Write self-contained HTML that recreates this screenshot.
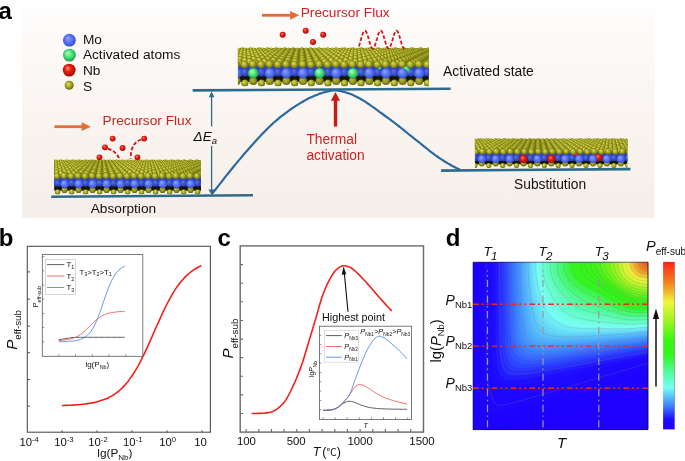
<!DOCTYPE html>
<html><head><meta charset="utf-8"><title>Figure</title>
<style>html,body{margin:0;padding:0;background:#fff;overflow:hidden}svg{display:block;font-family:"Liberation Sans", sans-serif}</style>
</head><body>
<svg width="685" height="461" viewBox="0 0 685 461">
<defs>
<radialGradient id="gy" cx="0.5" cy="0.5" r="0.62" fx="0.36" fy="0.32"><stop offset="0" stop-color="#dcdc66"/><stop offset="0.4" stop-color="#b4b528"/><stop offset="1" stop-color="#505108"/></radialGradient>
<radialGradient id="gyd" cx="0.5" cy="0.5" r="0.62" fx="0.36" fy="0.32"><stop offset="0" stop-color="#b9ba40"/><stop offset="0.5" stop-color="#95961c"/><stop offset="1" stop-color="#4a4b08"/></radialGradient>
<radialGradient id="gb" cx="0.5" cy="0.5" r="0.62" fx="0.36" fy="0.32"><stop offset="0" stop-color="#93a6ff"/><stop offset="0.5" stop-color="#5572f6"/><stop offset="1" stop-color="#2a3cb4"/></radialGradient>
<radialGradient id="gbd" cx="0.5" cy="0.5" r="0.62" fx="0.36" fy="0.32"><stop offset="0" stop-color="#5c74e6"/><stop offset="0.5" stop-color="#3a52cf"/><stop offset="1" stop-color="#1c2a8c"/></radialGradient>
<radialGradient id="gg" cx="0.5" cy="0.5" r="0.62" fx="0.36" fy="0.32"><stop offset="0" stop-color="#b4ffc0"/><stop offset="0.45" stop-color="#4ae67a"/><stop offset="1" stop-color="#14873a"/></radialGradient>
<radialGradient id="gr" cx="0.5" cy="0.5" r="0.62" fx="0.36" fy="0.32"><stop offset="0" stop-color="#ff8a70"/><stop offset="0.4" stop-color="#ee1c14"/><stop offset="1" stop-color="#8e0500"/></radialGradient>
<linearGradient id="bgA" x1="0" y1="0" x2="0" y2="1"><stop offset="0" stop-color="#ffffff"/><stop offset="0.1" stop-color="#fdfbfa"/><stop offset="0.5" stop-color="#faf5f1"/><stop offset="1" stop-color="#f6eee8"/></linearGradient>
<clipPath id="cs1"><rect x="54.1" y="159.3" width="146.9" height="35.3"/></clipPath>
<clipPath id="cs2"><rect x="237.9" y="47.3" width="190.99999999999997" height="39.2"/></clipPath>
<clipPath id="cs3"><rect x="474.9" y="138.2" width="152.60000000000002" height="29.9"/></clipPath>
<linearGradient id="cb" x1="0" y1="0" x2="0" y2="1"><stop offset="0.000" stop-color="rgb(255,35,20)"/><stop offset="0.125" stop-color="rgb(240,130,35)"/><stop offset="0.240" stop-color="rgb(240,245,60)"/><stop offset="0.360" stop-color="rgb(150,245,30)"/><stop offset="0.470" stop-color="rgb(55,245,20)"/><stop offset="0.550" stop-color="rgb(50,245,30)"/><stop offset="0.650" stop-color="rgb(80,250,150)"/><stop offset="0.750" stop-color="rgb(120,255,245)"/><stop offset="0.860" stop-color="rgb(60,130,255)"/><stop offset="0.940" stop-color="rgb(30,10,255)"/><stop offset="1.000" stop-color="rgb(30,0,255)"/></linearGradient>
</defs>
<rect x="22" y="0" width="632.5" height="218.2" fill="url(#bgA)"/>
<line x1="192.7" y1="90.4" x2="450.6" y2="88.8" stroke="#2d6b8c" stroke-width="2.6"/>
<line x1="51.2" y1="196.8" x2="253" y2="195.2" stroke="#2d6b8c" stroke-width="2.6"/>
<line x1="441.1" y1="170.6" x2="630.5" y2="169.1" stroke="#2d6b8c" stroke-width="2.6"/>
<path d="M211.9 194.2L213.9 191.6L215.9 189.0L217.9 186.4L219.9 183.9L221.9 181.3L223.9 178.8L225.9 176.2L227.9 173.7L229.9 171.2L231.9 168.7L233.9 166.3L235.9 163.9L237.9 161.4L239.9 159.1L241.9 156.7L243.9 154.3L245.9 152.0L247.9 149.7L249.9 147.5L251.9 145.2L253.9 143.0L255.9 140.8L257.9 138.6L259.9 136.5L261.9 134.3L263.9 132.2L265.9 130.2L267.9 128.2L269.9 126.3L271.9 124.4L273.9 122.5L275.9 120.8L277.9 119.1L279.9 117.4L281.9 115.8L283.9 114.3L285.9 112.8L287.9 111.3L289.9 109.9L291.9 108.5L293.9 107.2L295.9 105.9L297.9 104.6L299.9 103.4L301.9 102.2L303.9 101.0L305.9 99.9L307.9 98.8L309.9 97.8L311.9 96.9L313.9 96.0L315.9 95.2L317.9 94.4L319.9 93.6L321.9 93.0L323.9 92.4L325.9 91.8L327.9 91.4L329.9 91.0L331.9 90.7L333.9 90.5L335.9 90.5L337.9 90.7L339.9 91.0L341.9 91.4L343.9 91.9L345.9 92.5L347.9 93.1L349.9 93.8L351.9 94.6L353.9 95.5L355.9 96.4L357.9 97.4L359.9 98.5L361.9 99.7L363.9 100.9L365.9 102.2L367.9 103.5L369.9 104.9L371.9 106.3L373.9 107.7L375.9 109.2L377.9 110.6L379.9 112.1L381.9 113.5L383.9 115.0L385.9 116.5L387.9 117.9L389.9 119.4L391.9 120.9L393.9 122.4L395.9 123.9L397.9 125.5L399.9 127.0L401.9 128.6L403.9 130.2L405.9 131.9L407.9 133.5L409.9 135.1L411.9 136.7L413.9 138.3L415.9 139.8L417.9 141.4L419.9 143.0L421.9 144.7L423.9 146.3L425.9 147.9L427.9 149.5L429.9 151.1L431.9 152.6L433.9 154.1L435.9 155.6L437.9 157.0L439.9 158.4L441.9 159.7L443.9 161.0L445.9 162.2L447.9 163.4L449.9 164.5L451.9 165.7L453.9 166.7L455.9 167.8L457.9 168.7L459.8 169.6" fill="none" stroke="#2f6a9f" stroke-width="2.2" stroke-linejoin="round"/>
<path d="M211.6 93V126.5M211.6 146V193" stroke="#2d6b8c" stroke-width="1.3" fill="none"/>
<path d="M211.6 91.6l-2.8 5.6h5.6zM211.6 195l-3.1 -5.4h6.2z" fill="#2d6b8c"/>
<text x="193.6" y="140.8" font-size="13.6" fill="#111" font-style="italic">ΔE<tspan font-size="9.5" dy="2.8">a</tspan></text>
<path d="M335.5 126.5V100" stroke="#c81b12" stroke-width="3.4"/>
<path d="M335.5 92l-4.6 8.8h9.2z" fill="#c81b12"/>
<text x="306.4" y="144" font-size="13.8" fill="#cc2222">Thermal</text>
<text x="306.4" y="159.9" font-size="13.8" fill="#cc2222">activation</text>
<path d="M262 15.3H291.3" stroke="#e16e34" stroke-width="2.8"/>
<path d="M299.3 15.3l-9.2 -4.4v8.8z" fill="#e16e34"/>
<path d="M54.4 126.7H82.9" stroke="#e16e34" stroke-width="2.8"/>
<path d="M90.9 126.7l-9.2 -4.4v8.8z" fill="#e16e34"/>
<text x="300.7" y="16.7" font-size="13.7" fill="#cc2222">Precursor Flux</text>
<text x="102.5" y="125.4" font-size="13.7" fill="#cc2222">Precursor Flux</text>
<text x="443" y="76" font-size="13.85" fill="#111">Activated state</text>
<text x="90.7" y="213.4" font-size="13.7" fill="#111">Absorption</text>
<text x="514" y="189.0" font-size="13.8" fill="#111">Substitution</text>
<circle cx="69.4" cy="40.2" r="6.4" fill="url(#gb)"/>
<text x="82.9" y="43.6" font-size="13.7" fill="#111">Mo</text>
<circle cx="69.4" cy="55.1" r="6.4" fill="url(#gg)"/>
<text x="82.9" y="59.4" font-size="13.7" fill="#111">Activated atoms</text>
<circle cx="69.2" cy="70.1" r="6.4" fill="url(#gr)"/>
<text x="82.9" y="75.1" font-size="13.7" fill="#111">Nb</text>
<circle cx="69.2" cy="85.3" r="4.5" fill="url(#gy)"/>
<text x="82.9" y="90.5" font-size="13.7" fill="#111">S</text>
<g clip-path="url(#cs1)">
<rect x="54.1" y="184.0" width="146.9" height="6.7" fill="#14160a"/>
<circle cx="50.6" cy="189.9" r="3.1" fill="url(#gyd)"/>
<circle cx="64.6" cy="189.9" r="3.1" fill="url(#gyd)"/>
<circle cx="78.6" cy="189.9" r="3.1" fill="url(#gyd)"/>
<circle cx="92.6" cy="189.9" r="3.1" fill="url(#gyd)"/>
<circle cx="106.6" cy="189.9" r="3.1" fill="url(#gyd)"/>
<circle cx="120.6" cy="189.9" r="3.1" fill="url(#gyd)"/>
<circle cx="134.6" cy="189.9" r="3.1" fill="url(#gyd)"/>
<circle cx="148.6" cy="189.9" r="3.1" fill="url(#gyd)"/>
<circle cx="162.6" cy="189.9" r="3.1" fill="url(#gyd)"/>
<circle cx="176.6" cy="189.9" r="3.1" fill="url(#gyd)"/>
<circle cx="190.6" cy="189.9" r="3.1" fill="url(#gyd)"/>
<circle cx="204.6" cy="189.9" r="3.1" fill="url(#gyd)"/>
<circle cx="218.6" cy="189.9" r="3.1" fill="url(#gyd)"/>
<circle cx="232.6" cy="189.9" r="3.1" fill="url(#gyd)"/>
<circle cx="57.6" cy="191.9" r="2.7" fill="url(#gy)"/>
<circle cx="71.6" cy="191.9" r="2.7" fill="url(#gy)"/>
<circle cx="85.6" cy="191.9" r="2.7" fill="url(#gy)"/>
<circle cx="99.6" cy="191.9" r="2.7" fill="url(#gy)"/>
<circle cx="113.6" cy="191.9" r="2.7" fill="url(#gy)"/>
<circle cx="127.6" cy="191.9" r="2.7" fill="url(#gy)"/>
<circle cx="141.6" cy="191.9" r="2.7" fill="url(#gy)"/>
<circle cx="155.6" cy="191.9" r="2.7" fill="url(#gy)"/>
<circle cx="169.6" cy="191.9" r="2.7" fill="url(#gy)"/>
<circle cx="183.6" cy="191.9" r="2.7" fill="url(#gy)"/>
<circle cx="197.6" cy="191.9" r="2.7" fill="url(#gy)"/>
<circle cx="211.6" cy="191.9" r="2.7" fill="url(#gy)"/>
<circle cx="225.6" cy="191.9" r="2.7" fill="url(#gy)"/>
<circle cx="239.6" cy="191.9" r="2.7" fill="url(#gy)"/>
<rect x="54.1" y="176.1" width="146.9" height="10.1" fill="#2f46c4"/>
<circle cx="57.6" cy="183.1" r="3.5" fill="url(#gbd)"/>
<circle cx="71.6" cy="183.1" r="3.5" fill="url(#gbd)"/>
<circle cx="85.6" cy="183.1" r="3.5" fill="url(#gbd)"/>
<circle cx="99.6" cy="183.1" r="3.5" fill="url(#gbd)"/>
<circle cx="113.6" cy="183.1" r="3.5" fill="url(#gbd)"/>
<circle cx="127.6" cy="183.1" r="3.5" fill="url(#gbd)"/>
<circle cx="141.6" cy="183.1" r="3.5" fill="url(#gbd)"/>
<circle cx="155.6" cy="183.1" r="3.5" fill="url(#gbd)"/>
<circle cx="169.6" cy="183.1" r="3.5" fill="url(#gbd)"/>
<circle cx="183.6" cy="183.1" r="3.5" fill="url(#gbd)"/>
<circle cx="197.6" cy="183.1" r="3.5" fill="url(#gbd)"/>
<circle cx="211.6" cy="183.1" r="3.5" fill="url(#gbd)"/>
<circle cx="225.6" cy="183.1" r="3.5" fill="url(#gbd)"/>
<circle cx="239.6" cy="183.1" r="3.5" fill="url(#gbd)"/>
<circle cx="50.6" cy="184.0" r="4.4" fill="url(#gb)"/>
<circle cx="64.6" cy="184.0" r="4.4" fill="url(#gb)"/>
<circle cx="78.6" cy="184.0" r="4.4" fill="url(#gb)"/>
<circle cx="92.6" cy="184.0" r="4.4" fill="url(#gb)"/>
<circle cx="106.6" cy="184.0" r="4.4" fill="url(#gb)"/>
<circle cx="120.6" cy="184.0" r="4.4" fill="url(#gb)"/>
<circle cx="134.6" cy="184.0" r="4.4" fill="url(#gb)"/>
<circle cx="148.6" cy="184.0" r="4.4" fill="url(#gb)"/>
<circle cx="162.6" cy="184.0" r="4.4" fill="url(#gb)"/>
<circle cx="176.6" cy="184.0" r="4.4" fill="url(#gb)"/>
<circle cx="190.6" cy="184.0" r="4.4" fill="url(#gb)"/>
<circle cx="204.6" cy="184.0" r="4.4" fill="url(#gb)"/>
<circle cx="218.6" cy="184.0" r="4.4" fill="url(#gb)"/>
<circle cx="232.6" cy="184.0" r="4.4" fill="url(#gb)"/>
<rect x="54.1" y="160.3" width="146.9" height="16.8" fill="#86871a"/>
<circle cx="47.8" cy="160.8" r="1.5" fill="url(#gy)"/>
<circle cx="54.0" cy="160.8" r="1.5" fill="url(#gy)"/>
<circle cx="60.2" cy="160.8" r="1.5" fill="url(#gy)"/>
<circle cx="66.4" cy="160.8" r="1.5" fill="url(#gy)"/>
<circle cx="72.7" cy="160.8" r="1.5" fill="url(#gy)"/>
<circle cx="78.9" cy="160.8" r="1.5" fill="url(#gy)"/>
<circle cx="85.1" cy="160.8" r="1.5" fill="url(#gy)"/>
<circle cx="91.3" cy="160.8" r="1.5" fill="url(#gy)"/>
<circle cx="97.6" cy="160.8" r="1.5" fill="url(#gy)"/>
<circle cx="103.8" cy="160.8" r="1.5" fill="url(#gy)"/>
<circle cx="110.0" cy="160.8" r="1.5" fill="url(#gy)"/>
<circle cx="116.2" cy="160.8" r="1.5" fill="url(#gy)"/>
<circle cx="122.4" cy="160.8" r="1.5" fill="url(#gy)"/>
<circle cx="128.7" cy="160.8" r="1.5" fill="url(#gy)"/>
<circle cx="134.9" cy="160.8" r="1.5" fill="url(#gy)"/>
<circle cx="141.1" cy="160.8" r="1.5" fill="url(#gy)"/>
<circle cx="147.3" cy="160.8" r="1.5" fill="url(#gy)"/>
<circle cx="153.6" cy="160.8" r="1.5" fill="url(#gy)"/>
<circle cx="159.8" cy="160.8" r="1.5" fill="url(#gy)"/>
<circle cx="166.0" cy="160.8" r="1.5" fill="url(#gy)"/>
<circle cx="172.2" cy="160.8" r="1.5" fill="url(#gy)"/>
<circle cx="178.4" cy="160.8" r="1.5" fill="url(#gy)"/>
<circle cx="184.7" cy="160.8" r="1.5" fill="url(#gy)"/>
<circle cx="190.9" cy="160.8" r="1.5" fill="url(#gy)"/>
<circle cx="197.1" cy="160.8" r="1.5" fill="url(#gy)"/>
<circle cx="203.3" cy="160.8" r="1.5" fill="url(#gy)"/>
<circle cx="209.6" cy="160.8" r="1.5" fill="url(#gy)"/>
<circle cx="43.4" cy="161.0" r="1.5" fill="url(#gy)"/>
<circle cx="49.7" cy="161.0" r="1.5" fill="url(#gy)"/>
<circle cx="56.1" cy="161.0" r="1.5" fill="url(#gy)"/>
<circle cx="62.5" cy="161.0" r="1.5" fill="url(#gy)"/>
<circle cx="68.8" cy="161.0" r="1.5" fill="url(#gy)"/>
<circle cx="75.2" cy="161.0" r="1.5" fill="url(#gy)"/>
<circle cx="81.5" cy="161.0" r="1.5" fill="url(#gy)"/>
<circle cx="87.9" cy="161.0" r="1.5" fill="url(#gy)"/>
<circle cx="94.3" cy="161.0" r="1.5" fill="url(#gy)"/>
<circle cx="100.6" cy="161.0" r="1.5" fill="url(#gy)"/>
<circle cx="107.0" cy="161.0" r="1.5" fill="url(#gy)"/>
<circle cx="113.4" cy="161.0" r="1.5" fill="url(#gy)"/>
<circle cx="119.7" cy="161.0" r="1.5" fill="url(#gy)"/>
<circle cx="126.1" cy="161.0" r="1.5" fill="url(#gy)"/>
<circle cx="132.5" cy="161.0" r="1.5" fill="url(#gy)"/>
<circle cx="138.8" cy="161.0" r="1.5" fill="url(#gy)"/>
<circle cx="145.2" cy="161.0" r="1.5" fill="url(#gy)"/>
<circle cx="151.5" cy="161.0" r="1.5" fill="url(#gy)"/>
<circle cx="157.9" cy="161.0" r="1.5" fill="url(#gy)"/>
<circle cx="164.3" cy="161.0" r="1.5" fill="url(#gy)"/>
<circle cx="170.6" cy="161.0" r="1.5" fill="url(#gy)"/>
<circle cx="177.0" cy="161.0" r="1.5" fill="url(#gy)"/>
<circle cx="183.4" cy="161.0" r="1.5" fill="url(#gy)"/>
<circle cx="189.7" cy="161.0" r="1.5" fill="url(#gy)"/>
<circle cx="196.1" cy="161.0" r="1.5" fill="url(#gy)"/>
<circle cx="202.5" cy="161.0" r="1.5" fill="url(#gy)"/>
<circle cx="208.8" cy="161.0" r="1.5" fill="url(#gy)"/>
<circle cx="45.3" cy="161.3" r="1.5" fill="url(#gy)"/>
<circle cx="51.8" cy="161.3" r="1.5" fill="url(#gy)"/>
<circle cx="58.3" cy="161.3" r="1.5" fill="url(#gy)"/>
<circle cx="64.8" cy="161.3" r="1.5" fill="url(#gy)"/>
<circle cx="71.3" cy="161.3" r="1.5" fill="url(#gy)"/>
<circle cx="77.8" cy="161.3" r="1.5" fill="url(#gy)"/>
<circle cx="84.3" cy="161.3" r="1.5" fill="url(#gy)"/>
<circle cx="90.8" cy="161.3" r="1.5" fill="url(#gy)"/>
<circle cx="97.3" cy="161.3" r="1.5" fill="url(#gy)"/>
<circle cx="103.9" cy="161.3" r="1.5" fill="url(#gy)"/>
<circle cx="110.4" cy="161.3" r="1.5" fill="url(#gy)"/>
<circle cx="116.9" cy="161.3" r="1.5" fill="url(#gy)"/>
<circle cx="123.4" cy="161.3" r="1.5" fill="url(#gy)"/>
<circle cx="129.9" cy="161.3" r="1.5" fill="url(#gy)"/>
<circle cx="136.4" cy="161.3" r="1.5" fill="url(#gy)"/>
<circle cx="142.9" cy="161.3" r="1.5" fill="url(#gy)"/>
<circle cx="149.4" cy="161.3" r="1.5" fill="url(#gy)"/>
<circle cx="156.0" cy="161.3" r="1.5" fill="url(#gy)"/>
<circle cx="162.5" cy="161.3" r="1.5" fill="url(#gy)"/>
<circle cx="169.0" cy="161.3" r="1.5" fill="url(#gy)"/>
<circle cx="175.5" cy="161.3" r="1.5" fill="url(#gy)"/>
<circle cx="182.0" cy="161.3" r="1.5" fill="url(#gy)"/>
<circle cx="188.5" cy="161.3" r="1.5" fill="url(#gy)"/>
<circle cx="195.0" cy="161.3" r="1.5" fill="url(#gy)"/>
<circle cx="201.5" cy="161.3" r="1.5" fill="url(#gy)"/>
<circle cx="208.0" cy="161.3" r="1.5" fill="url(#gy)"/>
<circle cx="47.2" cy="161.6" r="1.6" fill="url(#gy)"/>
<circle cx="53.9" cy="161.6" r="1.6" fill="url(#gy)"/>
<circle cx="60.6" cy="161.6" r="1.6" fill="url(#gy)"/>
<circle cx="67.2" cy="161.6" r="1.6" fill="url(#gy)"/>
<circle cx="73.9" cy="161.6" r="1.6" fill="url(#gy)"/>
<circle cx="80.6" cy="161.6" r="1.6" fill="url(#gy)"/>
<circle cx="87.2" cy="161.6" r="1.6" fill="url(#gy)"/>
<circle cx="93.9" cy="161.6" r="1.6" fill="url(#gy)"/>
<circle cx="100.6" cy="161.6" r="1.6" fill="url(#gy)"/>
<circle cx="107.2" cy="161.6" r="1.6" fill="url(#gy)"/>
<circle cx="113.9" cy="161.6" r="1.6" fill="url(#gy)"/>
<circle cx="120.6" cy="161.6" r="1.6" fill="url(#gy)"/>
<circle cx="127.2" cy="161.6" r="1.6" fill="url(#gy)"/>
<circle cx="133.9" cy="161.6" r="1.6" fill="url(#gy)"/>
<circle cx="140.6" cy="161.6" r="1.6" fill="url(#gy)"/>
<circle cx="147.2" cy="161.6" r="1.6" fill="url(#gy)"/>
<circle cx="153.9" cy="161.6" r="1.6" fill="url(#gy)"/>
<circle cx="160.6" cy="161.6" r="1.6" fill="url(#gy)"/>
<circle cx="167.2" cy="161.6" r="1.6" fill="url(#gy)"/>
<circle cx="173.9" cy="161.6" r="1.6" fill="url(#gy)"/>
<circle cx="180.6" cy="161.6" r="1.6" fill="url(#gy)"/>
<circle cx="187.2" cy="161.6" r="1.6" fill="url(#gy)"/>
<circle cx="193.9" cy="161.6" r="1.6" fill="url(#gy)"/>
<circle cx="200.6" cy="161.6" r="1.6" fill="url(#gy)"/>
<circle cx="207.2" cy="161.6" r="1.6" fill="url(#gy)"/>
<circle cx="213.9" cy="161.6" r="1.6" fill="url(#gy)"/>
<circle cx="42.5" cy="162.0" r="1.6" fill="url(#gy)"/>
<circle cx="49.3" cy="162.0" r="1.6" fill="url(#gy)"/>
<circle cx="56.1" cy="162.0" r="1.6" fill="url(#gy)"/>
<circle cx="63.0" cy="162.0" r="1.6" fill="url(#gy)"/>
<circle cx="69.8" cy="162.0" r="1.6" fill="url(#gy)"/>
<circle cx="76.6" cy="162.0" r="1.6" fill="url(#gy)"/>
<circle cx="83.5" cy="162.0" r="1.6" fill="url(#gy)"/>
<circle cx="90.3" cy="162.0" r="1.6" fill="url(#gy)"/>
<circle cx="97.1" cy="162.0" r="1.6" fill="url(#gy)"/>
<circle cx="104.0" cy="162.0" r="1.6" fill="url(#gy)"/>
<circle cx="110.8" cy="162.0" r="1.6" fill="url(#gy)"/>
<circle cx="117.6" cy="162.0" r="1.6" fill="url(#gy)"/>
<circle cx="124.4" cy="162.0" r="1.6" fill="url(#gy)"/>
<circle cx="131.3" cy="162.0" r="1.6" fill="url(#gy)"/>
<circle cx="138.1" cy="162.0" r="1.6" fill="url(#gy)"/>
<circle cx="144.9" cy="162.0" r="1.6" fill="url(#gy)"/>
<circle cx="151.8" cy="162.0" r="1.6" fill="url(#gy)"/>
<circle cx="158.6" cy="162.0" r="1.6" fill="url(#gy)"/>
<circle cx="165.4" cy="162.0" r="1.6" fill="url(#gy)"/>
<circle cx="172.2" cy="162.0" r="1.6" fill="url(#gy)"/>
<circle cx="179.1" cy="162.0" r="1.6" fill="url(#gy)"/>
<circle cx="185.9" cy="162.0" r="1.6" fill="url(#gy)"/>
<circle cx="192.7" cy="162.0" r="1.6" fill="url(#gy)"/>
<circle cx="199.6" cy="162.0" r="1.6" fill="url(#gy)"/>
<circle cx="206.4" cy="162.0" r="1.6" fill="url(#gy)"/>
<circle cx="213.2" cy="162.0" r="1.6" fill="url(#gy)"/>
<circle cx="44.5" cy="162.3" r="1.6" fill="url(#gy)"/>
<circle cx="51.5" cy="162.3" r="1.6" fill="url(#gy)"/>
<circle cx="58.5" cy="162.3" r="1.6" fill="url(#gy)"/>
<circle cx="65.5" cy="162.3" r="1.6" fill="url(#gy)"/>
<circle cx="72.5" cy="162.3" r="1.6" fill="url(#gy)"/>
<circle cx="79.5" cy="162.3" r="1.6" fill="url(#gy)"/>
<circle cx="86.5" cy="162.3" r="1.6" fill="url(#gy)"/>
<circle cx="93.5" cy="162.3" r="1.6" fill="url(#gy)"/>
<circle cx="100.5" cy="162.3" r="1.6" fill="url(#gy)"/>
<circle cx="107.5" cy="162.3" r="1.6" fill="url(#gy)"/>
<circle cx="114.5" cy="162.3" r="1.6" fill="url(#gy)"/>
<circle cx="121.5" cy="162.3" r="1.6" fill="url(#gy)"/>
<circle cx="128.5" cy="162.3" r="1.6" fill="url(#gy)"/>
<circle cx="135.5" cy="162.3" r="1.6" fill="url(#gy)"/>
<circle cx="142.5" cy="162.3" r="1.6" fill="url(#gy)"/>
<circle cx="149.5" cy="162.3" r="1.6" fill="url(#gy)"/>
<circle cx="156.5" cy="162.3" r="1.6" fill="url(#gy)"/>
<circle cx="163.5" cy="162.3" r="1.6" fill="url(#gy)"/>
<circle cx="170.5" cy="162.3" r="1.6" fill="url(#gy)"/>
<circle cx="177.5" cy="162.3" r="1.6" fill="url(#gy)"/>
<circle cx="184.5" cy="162.3" r="1.6" fill="url(#gy)"/>
<circle cx="191.5" cy="162.3" r="1.6" fill="url(#gy)"/>
<circle cx="198.5" cy="162.3" r="1.6" fill="url(#gy)"/>
<circle cx="205.5" cy="162.3" r="1.6" fill="url(#gy)"/>
<circle cx="212.5" cy="162.3" r="1.6" fill="url(#gy)"/>
<circle cx="46.6" cy="162.7" r="1.7" fill="url(#gy)"/>
<circle cx="53.8" cy="162.7" r="1.7" fill="url(#gy)"/>
<circle cx="61.0" cy="162.7" r="1.7" fill="url(#gy)"/>
<circle cx="68.2" cy="162.7" r="1.7" fill="url(#gy)"/>
<circle cx="75.3" cy="162.7" r="1.7" fill="url(#gy)"/>
<circle cx="82.5" cy="162.7" r="1.7" fill="url(#gy)"/>
<circle cx="89.7" cy="162.7" r="1.7" fill="url(#gy)"/>
<circle cx="96.9" cy="162.7" r="1.7" fill="url(#gy)"/>
<circle cx="104.1" cy="162.7" r="1.7" fill="url(#gy)"/>
<circle cx="111.2" cy="162.7" r="1.7" fill="url(#gy)"/>
<circle cx="118.4" cy="162.7" r="1.7" fill="url(#gy)"/>
<circle cx="125.6" cy="162.7" r="1.7" fill="url(#gy)"/>
<circle cx="132.8" cy="162.7" r="1.7" fill="url(#gy)"/>
<circle cx="139.9" cy="162.7" r="1.7" fill="url(#gy)"/>
<circle cx="147.1" cy="162.7" r="1.7" fill="url(#gy)"/>
<circle cx="154.3" cy="162.7" r="1.7" fill="url(#gy)"/>
<circle cx="161.5" cy="162.7" r="1.7" fill="url(#gy)"/>
<circle cx="168.7" cy="162.7" r="1.7" fill="url(#gy)"/>
<circle cx="175.8" cy="162.7" r="1.7" fill="url(#gy)"/>
<circle cx="183.0" cy="162.7" r="1.7" fill="url(#gy)"/>
<circle cx="190.2" cy="162.7" r="1.7" fill="url(#gy)"/>
<circle cx="197.4" cy="162.7" r="1.7" fill="url(#gy)"/>
<circle cx="204.6" cy="162.7" r="1.7" fill="url(#gy)"/>
<circle cx="211.7" cy="162.7" r="1.7" fill="url(#gy)"/>
<circle cx="41.5" cy="163.0" r="1.7" fill="url(#gy)"/>
<circle cx="48.8" cy="163.0" r="1.7" fill="url(#gy)"/>
<circle cx="56.2" cy="163.0" r="1.7" fill="url(#gy)"/>
<circle cx="63.6" cy="163.0" r="1.7" fill="url(#gy)"/>
<circle cx="70.9" cy="163.0" r="1.7" fill="url(#gy)"/>
<circle cx="78.3" cy="163.0" r="1.7" fill="url(#gy)"/>
<circle cx="85.7" cy="163.0" r="1.7" fill="url(#gy)"/>
<circle cx="93.1" cy="163.0" r="1.7" fill="url(#gy)"/>
<circle cx="100.4" cy="163.0" r="1.7" fill="url(#gy)"/>
<circle cx="107.8" cy="163.0" r="1.7" fill="url(#gy)"/>
<circle cx="115.2" cy="163.0" r="1.7" fill="url(#gy)"/>
<circle cx="122.5" cy="163.0" r="1.7" fill="url(#gy)"/>
<circle cx="129.9" cy="163.0" r="1.7" fill="url(#gy)"/>
<circle cx="137.3" cy="163.0" r="1.7" fill="url(#gy)"/>
<circle cx="144.6" cy="163.0" r="1.7" fill="url(#gy)"/>
<circle cx="152.0" cy="163.0" r="1.7" fill="url(#gy)"/>
<circle cx="159.4" cy="163.0" r="1.7" fill="url(#gy)"/>
<circle cx="166.7" cy="163.0" r="1.7" fill="url(#gy)"/>
<circle cx="174.1" cy="163.0" r="1.7" fill="url(#gy)"/>
<circle cx="181.5" cy="163.0" r="1.7" fill="url(#gy)"/>
<circle cx="188.8" cy="163.0" r="1.7" fill="url(#gy)"/>
<circle cx="196.2" cy="163.0" r="1.7" fill="url(#gy)"/>
<circle cx="203.6" cy="163.0" r="1.7" fill="url(#gy)"/>
<circle cx="210.9" cy="163.0" r="1.7" fill="url(#gy)"/>
<circle cx="43.6" cy="163.4" r="1.8" fill="url(#gy)"/>
<circle cx="51.2" cy="163.4" r="1.8" fill="url(#gy)"/>
<circle cx="58.8" cy="163.4" r="1.8" fill="url(#gy)"/>
<circle cx="66.3" cy="163.4" r="1.8" fill="url(#gy)"/>
<circle cx="73.9" cy="163.4" r="1.8" fill="url(#gy)"/>
<circle cx="81.5" cy="163.4" r="1.8" fill="url(#gy)"/>
<circle cx="89.0" cy="163.4" r="1.8" fill="url(#gy)"/>
<circle cx="96.6" cy="163.4" r="1.8" fill="url(#gy)"/>
<circle cx="104.2" cy="163.4" r="1.8" fill="url(#gy)"/>
<circle cx="111.7" cy="163.4" r="1.8" fill="url(#gy)"/>
<circle cx="119.3" cy="163.4" r="1.8" fill="url(#gy)"/>
<circle cx="126.9" cy="163.4" r="1.8" fill="url(#gy)"/>
<circle cx="134.4" cy="163.4" r="1.8" fill="url(#gy)"/>
<circle cx="142.0" cy="163.4" r="1.8" fill="url(#gy)"/>
<circle cx="149.6" cy="163.4" r="1.8" fill="url(#gy)"/>
<circle cx="157.1" cy="163.4" r="1.8" fill="url(#gy)"/>
<circle cx="164.7" cy="163.4" r="1.8" fill="url(#gy)"/>
<circle cx="172.3" cy="163.4" r="1.8" fill="url(#gy)"/>
<circle cx="179.8" cy="163.4" r="1.8" fill="url(#gy)"/>
<circle cx="187.4" cy="163.4" r="1.8" fill="url(#gy)"/>
<circle cx="195.0" cy="163.4" r="1.8" fill="url(#gy)"/>
<circle cx="202.5" cy="163.4" r="1.8" fill="url(#gy)"/>
<circle cx="210.1" cy="163.4" r="1.8" fill="url(#gy)"/>
<circle cx="45.9" cy="163.8" r="1.8" fill="url(#gy)"/>
<circle cx="53.7" cy="163.8" r="1.8" fill="url(#gy)"/>
<circle cx="61.4" cy="163.8" r="1.8" fill="url(#gy)"/>
<circle cx="69.2" cy="163.8" r="1.8" fill="url(#gy)"/>
<circle cx="77.0" cy="163.8" r="1.8" fill="url(#gy)"/>
<circle cx="84.8" cy="163.8" r="1.8" fill="url(#gy)"/>
<circle cx="92.6" cy="163.8" r="1.8" fill="url(#gy)"/>
<circle cx="100.3" cy="163.8" r="1.8" fill="url(#gy)"/>
<circle cx="108.1" cy="163.8" r="1.8" fill="url(#gy)"/>
<circle cx="115.9" cy="163.8" r="1.8" fill="url(#gy)"/>
<circle cx="123.7" cy="163.8" r="1.8" fill="url(#gy)"/>
<circle cx="131.4" cy="163.8" r="1.8" fill="url(#gy)"/>
<circle cx="139.2" cy="163.8" r="1.8" fill="url(#gy)"/>
<circle cx="147.0" cy="163.8" r="1.8" fill="url(#gy)"/>
<circle cx="154.8" cy="163.8" r="1.8" fill="url(#gy)"/>
<circle cx="162.6" cy="163.8" r="1.8" fill="url(#gy)"/>
<circle cx="170.3" cy="163.8" r="1.8" fill="url(#gy)"/>
<circle cx="178.1" cy="163.8" r="1.8" fill="url(#gy)"/>
<circle cx="185.9" cy="163.8" r="1.8" fill="url(#gy)"/>
<circle cx="193.7" cy="163.8" r="1.8" fill="url(#gy)"/>
<circle cx="201.4" cy="163.8" r="1.8" fill="url(#gy)"/>
<circle cx="209.2" cy="163.8" r="1.8" fill="url(#gy)"/>
<circle cx="40.3" cy="164.3" r="1.9" fill="url(#gy)"/>
<circle cx="48.3" cy="164.3" r="1.9" fill="url(#gy)"/>
<circle cx="56.3" cy="164.3" r="1.9" fill="url(#gy)"/>
<circle cx="64.3" cy="164.3" r="1.9" fill="url(#gy)"/>
<circle cx="72.3" cy="164.3" r="1.9" fill="url(#gy)"/>
<circle cx="80.3" cy="164.3" r="1.9" fill="url(#gy)"/>
<circle cx="88.3" cy="164.3" r="1.9" fill="url(#gy)"/>
<circle cx="96.3" cy="164.3" r="1.9" fill="url(#gy)"/>
<circle cx="104.3" cy="164.3" r="1.9" fill="url(#gy)"/>
<circle cx="112.3" cy="164.3" r="1.9" fill="url(#gy)"/>
<circle cx="120.3" cy="164.3" r="1.9" fill="url(#gy)"/>
<circle cx="128.3" cy="164.3" r="1.9" fill="url(#gy)"/>
<circle cx="136.3" cy="164.3" r="1.9" fill="url(#gy)"/>
<circle cx="144.3" cy="164.3" r="1.9" fill="url(#gy)"/>
<circle cx="152.3" cy="164.3" r="1.9" fill="url(#gy)"/>
<circle cx="160.3" cy="164.3" r="1.9" fill="url(#gy)"/>
<circle cx="168.3" cy="164.3" r="1.9" fill="url(#gy)"/>
<circle cx="176.3" cy="164.3" r="1.9" fill="url(#gy)"/>
<circle cx="184.3" cy="164.3" r="1.9" fill="url(#gy)"/>
<circle cx="192.3" cy="164.3" r="1.9" fill="url(#gy)"/>
<circle cx="200.3" cy="164.3" r="1.9" fill="url(#gy)"/>
<circle cx="208.3" cy="164.3" r="1.9" fill="url(#gy)"/>
<circle cx="216.3" cy="164.3" r="1.9" fill="url(#gy)"/>
<circle cx="42.6" cy="164.7" r="1.9" fill="url(#gy)"/>
<circle cx="50.8" cy="164.7" r="1.9" fill="url(#gy)"/>
<circle cx="59.1" cy="164.7" r="1.9" fill="url(#gy)"/>
<circle cx="67.3" cy="164.7" r="1.9" fill="url(#gy)"/>
<circle cx="75.5" cy="164.7" r="1.9" fill="url(#gy)"/>
<circle cx="83.8" cy="164.7" r="1.9" fill="url(#gy)"/>
<circle cx="92.0" cy="164.7" r="1.9" fill="url(#gy)"/>
<circle cx="100.2" cy="164.7" r="1.9" fill="url(#gy)"/>
<circle cx="108.5" cy="164.7" r="1.9" fill="url(#gy)"/>
<circle cx="116.7" cy="164.7" r="1.9" fill="url(#gy)"/>
<circle cx="124.9" cy="164.7" r="1.9" fill="url(#gy)"/>
<circle cx="133.2" cy="164.7" r="1.9" fill="url(#gy)"/>
<circle cx="141.4" cy="164.7" r="1.9" fill="url(#gy)"/>
<circle cx="149.6" cy="164.7" r="1.9" fill="url(#gy)"/>
<circle cx="157.9" cy="164.7" r="1.9" fill="url(#gy)"/>
<circle cx="166.1" cy="164.7" r="1.9" fill="url(#gy)"/>
<circle cx="174.4" cy="164.7" r="1.9" fill="url(#gy)"/>
<circle cx="182.6" cy="164.7" r="1.9" fill="url(#gy)"/>
<circle cx="190.8" cy="164.7" r="1.9" fill="url(#gy)"/>
<circle cx="199.1" cy="164.7" r="1.9" fill="url(#gy)"/>
<circle cx="207.3" cy="164.7" r="1.9" fill="url(#gy)"/>
<circle cx="215.5" cy="164.7" r="1.9" fill="url(#gy)"/>
<circle cx="45.0" cy="165.2" r="2.0" fill="url(#gy)"/>
<circle cx="53.5" cy="165.2" r="2.0" fill="url(#gy)"/>
<circle cx="62.0" cy="165.2" r="2.0" fill="url(#gy)"/>
<circle cx="70.5" cy="165.2" r="2.0" fill="url(#gy)"/>
<circle cx="79.0" cy="165.2" r="2.0" fill="url(#gy)"/>
<circle cx="87.5" cy="165.2" r="2.0" fill="url(#gy)"/>
<circle cx="95.9" cy="165.2" r="2.0" fill="url(#gy)"/>
<circle cx="104.4" cy="165.2" r="2.0" fill="url(#gy)"/>
<circle cx="112.9" cy="165.2" r="2.0" fill="url(#gy)"/>
<circle cx="121.4" cy="165.2" r="2.0" fill="url(#gy)"/>
<circle cx="129.9" cy="165.2" r="2.0" fill="url(#gy)"/>
<circle cx="138.4" cy="165.2" r="2.0" fill="url(#gy)"/>
<circle cx="146.8" cy="165.2" r="2.0" fill="url(#gy)"/>
<circle cx="155.3" cy="165.2" r="2.0" fill="url(#gy)"/>
<circle cx="163.8" cy="165.2" r="2.0" fill="url(#gy)"/>
<circle cx="172.3" cy="165.2" r="2.0" fill="url(#gy)"/>
<circle cx="180.8" cy="165.2" r="2.0" fill="url(#gy)"/>
<circle cx="189.3" cy="165.2" r="2.0" fill="url(#gy)"/>
<circle cx="197.8" cy="165.2" r="2.0" fill="url(#gy)"/>
<circle cx="206.2" cy="165.2" r="2.0" fill="url(#gy)"/>
<circle cx="214.7" cy="165.2" r="2.0" fill="url(#gy)"/>
<circle cx="38.9" cy="165.8" r="2.1" fill="url(#gy)"/>
<circle cx="47.6" cy="165.8" r="2.1" fill="url(#gy)"/>
<circle cx="56.4" cy="165.8" r="2.1" fill="url(#gy)"/>
<circle cx="65.1" cy="165.8" r="2.1" fill="url(#gy)"/>
<circle cx="73.9" cy="165.8" r="2.1" fill="url(#gy)"/>
<circle cx="82.6" cy="165.8" r="2.1" fill="url(#gy)"/>
<circle cx="91.4" cy="165.8" r="2.1" fill="url(#gy)"/>
<circle cx="100.1" cy="165.8" r="2.1" fill="url(#gy)"/>
<circle cx="108.9" cy="165.8" r="2.1" fill="url(#gy)"/>
<circle cx="117.6" cy="165.8" r="2.1" fill="url(#gy)"/>
<circle cx="126.4" cy="165.8" r="2.1" fill="url(#gy)"/>
<circle cx="135.1" cy="165.8" r="2.1" fill="url(#gy)"/>
<circle cx="143.9" cy="165.8" r="2.1" fill="url(#gy)"/>
<circle cx="152.6" cy="165.8" r="2.1" fill="url(#gy)"/>
<circle cx="161.4" cy="165.8" r="2.1" fill="url(#gy)"/>
<circle cx="170.1" cy="165.8" r="2.1" fill="url(#gy)"/>
<circle cx="178.9" cy="165.8" r="2.1" fill="url(#gy)"/>
<circle cx="187.6" cy="165.8" r="2.1" fill="url(#gy)"/>
<circle cx="196.4" cy="165.8" r="2.1" fill="url(#gy)"/>
<circle cx="205.1" cy="165.8" r="2.1" fill="url(#gy)"/>
<circle cx="213.9" cy="165.8" r="2.1" fill="url(#gy)"/>
<circle cx="41.4" cy="166.3" r="2.1" fill="url(#gy)"/>
<circle cx="50.4" cy="166.3" r="2.1" fill="url(#gy)"/>
<circle cx="59.4" cy="166.3" r="2.1" fill="url(#gy)"/>
<circle cx="68.5" cy="166.3" r="2.1" fill="url(#gy)"/>
<circle cx="77.5" cy="166.3" r="2.1" fill="url(#gy)"/>
<circle cx="86.5" cy="166.3" r="2.1" fill="url(#gy)"/>
<circle cx="95.5" cy="166.3" r="2.1" fill="url(#gy)"/>
<circle cx="104.6" cy="166.3" r="2.1" fill="url(#gy)"/>
<circle cx="113.6" cy="166.3" r="2.1" fill="url(#gy)"/>
<circle cx="122.6" cy="166.3" r="2.1" fill="url(#gy)"/>
<circle cx="131.7" cy="166.3" r="2.1" fill="url(#gy)"/>
<circle cx="140.7" cy="166.3" r="2.1" fill="url(#gy)"/>
<circle cx="149.7" cy="166.3" r="2.1" fill="url(#gy)"/>
<circle cx="158.8" cy="166.3" r="2.1" fill="url(#gy)"/>
<circle cx="167.8" cy="166.3" r="2.1" fill="url(#gy)"/>
<circle cx="176.8" cy="166.3" r="2.1" fill="url(#gy)"/>
<circle cx="185.9" cy="166.3" r="2.1" fill="url(#gy)"/>
<circle cx="194.9" cy="166.3" r="2.1" fill="url(#gy)"/>
<circle cx="203.9" cy="166.3" r="2.1" fill="url(#gy)"/>
<circle cx="213.0" cy="166.3" r="2.1" fill="url(#gy)"/>
<circle cx="44.0" cy="166.9" r="2.2" fill="url(#gy)"/>
<circle cx="53.3" cy="166.9" r="2.2" fill="url(#gy)"/>
<circle cx="62.7" cy="166.9" r="2.2" fill="url(#gy)"/>
<circle cx="72.0" cy="166.9" r="2.2" fill="url(#gy)"/>
<circle cx="81.3" cy="166.9" r="2.2" fill="url(#gy)"/>
<circle cx="90.7" cy="166.9" r="2.2" fill="url(#gy)"/>
<circle cx="100.0" cy="166.9" r="2.2" fill="url(#gy)"/>
<circle cx="109.3" cy="166.9" r="2.2" fill="url(#gy)"/>
<circle cx="118.7" cy="166.9" r="2.2" fill="url(#gy)"/>
<circle cx="128.0" cy="166.9" r="2.2" fill="url(#gy)"/>
<circle cx="137.3" cy="166.9" r="2.2" fill="url(#gy)"/>
<circle cx="146.7" cy="166.9" r="2.2" fill="url(#gy)"/>
<circle cx="156.0" cy="166.9" r="2.2" fill="url(#gy)"/>
<circle cx="165.3" cy="166.9" r="2.2" fill="url(#gy)"/>
<circle cx="174.7" cy="166.9" r="2.2" fill="url(#gy)"/>
<circle cx="184.0" cy="166.9" r="2.2" fill="url(#gy)"/>
<circle cx="193.3" cy="166.9" r="2.2" fill="url(#gy)"/>
<circle cx="202.7" cy="166.9" r="2.2" fill="url(#gy)"/>
<circle cx="212.0" cy="166.9" r="2.2" fill="url(#gy)"/>
<circle cx="37.2" cy="167.5" r="2.3" fill="url(#gy)"/>
<circle cx="46.8" cy="167.5" r="2.3" fill="url(#gy)"/>
<circle cx="56.5" cy="167.5" r="2.3" fill="url(#gy)"/>
<circle cx="66.1" cy="167.5" r="2.3" fill="url(#gy)"/>
<circle cx="75.8" cy="167.5" r="2.3" fill="url(#gy)"/>
<circle cx="85.4" cy="167.5" r="2.3" fill="url(#gy)"/>
<circle cx="95.1" cy="167.5" r="2.3" fill="url(#gy)"/>
<circle cx="104.8" cy="167.5" r="2.3" fill="url(#gy)"/>
<circle cx="114.4" cy="167.5" r="2.3" fill="url(#gy)"/>
<circle cx="124.1" cy="167.5" r="2.3" fill="url(#gy)"/>
<circle cx="133.7" cy="167.5" r="2.3" fill="url(#gy)"/>
<circle cx="143.4" cy="167.5" r="2.3" fill="url(#gy)"/>
<circle cx="153.0" cy="167.5" r="2.3" fill="url(#gy)"/>
<circle cx="162.7" cy="167.5" r="2.3" fill="url(#gy)"/>
<circle cx="172.3" cy="167.5" r="2.3" fill="url(#gy)"/>
<circle cx="182.0" cy="167.5" r="2.3" fill="url(#gy)"/>
<circle cx="191.7" cy="167.5" r="2.3" fill="url(#gy)"/>
<circle cx="201.3" cy="167.5" r="2.3" fill="url(#gy)"/>
<circle cx="211.0" cy="167.5" r="2.3" fill="url(#gy)"/>
<circle cx="39.9" cy="168.2" r="2.4" fill="url(#gy)"/>
<circle cx="49.9" cy="168.2" r="2.4" fill="url(#gy)"/>
<circle cx="59.9" cy="168.2" r="2.4" fill="url(#gy)"/>
<circle cx="69.9" cy="168.2" r="2.4" fill="url(#gy)"/>
<circle cx="79.9" cy="168.2" r="2.4" fill="url(#gy)"/>
<circle cx="89.9" cy="168.2" r="2.4" fill="url(#gy)"/>
<circle cx="99.9" cy="168.2" r="2.4" fill="url(#gy)"/>
<circle cx="109.9" cy="168.2" r="2.4" fill="url(#gy)"/>
<circle cx="119.9" cy="168.2" r="2.4" fill="url(#gy)"/>
<circle cx="129.9" cy="168.2" r="2.4" fill="url(#gy)"/>
<circle cx="139.9" cy="168.2" r="2.4" fill="url(#gy)"/>
<circle cx="149.9" cy="168.2" r="2.4" fill="url(#gy)"/>
<circle cx="159.9" cy="168.2" r="2.4" fill="url(#gy)"/>
<circle cx="169.9" cy="168.2" r="2.4" fill="url(#gy)"/>
<circle cx="179.9" cy="168.2" r="2.4" fill="url(#gy)"/>
<circle cx="189.9" cy="168.2" r="2.4" fill="url(#gy)"/>
<circle cx="199.9" cy="168.2" r="2.4" fill="url(#gy)"/>
<circle cx="209.9" cy="168.2" r="2.4" fill="url(#gy)"/>
<circle cx="219.9" cy="168.2" r="2.4" fill="url(#gy)"/>
<circle cx="42.7" cy="168.9" r="2.4" fill="url(#gy)"/>
<circle cx="53.1" cy="168.9" r="2.4" fill="url(#gy)"/>
<circle cx="63.5" cy="168.9" r="2.4" fill="url(#gy)"/>
<circle cx="73.9" cy="168.9" r="2.4" fill="url(#gy)"/>
<circle cx="84.2" cy="168.9" r="2.4" fill="url(#gy)"/>
<circle cx="94.6" cy="168.9" r="2.4" fill="url(#gy)"/>
<circle cx="105.0" cy="168.9" r="2.4" fill="url(#gy)"/>
<circle cx="115.3" cy="168.9" r="2.4" fill="url(#gy)"/>
<circle cx="125.7" cy="168.9" r="2.4" fill="url(#gy)"/>
<circle cx="136.1" cy="168.9" r="2.4" fill="url(#gy)"/>
<circle cx="146.4" cy="168.9" r="2.4" fill="url(#gy)"/>
<circle cx="156.8" cy="168.9" r="2.4" fill="url(#gy)"/>
<circle cx="167.2" cy="168.9" r="2.4" fill="url(#gy)"/>
<circle cx="177.6" cy="168.9" r="2.4" fill="url(#gy)"/>
<circle cx="187.9" cy="168.9" r="2.4" fill="url(#gy)"/>
<circle cx="198.3" cy="168.9" r="2.4" fill="url(#gy)"/>
<circle cx="208.7" cy="168.9" r="2.4" fill="url(#gy)"/>
<circle cx="219.0" cy="168.9" r="2.4" fill="url(#gy)"/>
<circle cx="35.1" cy="169.7" r="2.5" fill="url(#gy)"/>
<circle cx="45.8" cy="169.7" r="2.5" fill="url(#gy)"/>
<circle cx="56.6" cy="169.7" r="2.5" fill="url(#gy)"/>
<circle cx="67.4" cy="169.7" r="2.5" fill="url(#gy)"/>
<circle cx="78.2" cy="169.7" r="2.5" fill="url(#gy)"/>
<circle cx="88.9" cy="169.7" r="2.5" fill="url(#gy)"/>
<circle cx="99.7" cy="169.7" r="2.5" fill="url(#gy)"/>
<circle cx="110.5" cy="169.7" r="2.5" fill="url(#gy)"/>
<circle cx="121.2" cy="169.7" r="2.5" fill="url(#gy)"/>
<circle cx="132.0" cy="169.7" r="2.5" fill="url(#gy)"/>
<circle cx="142.8" cy="169.7" r="2.5" fill="url(#gy)"/>
<circle cx="153.5" cy="169.7" r="2.5" fill="url(#gy)"/>
<circle cx="164.3" cy="169.7" r="2.5" fill="url(#gy)"/>
<circle cx="175.1" cy="169.7" r="2.5" fill="url(#gy)"/>
<circle cx="185.8" cy="169.7" r="2.5" fill="url(#gy)"/>
<circle cx="196.6" cy="169.7" r="2.5" fill="url(#gy)"/>
<circle cx="207.4" cy="169.7" r="2.5" fill="url(#gy)"/>
<circle cx="218.2" cy="169.7" r="2.5" fill="url(#gy)"/>
<circle cx="38.0" cy="170.6" r="2.6" fill="url(#gy)"/>
<circle cx="49.2" cy="170.6" r="2.6" fill="url(#gy)"/>
<circle cx="60.4" cy="170.6" r="2.6" fill="url(#gy)"/>
<circle cx="71.6" cy="170.6" r="2.6" fill="url(#gy)"/>
<circle cx="82.8" cy="170.6" r="2.6" fill="url(#gy)"/>
<circle cx="94.0" cy="170.6" r="2.6" fill="url(#gy)"/>
<circle cx="105.2" cy="170.6" r="2.6" fill="url(#gy)"/>
<circle cx="116.4" cy="170.6" r="2.6" fill="url(#gy)"/>
<circle cx="127.6" cy="170.6" r="2.6" fill="url(#gy)"/>
<circle cx="138.8" cy="170.6" r="2.6" fill="url(#gy)"/>
<circle cx="150.0" cy="170.6" r="2.6" fill="url(#gy)"/>
<circle cx="161.2" cy="170.6" r="2.6" fill="url(#gy)"/>
<circle cx="172.4" cy="170.6" r="2.6" fill="url(#gy)"/>
<circle cx="183.6" cy="170.6" r="2.6" fill="url(#gy)"/>
<circle cx="194.8" cy="170.6" r="2.6" fill="url(#gy)"/>
<circle cx="206.0" cy="170.6" r="2.6" fill="url(#gy)"/>
<circle cx="217.2" cy="170.6" r="2.6" fill="url(#gy)"/>
<circle cx="41.2" cy="171.5" r="2.8" fill="url(#gy)"/>
<circle cx="52.8" cy="171.5" r="2.8" fill="url(#gy)"/>
<circle cx="64.5" cy="171.5" r="2.8" fill="url(#gy)"/>
<circle cx="76.2" cy="171.5" r="2.8" fill="url(#gy)"/>
<circle cx="87.8" cy="171.5" r="2.8" fill="url(#gy)"/>
<circle cx="99.5" cy="171.5" r="2.8" fill="url(#gy)"/>
<circle cx="111.2" cy="171.5" r="2.8" fill="url(#gy)"/>
<circle cx="122.8" cy="171.5" r="2.8" fill="url(#gy)"/>
<circle cx="134.5" cy="171.5" r="2.8" fill="url(#gy)"/>
<circle cx="146.2" cy="171.5" r="2.8" fill="url(#gy)"/>
<circle cx="157.8" cy="171.5" r="2.8" fill="url(#gy)"/>
<circle cx="169.5" cy="171.5" r="2.8" fill="url(#gy)"/>
<circle cx="181.2" cy="171.5" r="2.8" fill="url(#gy)"/>
<circle cx="192.8" cy="171.5" r="2.8" fill="url(#gy)"/>
<circle cx="204.5" cy="171.5" r="2.8" fill="url(#gy)"/>
<circle cx="216.2" cy="171.5" r="2.8" fill="url(#gy)"/>
<circle cx="32.4" cy="172.5" r="2.9" fill="url(#gy)"/>
<circle cx="44.6" cy="172.5" r="2.9" fill="url(#gy)"/>
<circle cx="56.8" cy="172.5" r="2.9" fill="url(#gy)"/>
<circle cx="69.0" cy="172.5" r="2.9" fill="url(#gy)"/>
<circle cx="81.1" cy="172.5" r="2.9" fill="url(#gy)"/>
<circle cx="93.3" cy="172.5" r="2.9" fill="url(#gy)"/>
<circle cx="105.5" cy="172.5" r="2.9" fill="url(#gy)"/>
<circle cx="117.7" cy="172.5" r="2.9" fill="url(#gy)"/>
<circle cx="129.8" cy="172.5" r="2.9" fill="url(#gy)"/>
<circle cx="142.0" cy="172.5" r="2.9" fill="url(#gy)"/>
<circle cx="154.2" cy="172.5" r="2.9" fill="url(#gy)"/>
<circle cx="166.3" cy="172.5" r="2.9" fill="url(#gy)"/>
<circle cx="178.5" cy="172.5" r="2.9" fill="url(#gy)"/>
<circle cx="190.7" cy="172.5" r="2.9" fill="url(#gy)"/>
<circle cx="202.9" cy="172.5" r="2.9" fill="url(#gy)"/>
<circle cx="215.0" cy="172.5" r="2.9" fill="url(#gy)"/>
<circle cx="35.6" cy="173.6" r="3.0" fill="url(#gy)"/>
<circle cx="48.4" cy="173.6" r="3.0" fill="url(#gy)"/>
<circle cx="61.1" cy="173.6" r="3.0" fill="url(#gy)"/>
<circle cx="73.8" cy="173.6" r="3.0" fill="url(#gy)"/>
<circle cx="86.5" cy="173.6" r="3.0" fill="url(#gy)"/>
<circle cx="99.3" cy="173.6" r="3.0" fill="url(#gy)"/>
<circle cx="112.0" cy="173.6" r="3.0" fill="url(#gy)"/>
<circle cx="124.7" cy="173.6" r="3.0" fill="url(#gy)"/>
<circle cx="137.5" cy="173.6" r="3.0" fill="url(#gy)"/>
<circle cx="150.2" cy="173.6" r="3.0" fill="url(#gy)"/>
<circle cx="162.9" cy="173.6" r="3.0" fill="url(#gy)"/>
<circle cx="175.6" cy="173.6" r="3.0" fill="url(#gy)"/>
<circle cx="188.4" cy="173.6" r="3.0" fill="url(#gy)"/>
<circle cx="201.1" cy="173.6" r="3.0" fill="url(#gy)"/>
<circle cx="213.8" cy="173.6" r="3.0" fill="url(#gy)"/>
<circle cx="39.1" cy="174.8" r="3.1" fill="url(#gy)"/>
<circle cx="52.5" cy="174.8" r="3.1" fill="url(#gy)"/>
<circle cx="65.8" cy="174.8" r="3.1" fill="url(#gy)"/>
<circle cx="79.1" cy="174.8" r="3.1" fill="url(#gy)"/>
<circle cx="92.5" cy="174.8" r="3.1" fill="url(#gy)"/>
<circle cx="105.8" cy="174.8" r="3.1" fill="url(#gy)"/>
<circle cx="119.1" cy="174.8" r="3.1" fill="url(#gy)"/>
<circle cx="132.5" cy="174.8" r="3.1" fill="url(#gy)"/>
<circle cx="145.8" cy="174.8" r="3.1" fill="url(#gy)"/>
<circle cx="159.1" cy="174.8" r="3.1" fill="url(#gy)"/>
<circle cx="172.5" cy="174.8" r="3.1" fill="url(#gy)"/>
<circle cx="185.8" cy="174.8" r="3.1" fill="url(#gy)"/>
<circle cx="199.1" cy="174.8" r="3.1" fill="url(#gy)"/>
<circle cx="212.5" cy="174.8" r="3.1" fill="url(#gy)"/>
<circle cx="225.8" cy="174.8" r="3.1" fill="url(#gy)"/>
<circle cx="29.0" cy="176.1" r="3.3" fill="url(#gy)"/>
<circle cx="43.0" cy="176.1" r="3.3" fill="url(#gy)"/>
<circle cx="57.0" cy="176.1" r="3.3" fill="url(#gy)"/>
<circle cx="71.0" cy="176.1" r="3.3" fill="url(#gy)"/>
<circle cx="85.0" cy="176.1" r="3.3" fill="url(#gy)"/>
<circle cx="99.0" cy="176.1" r="3.3" fill="url(#gy)"/>
<circle cx="113.0" cy="176.1" r="3.3" fill="url(#gy)"/>
<circle cx="127.0" cy="176.1" r="3.3" fill="url(#gy)"/>
<circle cx="141.0" cy="176.1" r="3.3" fill="url(#gy)"/>
<circle cx="155.0" cy="176.1" r="3.3" fill="url(#gy)"/>
<circle cx="169.0" cy="176.1" r="3.3" fill="url(#gy)"/>
<circle cx="183.0" cy="176.1" r="3.3" fill="url(#gy)"/>
<circle cx="197.0" cy="176.1" r="3.3" fill="url(#gy)"/>
<circle cx="211.0" cy="176.1" r="3.3" fill="url(#gy)"/>
<circle cx="225.0" cy="176.1" r="3.3" fill="url(#gy)"/>
<circle cx="36.0" cy="175.8" r="3.3" fill="url(#gy)"/>
<circle cx="50.0" cy="175.8" r="3.3" fill="url(#gy)"/>
<circle cx="64.0" cy="175.8" r="3.3" fill="url(#gy)"/>
<circle cx="78.0" cy="175.8" r="3.3" fill="url(#gy)"/>
<circle cx="92.0" cy="175.8" r="3.3" fill="url(#gy)"/>
<circle cx="106.0" cy="175.8" r="3.3" fill="url(#gy)"/>
<circle cx="120.0" cy="175.8" r="3.3" fill="url(#gy)"/>
<circle cx="134.0" cy="175.8" r="3.3" fill="url(#gy)"/>
<circle cx="148.0" cy="175.8" r="3.3" fill="url(#gy)"/>
<circle cx="162.0" cy="175.8" r="3.3" fill="url(#gy)"/>
<circle cx="176.0" cy="175.8" r="3.3" fill="url(#gy)"/>
<circle cx="190.0" cy="175.8" r="3.3" fill="url(#gy)"/>
<circle cx="204.0" cy="175.8" r="3.3" fill="url(#gy)"/>
<circle cx="218.0" cy="175.8" r="3.3" fill="url(#gy)"/>
</g>
<g clip-path="url(#cs2)">
<rect x="237.9" y="73.2" width="190.99999999999997" height="8.6" fill="#14160a"/>
<circle cx="236.6" cy="81.0" r="4.1" fill="url(#gyd)"/>
<circle cx="253.2" cy="81.0" r="4.1" fill="url(#gyd)"/>
<circle cx="269.8" cy="81.0" r="4.1" fill="url(#gyd)"/>
<circle cx="286.4" cy="81.0" r="4.1" fill="url(#gyd)"/>
<circle cx="303.0" cy="81.0" r="4.1" fill="url(#gyd)"/>
<circle cx="319.6" cy="81.0" r="4.1" fill="url(#gyd)"/>
<circle cx="336.2" cy="81.0" r="4.1" fill="url(#gyd)"/>
<circle cx="352.8" cy="81.0" r="4.1" fill="url(#gyd)"/>
<circle cx="369.4" cy="81.0" r="4.1" fill="url(#gyd)"/>
<circle cx="386.0" cy="81.0" r="4.1" fill="url(#gyd)"/>
<circle cx="402.6" cy="81.0" r="4.1" fill="url(#gyd)"/>
<circle cx="419.2" cy="81.0" r="4.1" fill="url(#gyd)"/>
<circle cx="435.8" cy="81.0" r="4.1" fill="url(#gyd)"/>
<circle cx="452.4" cy="81.0" r="4.1" fill="url(#gyd)"/>
<circle cx="469.0" cy="81.0" r="4.1" fill="url(#gyd)"/>
<circle cx="244.9" cy="83.0" r="3.6" fill="url(#gy)"/>
<circle cx="261.5" cy="83.0" r="3.6" fill="url(#gy)"/>
<circle cx="278.1" cy="83.0" r="3.6" fill="url(#gy)"/>
<circle cx="294.7" cy="83.0" r="3.6" fill="url(#gy)"/>
<circle cx="311.3" cy="83.0" r="3.6" fill="url(#gy)"/>
<circle cx="327.9" cy="83.0" r="3.6" fill="url(#gy)"/>
<circle cx="344.5" cy="83.0" r="3.6" fill="url(#gy)"/>
<circle cx="361.1" cy="83.0" r="3.6" fill="url(#gy)"/>
<circle cx="377.7" cy="83.0" r="3.6" fill="url(#gy)"/>
<circle cx="394.3" cy="83.0" r="3.6" fill="url(#gy)"/>
<circle cx="410.9" cy="83.0" r="3.6" fill="url(#gy)"/>
<circle cx="427.5" cy="83.0" r="3.6" fill="url(#gy)"/>
<circle cx="444.1" cy="83.0" r="3.6" fill="url(#gy)"/>
<circle cx="460.7" cy="83.0" r="3.6" fill="url(#gy)"/>
<circle cx="477.3" cy="83.0" r="3.6" fill="url(#gy)"/>
<rect x="237.9" y="64.5" width="190.99999999999997" height="11.4" fill="#2f46c4"/>
<circle cx="244.9" cy="72.3" r="4.2" fill="url(#gbd)"/>
<circle cx="261.5" cy="72.3" r="4.2" fill="url(#gbd)"/>
<circle cx="278.1" cy="72.3" r="4.2" fill="url(#gbd)"/>
<circle cx="294.7" cy="72.3" r="4.2" fill="url(#gbd)"/>
<circle cx="311.3" cy="72.3" r="4.2" fill="url(#gbd)"/>
<circle cx="327.9" cy="72.3" r="4.2" fill="url(#gbd)"/>
<circle cx="344.5" cy="72.3" r="4.2" fill="url(#gbd)"/>
<circle cx="361.1" cy="72.3" r="4.2" fill="url(#gbd)"/>
<circle cx="377.7" cy="72.3" r="4.2" fill="url(#gbd)"/>
<circle cx="394.3" cy="72.3" r="4.2" fill="url(#gbd)"/>
<circle cx="410.9" cy="72.3" r="4.2" fill="url(#gbd)"/>
<circle cx="427.5" cy="72.3" r="4.2" fill="url(#gbd)"/>
<circle cx="444.1" cy="72.3" r="4.2" fill="url(#gbd)"/>
<circle cx="460.7" cy="72.3" r="4.2" fill="url(#gbd)"/>
<circle cx="477.3" cy="72.3" r="4.2" fill="url(#gbd)"/>
<circle cx="379.6" cy="67.9" r="1.8" fill="url(#gg)"/>
<circle cx="405.8" cy="70.0" r="4.2" fill="url(#gg)"/>
<circle cx="236.6" cy="73.2" r="5.3" fill="url(#gb)"/>
<circle cx="253.2" cy="73.2" r="5.3" fill="url(#gg)"/>
<circle cx="269.8" cy="73.2" r="5.3" fill="url(#gb)"/>
<circle cx="286.4" cy="73.2" r="5.3" fill="url(#gb)"/>
<circle cx="303.0" cy="73.2" r="5.3" fill="url(#gb)"/>
<circle cx="319.6" cy="73.2" r="5.3" fill="url(#gg)"/>
<circle cx="336.2" cy="73.2" r="5.3" fill="url(#gb)"/>
<circle cx="352.8" cy="73.2" r="5.3" fill="url(#gg)"/>
<circle cx="369.4" cy="73.2" r="5.3" fill="url(#gb)"/>
<circle cx="386.0" cy="73.2" r="5.3" fill="url(#gb)"/>
<circle cx="402.6" cy="73.2" r="5.3" fill="url(#gb)"/>
<circle cx="419.2" cy="73.2" r="5.3" fill="url(#gb)"/>
<circle cx="435.8" cy="73.2" r="5.3" fill="url(#gb)"/>
<circle cx="452.4" cy="73.2" r="5.3" fill="url(#gb)"/>
<circle cx="469.0" cy="73.2" r="5.3" fill="url(#gb)"/>
<rect x="237.9" y="48.3" width="190.99999999999997" height="17.3" fill="#86871a"/>
<circle cx="225.2" cy="49.0" r="1.9" fill="url(#gy)"/>
<circle cx="233.7" cy="49.0" r="1.9" fill="url(#gy)"/>
<circle cx="242.2" cy="49.0" r="1.9" fill="url(#gy)"/>
<circle cx="250.7" cy="49.0" r="1.9" fill="url(#gy)"/>
<circle cx="259.3" cy="49.0" r="1.9" fill="url(#gy)"/>
<circle cx="267.8" cy="49.0" r="1.9" fill="url(#gy)"/>
<circle cx="276.3" cy="49.0" r="1.9" fill="url(#gy)"/>
<circle cx="284.8" cy="49.0" r="1.9" fill="url(#gy)"/>
<circle cx="293.3" cy="49.0" r="1.9" fill="url(#gy)"/>
<circle cx="301.8" cy="49.0" r="1.9" fill="url(#gy)"/>
<circle cx="310.3" cy="49.0" r="1.9" fill="url(#gy)"/>
<circle cx="318.8" cy="49.0" r="1.9" fill="url(#gy)"/>
<circle cx="327.4" cy="49.0" r="1.9" fill="url(#gy)"/>
<circle cx="335.9" cy="49.0" r="1.9" fill="url(#gy)"/>
<circle cx="344.4" cy="49.0" r="1.9" fill="url(#gy)"/>
<circle cx="352.9" cy="49.0" r="1.9" fill="url(#gy)"/>
<circle cx="361.4" cy="49.0" r="1.9" fill="url(#gy)"/>
<circle cx="369.9" cy="49.0" r="1.9" fill="url(#gy)"/>
<circle cx="378.4" cy="49.0" r="1.9" fill="url(#gy)"/>
<circle cx="386.9" cy="49.0" r="1.9" fill="url(#gy)"/>
<circle cx="395.5" cy="49.0" r="1.9" fill="url(#gy)"/>
<circle cx="404.0" cy="49.0" r="1.9" fill="url(#gy)"/>
<circle cx="412.5" cy="49.0" r="1.9" fill="url(#gy)"/>
<circle cx="421.0" cy="49.0" r="1.9" fill="url(#gy)"/>
<circle cx="429.5" cy="49.0" r="1.9" fill="url(#gy)"/>
<circle cx="438.0" cy="49.0" r="1.9" fill="url(#gy)"/>
<circle cx="227.6" cy="49.4" r="2.0" fill="url(#gy)"/>
<circle cx="236.3" cy="49.4" r="2.0" fill="url(#gy)"/>
<circle cx="245.1" cy="49.4" r="2.0" fill="url(#gy)"/>
<circle cx="253.8" cy="49.4" r="2.0" fill="url(#gy)"/>
<circle cx="262.5" cy="49.4" r="2.0" fill="url(#gy)"/>
<circle cx="271.3" cy="49.4" r="2.0" fill="url(#gy)"/>
<circle cx="280.0" cy="49.4" r="2.0" fill="url(#gy)"/>
<circle cx="288.7" cy="49.4" r="2.0" fill="url(#gy)"/>
<circle cx="297.5" cy="49.4" r="2.0" fill="url(#gy)"/>
<circle cx="306.2" cy="49.4" r="2.0" fill="url(#gy)"/>
<circle cx="314.9" cy="49.4" r="2.0" fill="url(#gy)"/>
<circle cx="323.7" cy="49.4" r="2.0" fill="url(#gy)"/>
<circle cx="332.4" cy="49.4" r="2.0" fill="url(#gy)"/>
<circle cx="341.2" cy="49.4" r="2.0" fill="url(#gy)"/>
<circle cx="349.9" cy="49.4" r="2.0" fill="url(#gy)"/>
<circle cx="358.6" cy="49.4" r="2.0" fill="url(#gy)"/>
<circle cx="367.4" cy="49.4" r="2.0" fill="url(#gy)"/>
<circle cx="376.1" cy="49.4" r="2.0" fill="url(#gy)"/>
<circle cx="384.8" cy="49.4" r="2.0" fill="url(#gy)"/>
<circle cx="393.6" cy="49.4" r="2.0" fill="url(#gy)"/>
<circle cx="402.3" cy="49.4" r="2.0" fill="url(#gy)"/>
<circle cx="411.1" cy="49.4" r="2.0" fill="url(#gy)"/>
<circle cx="419.8" cy="49.4" r="2.0" fill="url(#gy)"/>
<circle cx="428.5" cy="49.4" r="2.0" fill="url(#gy)"/>
<circle cx="437.3" cy="49.4" r="2.0" fill="url(#gy)"/>
<circle cx="446.0" cy="49.4" r="2.0" fill="url(#gy)"/>
<circle cx="221.1" cy="49.8" r="2.1" fill="url(#gy)"/>
<circle cx="230.1" cy="49.8" r="2.1" fill="url(#gy)"/>
<circle cx="239.1" cy="49.8" r="2.1" fill="url(#gy)"/>
<circle cx="248.0" cy="49.8" r="2.1" fill="url(#gy)"/>
<circle cx="257.0" cy="49.8" r="2.1" fill="url(#gy)"/>
<circle cx="266.0" cy="49.8" r="2.1" fill="url(#gy)"/>
<circle cx="274.9" cy="49.8" r="2.1" fill="url(#gy)"/>
<circle cx="283.9" cy="49.8" r="2.1" fill="url(#gy)"/>
<circle cx="292.9" cy="49.8" r="2.1" fill="url(#gy)"/>
<circle cx="301.9" cy="49.8" r="2.1" fill="url(#gy)"/>
<circle cx="310.8" cy="49.8" r="2.1" fill="url(#gy)"/>
<circle cx="319.8" cy="49.8" r="2.1" fill="url(#gy)"/>
<circle cx="328.8" cy="49.8" r="2.1" fill="url(#gy)"/>
<circle cx="337.8" cy="49.8" r="2.1" fill="url(#gy)"/>
<circle cx="346.7" cy="49.8" r="2.1" fill="url(#gy)"/>
<circle cx="355.7" cy="49.8" r="2.1" fill="url(#gy)"/>
<circle cx="364.7" cy="49.8" r="2.1" fill="url(#gy)"/>
<circle cx="373.6" cy="49.8" r="2.1" fill="url(#gy)"/>
<circle cx="382.6" cy="49.8" r="2.1" fill="url(#gy)"/>
<circle cx="391.6" cy="49.8" r="2.1" fill="url(#gy)"/>
<circle cx="400.6" cy="49.8" r="2.1" fill="url(#gy)"/>
<circle cx="409.5" cy="49.8" r="2.1" fill="url(#gy)"/>
<circle cx="418.5" cy="49.8" r="2.1" fill="url(#gy)"/>
<circle cx="427.5" cy="49.8" r="2.1" fill="url(#gy)"/>
<circle cx="436.5" cy="49.8" r="2.1" fill="url(#gy)"/>
<circle cx="445.4" cy="49.8" r="2.1" fill="url(#gy)"/>
<circle cx="223.5" cy="50.3" r="2.1" fill="url(#gy)"/>
<circle cx="232.7" cy="50.3" r="2.1" fill="url(#gy)"/>
<circle cx="241.9" cy="50.3" r="2.1" fill="url(#gy)"/>
<circle cx="251.2" cy="50.3" r="2.1" fill="url(#gy)"/>
<circle cx="260.4" cy="50.3" r="2.1" fill="url(#gy)"/>
<circle cx="269.6" cy="50.3" r="2.1" fill="url(#gy)"/>
<circle cx="278.8" cy="50.3" r="2.1" fill="url(#gy)"/>
<circle cx="288.1" cy="50.3" r="2.1" fill="url(#gy)"/>
<circle cx="297.3" cy="50.3" r="2.1" fill="url(#gy)"/>
<circle cx="306.5" cy="50.3" r="2.1" fill="url(#gy)"/>
<circle cx="315.7" cy="50.3" r="2.1" fill="url(#gy)"/>
<circle cx="324.9" cy="50.3" r="2.1" fill="url(#gy)"/>
<circle cx="334.2" cy="50.3" r="2.1" fill="url(#gy)"/>
<circle cx="343.4" cy="50.3" r="2.1" fill="url(#gy)"/>
<circle cx="352.6" cy="50.3" r="2.1" fill="url(#gy)"/>
<circle cx="361.8" cy="50.3" r="2.1" fill="url(#gy)"/>
<circle cx="371.1" cy="50.3" r="2.1" fill="url(#gy)"/>
<circle cx="380.3" cy="50.3" r="2.1" fill="url(#gy)"/>
<circle cx="389.5" cy="50.3" r="2.1" fill="url(#gy)"/>
<circle cx="398.7" cy="50.3" r="2.1" fill="url(#gy)"/>
<circle cx="407.9" cy="50.3" r="2.1" fill="url(#gy)"/>
<circle cx="417.2" cy="50.3" r="2.1" fill="url(#gy)"/>
<circle cx="426.4" cy="50.3" r="2.1" fill="url(#gy)"/>
<circle cx="435.6" cy="50.3" r="2.1" fill="url(#gy)"/>
<circle cx="444.8" cy="50.3" r="2.1" fill="url(#gy)"/>
<circle cx="226.0" cy="50.8" r="2.2" fill="url(#gy)"/>
<circle cx="235.5" cy="50.8" r="2.2" fill="url(#gy)"/>
<circle cx="245.0" cy="50.8" r="2.2" fill="url(#gy)"/>
<circle cx="254.5" cy="50.8" r="2.2" fill="url(#gy)"/>
<circle cx="264.0" cy="50.8" r="2.2" fill="url(#gy)"/>
<circle cx="273.5" cy="50.8" r="2.2" fill="url(#gy)"/>
<circle cx="282.9" cy="50.8" r="2.2" fill="url(#gy)"/>
<circle cx="292.4" cy="50.8" r="2.2" fill="url(#gy)"/>
<circle cx="301.9" cy="50.8" r="2.2" fill="url(#gy)"/>
<circle cx="311.4" cy="50.8" r="2.2" fill="url(#gy)"/>
<circle cx="320.9" cy="50.8" r="2.2" fill="url(#gy)"/>
<circle cx="330.4" cy="50.8" r="2.2" fill="url(#gy)"/>
<circle cx="339.9" cy="50.8" r="2.2" fill="url(#gy)"/>
<circle cx="349.3" cy="50.8" r="2.2" fill="url(#gy)"/>
<circle cx="358.8" cy="50.8" r="2.2" fill="url(#gy)"/>
<circle cx="368.3" cy="50.8" r="2.2" fill="url(#gy)"/>
<circle cx="377.8" cy="50.8" r="2.2" fill="url(#gy)"/>
<circle cx="387.3" cy="50.8" r="2.2" fill="url(#gy)"/>
<circle cx="396.8" cy="50.8" r="2.2" fill="url(#gy)"/>
<circle cx="406.3" cy="50.8" r="2.2" fill="url(#gy)"/>
<circle cx="415.7" cy="50.8" r="2.2" fill="url(#gy)"/>
<circle cx="425.2" cy="50.8" r="2.2" fill="url(#gy)"/>
<circle cx="434.7" cy="50.8" r="2.2" fill="url(#gy)"/>
<circle cx="444.2" cy="50.8" r="2.2" fill="url(#gy)"/>
<circle cx="218.9" cy="51.4" r="2.2" fill="url(#gy)"/>
<circle cx="228.7" cy="51.4" r="2.2" fill="url(#gy)"/>
<circle cx="238.5" cy="51.4" r="2.2" fill="url(#gy)"/>
<circle cx="248.2" cy="51.4" r="2.2" fill="url(#gy)"/>
<circle cx="258.0" cy="51.4" r="2.2" fill="url(#gy)"/>
<circle cx="267.8" cy="51.4" r="2.2" fill="url(#gy)"/>
<circle cx="277.5" cy="51.4" r="2.2" fill="url(#gy)"/>
<circle cx="287.3" cy="51.4" r="2.2" fill="url(#gy)"/>
<circle cx="297.1" cy="51.4" r="2.2" fill="url(#gy)"/>
<circle cx="306.8" cy="51.4" r="2.2" fill="url(#gy)"/>
<circle cx="316.6" cy="51.4" r="2.2" fill="url(#gy)"/>
<circle cx="326.4" cy="51.4" r="2.2" fill="url(#gy)"/>
<circle cx="336.1" cy="51.4" r="2.2" fill="url(#gy)"/>
<circle cx="345.9" cy="51.4" r="2.2" fill="url(#gy)"/>
<circle cx="355.6" cy="51.4" r="2.2" fill="url(#gy)"/>
<circle cx="365.4" cy="51.4" r="2.2" fill="url(#gy)"/>
<circle cx="375.2" cy="51.4" r="2.2" fill="url(#gy)"/>
<circle cx="384.9" cy="51.4" r="2.2" fill="url(#gy)"/>
<circle cx="394.7" cy="51.4" r="2.2" fill="url(#gy)"/>
<circle cx="404.5" cy="51.4" r="2.2" fill="url(#gy)"/>
<circle cx="414.2" cy="51.4" r="2.2" fill="url(#gy)"/>
<circle cx="424.0" cy="51.4" r="2.2" fill="url(#gy)"/>
<circle cx="433.8" cy="51.4" r="2.2" fill="url(#gy)"/>
<circle cx="443.5" cy="51.4" r="2.2" fill="url(#gy)"/>
<circle cx="221.5" cy="51.9" r="2.3" fill="url(#gy)"/>
<circle cx="231.5" cy="51.9" r="2.3" fill="url(#gy)"/>
<circle cx="241.6" cy="51.9" r="2.3" fill="url(#gy)"/>
<circle cx="251.7" cy="51.9" r="2.3" fill="url(#gy)"/>
<circle cx="261.7" cy="51.9" r="2.3" fill="url(#gy)"/>
<circle cx="271.8" cy="51.9" r="2.3" fill="url(#gy)"/>
<circle cx="281.8" cy="51.9" r="2.3" fill="url(#gy)"/>
<circle cx="291.9" cy="51.9" r="2.3" fill="url(#gy)"/>
<circle cx="302.0" cy="51.9" r="2.3" fill="url(#gy)"/>
<circle cx="312.0" cy="51.9" r="2.3" fill="url(#gy)"/>
<circle cx="322.1" cy="51.9" r="2.3" fill="url(#gy)"/>
<circle cx="332.2" cy="51.9" r="2.3" fill="url(#gy)"/>
<circle cx="342.2" cy="51.9" r="2.3" fill="url(#gy)"/>
<circle cx="352.3" cy="51.9" r="2.3" fill="url(#gy)"/>
<circle cx="362.3" cy="51.9" r="2.3" fill="url(#gy)"/>
<circle cx="372.4" cy="51.9" r="2.3" fill="url(#gy)"/>
<circle cx="382.5" cy="51.9" r="2.3" fill="url(#gy)"/>
<circle cx="392.5" cy="51.9" r="2.3" fill="url(#gy)"/>
<circle cx="402.6" cy="51.9" r="2.3" fill="url(#gy)"/>
<circle cx="412.6" cy="51.9" r="2.3" fill="url(#gy)"/>
<circle cx="422.7" cy="51.9" r="2.3" fill="url(#gy)"/>
<circle cx="432.8" cy="51.9" r="2.3" fill="url(#gy)"/>
<circle cx="442.8" cy="51.9" r="2.3" fill="url(#gy)"/>
<circle cx="224.2" cy="52.5" r="2.4" fill="url(#gy)"/>
<circle cx="234.6" cy="52.5" r="2.4" fill="url(#gy)"/>
<circle cx="244.9" cy="52.5" r="2.4" fill="url(#gy)"/>
<circle cx="255.3" cy="52.5" r="2.4" fill="url(#gy)"/>
<circle cx="265.7" cy="52.5" r="2.4" fill="url(#gy)"/>
<circle cx="276.1" cy="52.5" r="2.4" fill="url(#gy)"/>
<circle cx="286.4" cy="52.5" r="2.4" fill="url(#gy)"/>
<circle cx="296.8" cy="52.5" r="2.4" fill="url(#gy)"/>
<circle cx="307.2" cy="52.5" r="2.4" fill="url(#gy)"/>
<circle cx="317.6" cy="52.5" r="2.4" fill="url(#gy)"/>
<circle cx="327.9" cy="52.5" r="2.4" fill="url(#gy)"/>
<circle cx="338.3" cy="52.5" r="2.4" fill="url(#gy)"/>
<circle cx="348.7" cy="52.5" r="2.4" fill="url(#gy)"/>
<circle cx="359.1" cy="52.5" r="2.4" fill="url(#gy)"/>
<circle cx="369.4" cy="52.5" r="2.4" fill="url(#gy)"/>
<circle cx="379.8" cy="52.5" r="2.4" fill="url(#gy)"/>
<circle cx="390.2" cy="52.5" r="2.4" fill="url(#gy)"/>
<circle cx="400.6" cy="52.5" r="2.4" fill="url(#gy)"/>
<circle cx="410.9" cy="52.5" r="2.4" fill="url(#gy)"/>
<circle cx="421.3" cy="52.5" r="2.4" fill="url(#gy)"/>
<circle cx="431.7" cy="52.5" r="2.4" fill="url(#gy)"/>
<circle cx="442.1" cy="52.5" r="2.4" fill="url(#gy)"/>
<circle cx="227.1" cy="53.2" r="2.5" fill="url(#gy)"/>
<circle cx="237.8" cy="53.2" r="2.5" fill="url(#gy)"/>
<circle cx="248.5" cy="53.2" r="2.5" fill="url(#gy)"/>
<circle cx="259.2" cy="53.2" r="2.5" fill="url(#gy)"/>
<circle cx="269.9" cy="53.2" r="2.5" fill="url(#gy)"/>
<circle cx="280.6" cy="53.2" r="2.5" fill="url(#gy)"/>
<circle cx="291.3" cy="53.2" r="2.5" fill="url(#gy)"/>
<circle cx="302.0" cy="53.2" r="2.5" fill="url(#gy)"/>
<circle cx="312.7" cy="53.2" r="2.5" fill="url(#gy)"/>
<circle cx="323.5" cy="53.2" r="2.5" fill="url(#gy)"/>
<circle cx="334.2" cy="53.2" r="2.5" fill="url(#gy)"/>
<circle cx="344.9" cy="53.2" r="2.5" fill="url(#gy)"/>
<circle cx="355.6" cy="53.2" r="2.5" fill="url(#gy)"/>
<circle cx="366.3" cy="53.2" r="2.5" fill="url(#gy)"/>
<circle cx="377.0" cy="53.2" r="2.5" fill="url(#gy)"/>
<circle cx="387.7" cy="53.2" r="2.5" fill="url(#gy)"/>
<circle cx="398.4" cy="53.2" r="2.5" fill="url(#gy)"/>
<circle cx="409.1" cy="53.2" r="2.5" fill="url(#gy)"/>
<circle cx="419.8" cy="53.2" r="2.5" fill="url(#gy)"/>
<circle cx="430.5" cy="53.2" r="2.5" fill="url(#gy)"/>
<circle cx="441.3" cy="53.2" r="2.5" fill="url(#gy)"/>
<circle cx="219.1" cy="53.9" r="2.5" fill="url(#gy)"/>
<circle cx="230.1" cy="53.9" r="2.5" fill="url(#gy)"/>
<circle cx="241.2" cy="53.9" r="2.5" fill="url(#gy)"/>
<circle cx="252.3" cy="53.9" r="2.5" fill="url(#gy)"/>
<circle cx="263.3" cy="53.9" r="2.5" fill="url(#gy)"/>
<circle cx="274.4" cy="53.9" r="2.5" fill="url(#gy)"/>
<circle cx="285.5" cy="53.9" r="2.5" fill="url(#gy)"/>
<circle cx="296.5" cy="53.9" r="2.5" fill="url(#gy)"/>
<circle cx="307.6" cy="53.9" r="2.5" fill="url(#gy)"/>
<circle cx="318.7" cy="53.9" r="2.5" fill="url(#gy)"/>
<circle cx="329.7" cy="53.9" r="2.5" fill="url(#gy)"/>
<circle cx="340.8" cy="53.9" r="2.5" fill="url(#gy)"/>
<circle cx="351.9" cy="53.9" r="2.5" fill="url(#gy)"/>
<circle cx="362.9" cy="53.9" r="2.5" fill="url(#gy)"/>
<circle cx="374.0" cy="53.9" r="2.5" fill="url(#gy)"/>
<circle cx="385.1" cy="53.9" r="2.5" fill="url(#gy)"/>
<circle cx="396.1" cy="53.9" r="2.5" fill="url(#gy)"/>
<circle cx="407.2" cy="53.9" r="2.5" fill="url(#gy)"/>
<circle cx="418.3" cy="53.9" r="2.5" fill="url(#gy)"/>
<circle cx="429.3" cy="53.9" r="2.5" fill="url(#gy)"/>
<circle cx="440.4" cy="53.9" r="2.5" fill="url(#gy)"/>
<circle cx="222.0" cy="54.6" r="2.6" fill="url(#gy)"/>
<circle cx="233.4" cy="54.6" r="2.6" fill="url(#gy)"/>
<circle cx="244.9" cy="54.6" r="2.6" fill="url(#gy)"/>
<circle cx="256.3" cy="54.6" r="2.6" fill="url(#gy)"/>
<circle cx="267.8" cy="54.6" r="2.6" fill="url(#gy)"/>
<circle cx="279.2" cy="54.6" r="2.6" fill="url(#gy)"/>
<circle cx="290.7" cy="54.6" r="2.6" fill="url(#gy)"/>
<circle cx="302.1" cy="54.6" r="2.6" fill="url(#gy)"/>
<circle cx="313.6" cy="54.6" r="2.6" fill="url(#gy)"/>
<circle cx="325.0" cy="54.6" r="2.6" fill="url(#gy)"/>
<circle cx="336.4" cy="54.6" r="2.6" fill="url(#gy)"/>
<circle cx="347.9" cy="54.6" r="2.6" fill="url(#gy)"/>
<circle cx="359.3" cy="54.6" r="2.6" fill="url(#gy)"/>
<circle cx="370.8" cy="54.6" r="2.6" fill="url(#gy)"/>
<circle cx="382.2" cy="54.6" r="2.6" fill="url(#gy)"/>
<circle cx="393.7" cy="54.6" r="2.6" fill="url(#gy)"/>
<circle cx="405.1" cy="54.6" r="2.6" fill="url(#gy)"/>
<circle cx="416.6" cy="54.6" r="2.6" fill="url(#gy)"/>
<circle cx="428.0" cy="54.6" r="2.6" fill="url(#gy)"/>
<circle cx="439.5" cy="54.6" r="2.6" fill="url(#gy)"/>
<circle cx="450.9" cy="54.6" r="2.6" fill="url(#gy)"/>
<circle cx="225.1" cy="55.4" r="2.7" fill="url(#gy)"/>
<circle cx="236.9" cy="55.4" r="2.7" fill="url(#gy)"/>
<circle cx="248.8" cy="55.4" r="2.7" fill="url(#gy)"/>
<circle cx="260.6" cy="55.4" r="2.7" fill="url(#gy)"/>
<circle cx="272.5" cy="55.4" r="2.7" fill="url(#gy)"/>
<circle cx="284.4" cy="55.4" r="2.7" fill="url(#gy)"/>
<circle cx="296.2" cy="55.4" r="2.7" fill="url(#gy)"/>
<circle cx="308.1" cy="55.4" r="2.7" fill="url(#gy)"/>
<circle cx="319.9" cy="55.4" r="2.7" fill="url(#gy)"/>
<circle cx="331.8" cy="55.4" r="2.7" fill="url(#gy)"/>
<circle cx="343.6" cy="55.4" r="2.7" fill="url(#gy)"/>
<circle cx="355.5" cy="55.4" r="2.7" fill="url(#gy)"/>
<circle cx="367.4" cy="55.4" r="2.7" fill="url(#gy)"/>
<circle cx="379.2" cy="55.4" r="2.7" fill="url(#gy)"/>
<circle cx="391.1" cy="55.4" r="2.7" fill="url(#gy)"/>
<circle cx="402.9" cy="55.4" r="2.7" fill="url(#gy)"/>
<circle cx="414.8" cy="55.4" r="2.7" fill="url(#gy)"/>
<circle cx="426.6" cy="55.4" r="2.7" fill="url(#gy)"/>
<circle cx="438.5" cy="55.4" r="2.7" fill="url(#gy)"/>
<circle cx="450.4" cy="55.4" r="2.7" fill="url(#gy)"/>
<circle cx="216.1" cy="56.2" r="2.8" fill="url(#gy)"/>
<circle cx="228.4" cy="56.2" r="2.8" fill="url(#gy)"/>
<circle cx="240.7" cy="56.2" r="2.8" fill="url(#gy)"/>
<circle cx="253.0" cy="56.2" r="2.8" fill="url(#gy)"/>
<circle cx="265.3" cy="56.2" r="2.8" fill="url(#gy)"/>
<circle cx="277.6" cy="56.2" r="2.8" fill="url(#gy)"/>
<circle cx="289.9" cy="56.2" r="2.8" fill="url(#gy)"/>
<circle cx="302.2" cy="56.2" r="2.8" fill="url(#gy)"/>
<circle cx="314.5" cy="56.2" r="2.8" fill="url(#gy)"/>
<circle cx="326.8" cy="56.2" r="2.8" fill="url(#gy)"/>
<circle cx="339.1" cy="56.2" r="2.8" fill="url(#gy)"/>
<circle cx="351.4" cy="56.2" r="2.8" fill="url(#gy)"/>
<circle cx="363.7" cy="56.2" r="2.8" fill="url(#gy)"/>
<circle cx="376.0" cy="56.2" r="2.8" fill="url(#gy)"/>
<circle cx="388.3" cy="56.2" r="2.8" fill="url(#gy)"/>
<circle cx="400.6" cy="56.2" r="2.8" fill="url(#gy)"/>
<circle cx="412.9" cy="56.2" r="2.8" fill="url(#gy)"/>
<circle cx="425.1" cy="56.2" r="2.8" fill="url(#gy)"/>
<circle cx="437.4" cy="56.2" r="2.8" fill="url(#gy)"/>
<circle cx="449.7" cy="56.2" r="2.8" fill="url(#gy)"/>
<circle cx="219.2" cy="57.1" r="2.9" fill="url(#gy)"/>
<circle cx="232.0" cy="57.1" r="2.9" fill="url(#gy)"/>
<circle cx="244.8" cy="57.1" r="2.9" fill="url(#gy)"/>
<circle cx="257.5" cy="57.1" r="2.9" fill="url(#gy)"/>
<circle cx="270.3" cy="57.1" r="2.9" fill="url(#gy)"/>
<circle cx="283.1" cy="57.1" r="2.9" fill="url(#gy)"/>
<circle cx="295.8" cy="57.1" r="2.9" fill="url(#gy)"/>
<circle cx="308.6" cy="57.1" r="2.9" fill="url(#gy)"/>
<circle cx="321.4" cy="57.1" r="2.9" fill="url(#gy)"/>
<circle cx="334.2" cy="57.1" r="2.9" fill="url(#gy)"/>
<circle cx="346.9" cy="57.1" r="2.9" fill="url(#gy)"/>
<circle cx="359.7" cy="57.1" r="2.9" fill="url(#gy)"/>
<circle cx="372.5" cy="57.1" r="2.9" fill="url(#gy)"/>
<circle cx="385.2" cy="57.1" r="2.9" fill="url(#gy)"/>
<circle cx="398.0" cy="57.1" r="2.9" fill="url(#gy)"/>
<circle cx="410.8" cy="57.1" r="2.9" fill="url(#gy)"/>
<circle cx="423.5" cy="57.1" r="2.9" fill="url(#gy)"/>
<circle cx="436.3" cy="57.1" r="2.9" fill="url(#gy)"/>
<circle cx="449.1" cy="57.1" r="2.9" fill="url(#gy)"/>
<circle cx="222.6" cy="58.1" r="3.0" fill="url(#gy)"/>
<circle cx="235.9" cy="58.1" r="3.0" fill="url(#gy)"/>
<circle cx="249.2" cy="58.1" r="3.0" fill="url(#gy)"/>
<circle cx="262.4" cy="58.1" r="3.0" fill="url(#gy)"/>
<circle cx="275.7" cy="58.1" r="3.0" fill="url(#gy)"/>
<circle cx="289.0" cy="58.1" r="3.0" fill="url(#gy)"/>
<circle cx="302.3" cy="58.1" r="3.0" fill="url(#gy)"/>
<circle cx="315.6" cy="58.1" r="3.0" fill="url(#gy)"/>
<circle cx="328.8" cy="58.1" r="3.0" fill="url(#gy)"/>
<circle cx="342.1" cy="58.1" r="3.0" fill="url(#gy)"/>
<circle cx="355.4" cy="58.1" r="3.0" fill="url(#gy)"/>
<circle cx="368.7" cy="58.1" r="3.0" fill="url(#gy)"/>
<circle cx="382.0" cy="58.1" r="3.0" fill="url(#gy)"/>
<circle cx="395.2" cy="58.1" r="3.0" fill="url(#gy)"/>
<circle cx="408.5" cy="58.1" r="3.0" fill="url(#gy)"/>
<circle cx="421.8" cy="58.1" r="3.0" fill="url(#gy)"/>
<circle cx="435.1" cy="58.1" r="3.0" fill="url(#gy)"/>
<circle cx="448.4" cy="58.1" r="3.0" fill="url(#gy)"/>
<circle cx="212.4" cy="59.2" r="3.2" fill="url(#gy)"/>
<circle cx="226.2" cy="59.2" r="3.2" fill="url(#gy)"/>
<circle cx="240.1" cy="59.2" r="3.2" fill="url(#gy)"/>
<circle cx="253.9" cy="59.2" r="3.2" fill="url(#gy)"/>
<circle cx="267.8" cy="59.2" r="3.2" fill="url(#gy)"/>
<circle cx="281.6" cy="59.2" r="3.2" fill="url(#gy)"/>
<circle cx="295.4" cy="59.2" r="3.2" fill="url(#gy)"/>
<circle cx="309.2" cy="59.2" r="3.2" fill="url(#gy)"/>
<circle cx="323.1" cy="59.2" r="3.2" fill="url(#gy)"/>
<circle cx="336.9" cy="59.2" r="3.2" fill="url(#gy)"/>
<circle cx="350.8" cy="59.2" r="3.2" fill="url(#gy)"/>
<circle cx="364.6" cy="59.2" r="3.2" fill="url(#gy)"/>
<circle cx="378.4" cy="59.2" r="3.2" fill="url(#gy)"/>
<circle cx="392.2" cy="59.2" r="3.2" fill="url(#gy)"/>
<circle cx="406.1" cy="59.2" r="3.2" fill="url(#gy)"/>
<circle cx="419.9" cy="59.2" r="3.2" fill="url(#gy)"/>
<circle cx="433.8" cy="59.2" r="3.2" fill="url(#gy)"/>
<circle cx="447.6" cy="59.2" r="3.2" fill="url(#gy)"/>
<circle cx="215.8" cy="60.3" r="3.3" fill="url(#gy)"/>
<circle cx="230.2" cy="60.3" r="3.3" fill="url(#gy)"/>
<circle cx="244.7" cy="60.3" r="3.3" fill="url(#gy)"/>
<circle cx="259.1" cy="60.3" r="3.3" fill="url(#gy)"/>
<circle cx="273.5" cy="60.3" r="3.3" fill="url(#gy)"/>
<circle cx="288.0" cy="60.3" r="3.3" fill="url(#gy)"/>
<circle cx="302.4" cy="60.3" r="3.3" fill="url(#gy)"/>
<circle cx="316.8" cy="60.3" r="3.3" fill="url(#gy)"/>
<circle cx="331.3" cy="60.3" r="3.3" fill="url(#gy)"/>
<circle cx="345.7" cy="60.3" r="3.3" fill="url(#gy)"/>
<circle cx="360.1" cy="60.3" r="3.3" fill="url(#gy)"/>
<circle cx="374.6" cy="60.3" r="3.3" fill="url(#gy)"/>
<circle cx="389.0" cy="60.3" r="3.3" fill="url(#gy)"/>
<circle cx="403.4" cy="60.3" r="3.3" fill="url(#gy)"/>
<circle cx="417.9" cy="60.3" r="3.3" fill="url(#gy)"/>
<circle cx="432.3" cy="60.3" r="3.3" fill="url(#gy)"/>
<circle cx="446.7" cy="60.3" r="3.3" fill="url(#gy)"/>
<circle cx="219.5" cy="61.6" r="3.5" fill="url(#gy)"/>
<circle cx="234.5" cy="61.6" r="3.5" fill="url(#gy)"/>
<circle cx="249.6" cy="61.6" r="3.5" fill="url(#gy)"/>
<circle cx="264.7" cy="61.6" r="3.5" fill="url(#gy)"/>
<circle cx="279.8" cy="61.6" r="3.5" fill="url(#gy)"/>
<circle cx="294.9" cy="61.6" r="3.5" fill="url(#gy)"/>
<circle cx="310.0" cy="61.6" r="3.5" fill="url(#gy)"/>
<circle cx="325.1" cy="61.6" r="3.5" fill="url(#gy)"/>
<circle cx="340.2" cy="61.6" r="3.5" fill="url(#gy)"/>
<circle cx="355.3" cy="61.6" r="3.5" fill="url(#gy)"/>
<circle cx="370.4" cy="61.6" r="3.5" fill="url(#gy)"/>
<circle cx="385.5" cy="61.6" r="3.5" fill="url(#gy)"/>
<circle cx="400.5" cy="61.6" r="3.5" fill="url(#gy)"/>
<circle cx="415.6" cy="61.6" r="3.5" fill="url(#gy)"/>
<circle cx="430.7" cy="61.6" r="3.5" fill="url(#gy)"/>
<circle cx="445.8" cy="61.6" r="3.5" fill="url(#gy)"/>
<circle cx="207.7" cy="63.0" r="3.6" fill="url(#gy)"/>
<circle cx="223.5" cy="63.0" r="3.6" fill="url(#gy)"/>
<circle cx="239.3" cy="63.0" r="3.6" fill="url(#gy)"/>
<circle cx="255.1" cy="63.0" r="3.6" fill="url(#gy)"/>
<circle cx="270.9" cy="63.0" r="3.6" fill="url(#gy)"/>
<circle cx="286.7" cy="63.0" r="3.6" fill="url(#gy)"/>
<circle cx="302.5" cy="63.0" r="3.6" fill="url(#gy)"/>
<circle cx="318.3" cy="63.0" r="3.6" fill="url(#gy)"/>
<circle cx="334.1" cy="63.0" r="3.6" fill="url(#gy)"/>
<circle cx="350.0" cy="63.0" r="3.6" fill="url(#gy)"/>
<circle cx="365.8" cy="63.0" r="3.6" fill="url(#gy)"/>
<circle cx="381.6" cy="63.0" r="3.6" fill="url(#gy)"/>
<circle cx="397.4" cy="63.0" r="3.6" fill="url(#gy)"/>
<circle cx="413.2" cy="63.0" r="3.6" fill="url(#gy)"/>
<circle cx="429.0" cy="63.0" r="3.6" fill="url(#gy)"/>
<circle cx="444.8" cy="63.0" r="3.6" fill="url(#gy)"/>
<circle cx="211.3" cy="64.5" r="3.8" fill="url(#gy)"/>
<circle cx="227.9" cy="64.5" r="3.8" fill="url(#gy)"/>
<circle cx="244.5" cy="64.5" r="3.8" fill="url(#gy)"/>
<circle cx="261.1" cy="64.5" r="3.8" fill="url(#gy)"/>
<circle cx="277.7" cy="64.5" r="3.8" fill="url(#gy)"/>
<circle cx="294.3" cy="64.5" r="3.8" fill="url(#gy)"/>
<circle cx="310.9" cy="64.5" r="3.8" fill="url(#gy)"/>
<circle cx="327.5" cy="64.5" r="3.8" fill="url(#gy)"/>
<circle cx="344.1" cy="64.5" r="3.8" fill="url(#gy)"/>
<circle cx="360.7" cy="64.5" r="3.8" fill="url(#gy)"/>
<circle cx="377.3" cy="64.5" r="3.8" fill="url(#gy)"/>
<circle cx="393.9" cy="64.5" r="3.8" fill="url(#gy)"/>
<circle cx="410.5" cy="64.5" r="3.8" fill="url(#gy)"/>
<circle cx="427.1" cy="64.5" r="3.8" fill="url(#gy)"/>
<circle cx="443.7" cy="64.5" r="3.8" fill="url(#gy)"/>
<circle cx="460.3" cy="64.5" r="3.8" fill="url(#gy)"/>
<circle cx="219.6" cy="64.2" r="3.8" fill="url(#gy)"/>
<circle cx="236.2" cy="64.2" r="3.8" fill="url(#gy)"/>
<circle cx="252.8" cy="64.2" r="3.8" fill="url(#gy)"/>
<circle cx="269.4" cy="64.2" r="3.8" fill="url(#gy)"/>
<circle cx="286.0" cy="64.2" r="3.8" fill="url(#gy)"/>
<circle cx="302.6" cy="64.2" r="3.8" fill="url(#gy)"/>
<circle cx="319.2" cy="64.2" r="3.8" fill="url(#gy)"/>
<circle cx="335.8" cy="64.2" r="3.8" fill="url(#gy)"/>
<circle cx="352.4" cy="64.2" r="3.8" fill="url(#gy)"/>
<circle cx="369.0" cy="64.2" r="3.8" fill="url(#gy)"/>
<circle cx="385.6" cy="64.2" r="3.8" fill="url(#gy)"/>
<circle cx="402.2" cy="64.2" r="3.8" fill="url(#gy)"/>
<circle cx="418.8" cy="64.2" r="3.8" fill="url(#gy)"/>
<circle cx="435.4" cy="64.2" r="3.8" fill="url(#gy)"/>
<circle cx="452.0" cy="64.2" r="3.8" fill="url(#gy)"/>
</g>
<g clip-path="url(#cs3)">
<rect x="474.9" y="158.9" width="152.60000000000002" height="5.4" fill="#14160a"/>
<circle cx="467.9" cy="163.5" r="3.0" fill="url(#gyd)"/>
<circle cx="481.8" cy="163.5" r="3.0" fill="url(#gyd)"/>
<circle cx="495.7" cy="163.5" r="3.0" fill="url(#gyd)"/>
<circle cx="509.6" cy="163.5" r="3.0" fill="url(#gyd)"/>
<circle cx="523.5" cy="163.5" r="3.0" fill="url(#gyd)"/>
<circle cx="537.4" cy="163.5" r="3.0" fill="url(#gyd)"/>
<circle cx="551.3" cy="163.5" r="3.0" fill="url(#gyd)"/>
<circle cx="565.2" cy="163.5" r="3.0" fill="url(#gyd)"/>
<circle cx="579.1" cy="163.5" r="3.0" fill="url(#gyd)"/>
<circle cx="593.0" cy="163.5" r="3.0" fill="url(#gyd)"/>
<circle cx="606.9" cy="163.5" r="3.0" fill="url(#gyd)"/>
<circle cx="620.8" cy="163.5" r="3.0" fill="url(#gyd)"/>
<circle cx="634.7" cy="163.5" r="3.0" fill="url(#gyd)"/>
<circle cx="648.6" cy="163.5" r="3.0" fill="url(#gyd)"/>
<circle cx="474.9" cy="165.5" r="2.6" fill="url(#gy)"/>
<circle cx="488.8" cy="165.5" r="2.6" fill="url(#gy)"/>
<circle cx="502.7" cy="165.5" r="2.6" fill="url(#gy)"/>
<circle cx="516.5" cy="165.5" r="2.6" fill="url(#gy)"/>
<circle cx="530.5" cy="165.5" r="2.6" fill="url(#gy)"/>
<circle cx="544.4" cy="165.5" r="2.6" fill="url(#gy)"/>
<circle cx="558.2" cy="165.5" r="2.6" fill="url(#gy)"/>
<circle cx="572.1" cy="165.5" r="2.6" fill="url(#gy)"/>
<circle cx="586.0" cy="165.5" r="2.6" fill="url(#gy)"/>
<circle cx="600.0" cy="165.5" r="2.6" fill="url(#gy)"/>
<circle cx="613.9" cy="165.5" r="2.6" fill="url(#gy)"/>
<circle cx="627.8" cy="165.5" r="2.6" fill="url(#gy)"/>
<circle cx="641.6" cy="165.5" r="2.6" fill="url(#gy)"/>
<circle cx="655.5" cy="165.5" r="2.6" fill="url(#gy)"/>
<rect x="474.9" y="151.7" width="152.60000000000002" height="9.3" fill="#2f46c4"/>
<circle cx="474.9" cy="158.0" r="3.3" fill="url(#gbd)"/>
<circle cx="488.8" cy="158.0" r="3.3" fill="url(#gbd)"/>
<circle cx="502.7" cy="158.0" r="3.3" fill="url(#gbd)"/>
<circle cx="516.5" cy="158.0" r="3.3" fill="url(#gbd)"/>
<circle cx="530.5" cy="158.0" r="3.3" fill="url(#gbd)"/>
<circle cx="544.4" cy="158.0" r="3.3" fill="url(#gbd)"/>
<circle cx="558.2" cy="158.0" r="3.3" fill="url(#gbd)"/>
<circle cx="572.1" cy="158.0" r="3.3" fill="url(#gbd)"/>
<circle cx="586.0" cy="158.0" r="3.3" fill="url(#gbd)"/>
<circle cx="600.0" cy="158.0" r="3.3" fill="url(#gbd)"/>
<circle cx="613.9" cy="158.0" r="3.3" fill="url(#gbd)"/>
<circle cx="627.8" cy="158.0" r="3.3" fill="url(#gbd)"/>
<circle cx="641.6" cy="158.0" r="3.3" fill="url(#gbd)"/>
<circle cx="655.5" cy="158.0" r="3.3" fill="url(#gbd)"/>
<circle cx="576.5" cy="154.6" r="2.2" fill="url(#gr)"/>
<circle cx="598.6" cy="157.4" r="3.9" fill="url(#gr)"/>
<circle cx="467.9" cy="158.9" r="4.1" fill="url(#gb)"/>
<circle cx="481.8" cy="158.9" r="4.1" fill="url(#gb)"/>
<circle cx="495.7" cy="158.9" r="4.1" fill="url(#gb)"/>
<circle cx="509.6" cy="158.9" r="4.1" fill="url(#gb)"/>
<circle cx="523.5" cy="158.9" r="4.1" fill="url(#gr)"/>
<circle cx="537.4" cy="158.9" r="4.1" fill="url(#gb)"/>
<circle cx="551.3" cy="158.9" r="4.1" fill="url(#gr)"/>
<circle cx="565.2" cy="158.9" r="4.1" fill="url(#gb)"/>
<circle cx="579.1" cy="158.9" r="4.1" fill="url(#gb)"/>
<circle cx="593.0" cy="158.9" r="4.1" fill="url(#gb)"/>
<circle cx="606.9" cy="158.9" r="4.1" fill="url(#gb)"/>
<circle cx="620.8" cy="158.9" r="4.1" fill="url(#gb)"/>
<circle cx="634.7" cy="158.9" r="4.1" fill="url(#gb)"/>
<circle cx="648.6" cy="158.9" r="4.1" fill="url(#gb)"/>
<rect x="474.9" y="139.2" width="152.60000000000002" height="13.4" fill="#86871a"/>
<circle cx="462.8" cy="139.8" r="1.9" fill="url(#gy)"/>
<circle cx="471.2" cy="139.8" r="1.9" fill="url(#gy)"/>
<circle cx="479.6" cy="139.8" r="1.9" fill="url(#gy)"/>
<circle cx="487.9" cy="139.8" r="1.9" fill="url(#gy)"/>
<circle cx="496.3" cy="139.8" r="1.9" fill="url(#gy)"/>
<circle cx="504.7" cy="139.8" r="1.9" fill="url(#gy)"/>
<circle cx="513.1" cy="139.8" r="1.9" fill="url(#gy)"/>
<circle cx="521.4" cy="139.8" r="1.9" fill="url(#gy)"/>
<circle cx="529.8" cy="139.8" r="1.9" fill="url(#gy)"/>
<circle cx="538.2" cy="139.8" r="1.9" fill="url(#gy)"/>
<circle cx="546.6" cy="139.8" r="1.9" fill="url(#gy)"/>
<circle cx="554.9" cy="139.8" r="1.9" fill="url(#gy)"/>
<circle cx="563.3" cy="139.8" r="1.9" fill="url(#gy)"/>
<circle cx="571.7" cy="139.8" r="1.9" fill="url(#gy)"/>
<circle cx="580.0" cy="139.8" r="1.9" fill="url(#gy)"/>
<circle cx="588.4" cy="139.8" r="1.9" fill="url(#gy)"/>
<circle cx="596.8" cy="139.8" r="1.9" fill="url(#gy)"/>
<circle cx="605.2" cy="139.8" r="1.9" fill="url(#gy)"/>
<circle cx="613.5" cy="139.8" r="1.9" fill="url(#gy)"/>
<circle cx="621.9" cy="139.8" r="1.9" fill="url(#gy)"/>
<circle cx="630.3" cy="139.8" r="1.9" fill="url(#gy)"/>
<circle cx="638.7" cy="139.8" r="1.9" fill="url(#gy)"/>
<circle cx="465.6" cy="140.1" r="1.9" fill="url(#gy)"/>
<circle cx="474.2" cy="140.1" r="1.9" fill="url(#gy)"/>
<circle cx="482.7" cy="140.1" r="1.9" fill="url(#gy)"/>
<circle cx="491.2" cy="140.1" r="1.9" fill="url(#gy)"/>
<circle cx="499.8" cy="140.1" r="1.9" fill="url(#gy)"/>
<circle cx="508.3" cy="140.1" r="1.9" fill="url(#gy)"/>
<circle cx="516.8" cy="140.1" r="1.9" fill="url(#gy)"/>
<circle cx="525.4" cy="140.1" r="1.9" fill="url(#gy)"/>
<circle cx="533.9" cy="140.1" r="1.9" fill="url(#gy)"/>
<circle cx="542.5" cy="140.1" r="1.9" fill="url(#gy)"/>
<circle cx="551.0" cy="140.1" r="1.9" fill="url(#gy)"/>
<circle cx="559.5" cy="140.1" r="1.9" fill="url(#gy)"/>
<circle cx="568.1" cy="140.1" r="1.9" fill="url(#gy)"/>
<circle cx="576.6" cy="140.1" r="1.9" fill="url(#gy)"/>
<circle cx="585.1" cy="140.1" r="1.9" fill="url(#gy)"/>
<circle cx="593.7" cy="140.1" r="1.9" fill="url(#gy)"/>
<circle cx="602.2" cy="140.1" r="1.9" fill="url(#gy)"/>
<circle cx="610.7" cy="140.1" r="1.9" fill="url(#gy)"/>
<circle cx="619.3" cy="140.1" r="1.9" fill="url(#gy)"/>
<circle cx="627.8" cy="140.1" r="1.9" fill="url(#gy)"/>
<circle cx="636.4" cy="140.1" r="1.9" fill="url(#gy)"/>
<circle cx="459.8" cy="140.5" r="1.9" fill="url(#gy)"/>
<circle cx="468.5" cy="140.5" r="1.9" fill="url(#gy)"/>
<circle cx="477.2" cy="140.5" r="1.9" fill="url(#gy)"/>
<circle cx="485.9" cy="140.5" r="1.9" fill="url(#gy)"/>
<circle cx="494.7" cy="140.5" r="1.9" fill="url(#gy)"/>
<circle cx="503.4" cy="140.5" r="1.9" fill="url(#gy)"/>
<circle cx="512.1" cy="140.5" r="1.9" fill="url(#gy)"/>
<circle cx="520.8" cy="140.5" r="1.9" fill="url(#gy)"/>
<circle cx="529.5" cy="140.5" r="1.9" fill="url(#gy)"/>
<circle cx="538.2" cy="140.5" r="1.9" fill="url(#gy)"/>
<circle cx="546.9" cy="140.5" r="1.9" fill="url(#gy)"/>
<circle cx="555.6" cy="140.5" r="1.9" fill="url(#gy)"/>
<circle cx="564.3" cy="140.5" r="1.9" fill="url(#gy)"/>
<circle cx="573.0" cy="140.5" r="1.9" fill="url(#gy)"/>
<circle cx="581.7" cy="140.5" r="1.9" fill="url(#gy)"/>
<circle cx="590.4" cy="140.5" r="1.9" fill="url(#gy)"/>
<circle cx="599.1" cy="140.5" r="1.9" fill="url(#gy)"/>
<circle cx="607.8" cy="140.5" r="1.9" fill="url(#gy)"/>
<circle cx="616.5" cy="140.5" r="1.9" fill="url(#gy)"/>
<circle cx="625.3" cy="140.5" r="1.9" fill="url(#gy)"/>
<circle cx="634.0" cy="140.5" r="1.9" fill="url(#gy)"/>
<circle cx="642.7" cy="140.5" r="1.9" fill="url(#gy)"/>
<circle cx="462.7" cy="140.8" r="2.0" fill="url(#gy)"/>
<circle cx="471.6" cy="140.8" r="2.0" fill="url(#gy)"/>
<circle cx="480.4" cy="140.8" r="2.0" fill="url(#gy)"/>
<circle cx="489.3" cy="140.8" r="2.0" fill="url(#gy)"/>
<circle cx="498.2" cy="140.8" r="2.0" fill="url(#gy)"/>
<circle cx="507.1" cy="140.8" r="2.0" fill="url(#gy)"/>
<circle cx="516.0" cy="140.8" r="2.0" fill="url(#gy)"/>
<circle cx="524.9" cy="140.8" r="2.0" fill="url(#gy)"/>
<circle cx="533.7" cy="140.8" r="2.0" fill="url(#gy)"/>
<circle cx="542.6" cy="140.8" r="2.0" fill="url(#gy)"/>
<circle cx="551.5" cy="140.8" r="2.0" fill="url(#gy)"/>
<circle cx="560.4" cy="140.8" r="2.0" fill="url(#gy)"/>
<circle cx="569.3" cy="140.8" r="2.0" fill="url(#gy)"/>
<circle cx="578.2" cy="140.8" r="2.0" fill="url(#gy)"/>
<circle cx="587.0" cy="140.8" r="2.0" fill="url(#gy)"/>
<circle cx="595.9" cy="140.8" r="2.0" fill="url(#gy)"/>
<circle cx="604.8" cy="140.8" r="2.0" fill="url(#gy)"/>
<circle cx="613.7" cy="140.8" r="2.0" fill="url(#gy)"/>
<circle cx="622.6" cy="140.8" r="2.0" fill="url(#gy)"/>
<circle cx="631.5" cy="140.8" r="2.0" fill="url(#gy)"/>
<circle cx="640.3" cy="140.8" r="2.0" fill="url(#gy)"/>
<circle cx="465.7" cy="141.2" r="2.0" fill="url(#gy)"/>
<circle cx="474.7" cy="141.2" r="2.0" fill="url(#gy)"/>
<circle cx="483.8" cy="141.2" r="2.0" fill="url(#gy)"/>
<circle cx="492.9" cy="141.2" r="2.0" fill="url(#gy)"/>
<circle cx="501.9" cy="141.2" r="2.0" fill="url(#gy)"/>
<circle cx="511.0" cy="141.2" r="2.0" fill="url(#gy)"/>
<circle cx="520.1" cy="141.2" r="2.0" fill="url(#gy)"/>
<circle cx="529.1" cy="141.2" r="2.0" fill="url(#gy)"/>
<circle cx="538.2" cy="141.2" r="2.0" fill="url(#gy)"/>
<circle cx="547.3" cy="141.2" r="2.0" fill="url(#gy)"/>
<circle cx="556.3" cy="141.2" r="2.0" fill="url(#gy)"/>
<circle cx="565.4" cy="141.2" r="2.0" fill="url(#gy)"/>
<circle cx="574.5" cy="141.2" r="2.0" fill="url(#gy)"/>
<circle cx="583.5" cy="141.2" r="2.0" fill="url(#gy)"/>
<circle cx="592.6" cy="141.2" r="2.0" fill="url(#gy)"/>
<circle cx="601.7" cy="141.2" r="2.0" fill="url(#gy)"/>
<circle cx="610.7" cy="141.2" r="2.0" fill="url(#gy)"/>
<circle cx="619.8" cy="141.2" r="2.0" fill="url(#gy)"/>
<circle cx="628.9" cy="141.2" r="2.0" fill="url(#gy)"/>
<circle cx="637.9" cy="141.2" r="2.0" fill="url(#gy)"/>
<circle cx="459.5" cy="141.6" r="2.1" fill="url(#gy)"/>
<circle cx="468.8" cy="141.6" r="2.1" fill="url(#gy)"/>
<circle cx="478.0" cy="141.6" r="2.1" fill="url(#gy)"/>
<circle cx="487.3" cy="141.6" r="2.1" fill="url(#gy)"/>
<circle cx="496.5" cy="141.6" r="2.1" fill="url(#gy)"/>
<circle cx="505.8" cy="141.6" r="2.1" fill="url(#gy)"/>
<circle cx="515.1" cy="141.6" r="2.1" fill="url(#gy)"/>
<circle cx="524.3" cy="141.6" r="2.1" fill="url(#gy)"/>
<circle cx="533.6" cy="141.6" r="2.1" fill="url(#gy)"/>
<circle cx="542.8" cy="141.6" r="2.1" fill="url(#gy)"/>
<circle cx="552.1" cy="141.6" r="2.1" fill="url(#gy)"/>
<circle cx="561.3" cy="141.6" r="2.1" fill="url(#gy)"/>
<circle cx="570.6" cy="141.6" r="2.1" fill="url(#gy)"/>
<circle cx="579.9" cy="141.6" r="2.1" fill="url(#gy)"/>
<circle cx="589.1" cy="141.6" r="2.1" fill="url(#gy)"/>
<circle cx="598.4" cy="141.6" r="2.1" fill="url(#gy)"/>
<circle cx="607.6" cy="141.6" r="2.1" fill="url(#gy)"/>
<circle cx="616.9" cy="141.6" r="2.1" fill="url(#gy)"/>
<circle cx="626.2" cy="141.6" r="2.1" fill="url(#gy)"/>
<circle cx="635.4" cy="141.6" r="2.1" fill="url(#gy)"/>
<circle cx="644.7" cy="141.6" r="2.1" fill="url(#gy)"/>
<circle cx="462.5" cy="142.1" r="2.1" fill="url(#gy)"/>
<circle cx="472.0" cy="142.1" r="2.1" fill="url(#gy)"/>
<circle cx="481.4" cy="142.1" r="2.1" fill="url(#gy)"/>
<circle cx="490.9" cy="142.1" r="2.1" fill="url(#gy)"/>
<circle cx="500.4" cy="142.1" r="2.1" fill="url(#gy)"/>
<circle cx="509.8" cy="142.1" r="2.1" fill="url(#gy)"/>
<circle cx="519.3" cy="142.1" r="2.1" fill="url(#gy)"/>
<circle cx="528.7" cy="142.1" r="2.1" fill="url(#gy)"/>
<circle cx="538.2" cy="142.1" r="2.1" fill="url(#gy)"/>
<circle cx="547.7" cy="142.1" r="2.1" fill="url(#gy)"/>
<circle cx="557.1" cy="142.1" r="2.1" fill="url(#gy)"/>
<circle cx="566.6" cy="142.1" r="2.1" fill="url(#gy)"/>
<circle cx="576.0" cy="142.1" r="2.1" fill="url(#gy)"/>
<circle cx="585.5" cy="142.1" r="2.1" fill="url(#gy)"/>
<circle cx="595.0" cy="142.1" r="2.1" fill="url(#gy)"/>
<circle cx="604.4" cy="142.1" r="2.1" fill="url(#gy)"/>
<circle cx="613.9" cy="142.1" r="2.1" fill="url(#gy)"/>
<circle cx="623.3" cy="142.1" r="2.1" fill="url(#gy)"/>
<circle cx="632.8" cy="142.1" r="2.1" fill="url(#gy)"/>
<circle cx="642.3" cy="142.1" r="2.1" fill="url(#gy)"/>
<circle cx="456.0" cy="142.5" r="2.1" fill="url(#gy)"/>
<circle cx="465.7" cy="142.5" r="2.1" fill="url(#gy)"/>
<circle cx="475.4" cy="142.5" r="2.1" fill="url(#gy)"/>
<circle cx="485.0" cy="142.5" r="2.1" fill="url(#gy)"/>
<circle cx="494.7" cy="142.5" r="2.1" fill="url(#gy)"/>
<circle cx="504.4" cy="142.5" r="2.1" fill="url(#gy)"/>
<circle cx="514.0" cy="142.5" r="2.1" fill="url(#gy)"/>
<circle cx="523.7" cy="142.5" r="2.1" fill="url(#gy)"/>
<circle cx="533.4" cy="142.5" r="2.1" fill="url(#gy)"/>
<circle cx="543.0" cy="142.5" r="2.1" fill="url(#gy)"/>
<circle cx="552.7" cy="142.5" r="2.1" fill="url(#gy)"/>
<circle cx="562.4" cy="142.5" r="2.1" fill="url(#gy)"/>
<circle cx="572.0" cy="142.5" r="2.1" fill="url(#gy)"/>
<circle cx="581.7" cy="142.5" r="2.1" fill="url(#gy)"/>
<circle cx="591.4" cy="142.5" r="2.1" fill="url(#gy)"/>
<circle cx="601.1" cy="142.5" r="2.1" fill="url(#gy)"/>
<circle cx="610.7" cy="142.5" r="2.1" fill="url(#gy)"/>
<circle cx="620.4" cy="142.5" r="2.1" fill="url(#gy)"/>
<circle cx="630.1" cy="142.5" r="2.1" fill="url(#gy)"/>
<circle cx="639.7" cy="142.5" r="2.1" fill="url(#gy)"/>
<circle cx="459.1" cy="143.0" r="2.2" fill="url(#gy)"/>
<circle cx="469.0" cy="143.0" r="2.2" fill="url(#gy)"/>
<circle cx="478.9" cy="143.0" r="2.2" fill="url(#gy)"/>
<circle cx="488.8" cy="143.0" r="2.2" fill="url(#gy)"/>
<circle cx="498.7" cy="143.0" r="2.2" fill="url(#gy)"/>
<circle cx="508.6" cy="143.0" r="2.2" fill="url(#gy)"/>
<circle cx="518.4" cy="143.0" r="2.2" fill="url(#gy)"/>
<circle cx="528.3" cy="143.0" r="2.2" fill="url(#gy)"/>
<circle cx="538.2" cy="143.0" r="2.2" fill="url(#gy)"/>
<circle cx="548.1" cy="143.0" r="2.2" fill="url(#gy)"/>
<circle cx="558.0" cy="143.0" r="2.2" fill="url(#gy)"/>
<circle cx="567.9" cy="143.0" r="2.2" fill="url(#gy)"/>
<circle cx="577.8" cy="143.0" r="2.2" fill="url(#gy)"/>
<circle cx="587.6" cy="143.0" r="2.2" fill="url(#gy)"/>
<circle cx="597.5" cy="143.0" r="2.2" fill="url(#gy)"/>
<circle cx="607.4" cy="143.0" r="2.2" fill="url(#gy)"/>
<circle cx="617.3" cy="143.0" r="2.2" fill="url(#gy)"/>
<circle cx="627.2" cy="143.0" r="2.2" fill="url(#gy)"/>
<circle cx="637.1" cy="143.0" r="2.2" fill="url(#gy)"/>
<circle cx="647.0" cy="143.0" r="2.2" fill="url(#gy)"/>
<circle cx="462.3" cy="143.5" r="2.2" fill="url(#gy)"/>
<circle cx="472.5" cy="143.5" r="2.2" fill="url(#gy)"/>
<circle cx="482.6" cy="143.5" r="2.2" fill="url(#gy)"/>
<circle cx="492.7" cy="143.5" r="2.2" fill="url(#gy)"/>
<circle cx="502.8" cy="143.5" r="2.2" fill="url(#gy)"/>
<circle cx="512.9" cy="143.5" r="2.2" fill="url(#gy)"/>
<circle cx="523.0" cy="143.5" r="2.2" fill="url(#gy)"/>
<circle cx="533.2" cy="143.5" r="2.2" fill="url(#gy)"/>
<circle cx="543.3" cy="143.5" r="2.2" fill="url(#gy)"/>
<circle cx="553.4" cy="143.5" r="2.2" fill="url(#gy)"/>
<circle cx="563.5" cy="143.5" r="2.2" fill="url(#gy)"/>
<circle cx="573.6" cy="143.5" r="2.2" fill="url(#gy)"/>
<circle cx="583.7" cy="143.5" r="2.2" fill="url(#gy)"/>
<circle cx="593.9" cy="143.5" r="2.2" fill="url(#gy)"/>
<circle cx="604.0" cy="143.5" r="2.2" fill="url(#gy)"/>
<circle cx="614.1" cy="143.5" r="2.2" fill="url(#gy)"/>
<circle cx="624.2" cy="143.5" r="2.2" fill="url(#gy)"/>
<circle cx="634.3" cy="143.5" r="2.2" fill="url(#gy)"/>
<circle cx="644.4" cy="143.5" r="2.2" fill="url(#gy)"/>
<circle cx="455.4" cy="144.0" r="2.3" fill="url(#gy)"/>
<circle cx="465.7" cy="144.0" r="2.3" fill="url(#gy)"/>
<circle cx="476.1" cy="144.0" r="2.3" fill="url(#gy)"/>
<circle cx="486.4" cy="144.0" r="2.3" fill="url(#gy)"/>
<circle cx="496.8" cy="144.0" r="2.3" fill="url(#gy)"/>
<circle cx="507.2" cy="144.0" r="2.3" fill="url(#gy)"/>
<circle cx="517.5" cy="144.0" r="2.3" fill="url(#gy)"/>
<circle cx="527.9" cy="144.0" r="2.3" fill="url(#gy)"/>
<circle cx="538.2" cy="144.0" r="2.3" fill="url(#gy)"/>
<circle cx="548.6" cy="144.0" r="2.3" fill="url(#gy)"/>
<circle cx="558.9" cy="144.0" r="2.3" fill="url(#gy)"/>
<circle cx="569.3" cy="144.0" r="2.3" fill="url(#gy)"/>
<circle cx="579.6" cy="144.0" r="2.3" fill="url(#gy)"/>
<circle cx="590.0" cy="144.0" r="2.3" fill="url(#gy)"/>
<circle cx="600.4" cy="144.0" r="2.3" fill="url(#gy)"/>
<circle cx="610.7" cy="144.0" r="2.3" fill="url(#gy)"/>
<circle cx="621.1" cy="144.0" r="2.3" fill="url(#gy)"/>
<circle cx="631.4" cy="144.0" r="2.3" fill="url(#gy)"/>
<circle cx="641.8" cy="144.0" r="2.3" fill="url(#gy)"/>
<circle cx="458.7" cy="144.5" r="2.3" fill="url(#gy)"/>
<circle cx="469.3" cy="144.5" r="2.3" fill="url(#gy)"/>
<circle cx="479.9" cy="144.5" r="2.3" fill="url(#gy)"/>
<circle cx="490.5" cy="144.5" r="2.3" fill="url(#gy)"/>
<circle cx="501.1" cy="144.5" r="2.3" fill="url(#gy)"/>
<circle cx="511.7" cy="144.5" r="2.3" fill="url(#gy)"/>
<circle cx="522.3" cy="144.5" r="2.3" fill="url(#gy)"/>
<circle cx="532.9" cy="144.5" r="2.3" fill="url(#gy)"/>
<circle cx="543.5" cy="144.5" r="2.3" fill="url(#gy)"/>
<circle cx="554.1" cy="144.5" r="2.3" fill="url(#gy)"/>
<circle cx="564.7" cy="144.5" r="2.3" fill="url(#gy)"/>
<circle cx="575.3" cy="144.5" r="2.3" fill="url(#gy)"/>
<circle cx="586.0" cy="144.5" r="2.3" fill="url(#gy)"/>
<circle cx="596.6" cy="144.5" r="2.3" fill="url(#gy)"/>
<circle cx="607.2" cy="144.5" r="2.3" fill="url(#gy)"/>
<circle cx="617.8" cy="144.5" r="2.3" fill="url(#gy)"/>
<circle cx="628.4" cy="144.5" r="2.3" fill="url(#gy)"/>
<circle cx="639.0" cy="144.5" r="2.3" fill="url(#gy)"/>
<circle cx="462.1" cy="145.1" r="2.4" fill="url(#gy)"/>
<circle cx="473.0" cy="145.1" r="2.4" fill="url(#gy)"/>
<circle cx="483.9" cy="145.1" r="2.4" fill="url(#gy)"/>
<circle cx="494.8" cy="145.1" r="2.4" fill="url(#gy)"/>
<circle cx="505.6" cy="145.1" r="2.4" fill="url(#gy)"/>
<circle cx="516.5" cy="145.1" r="2.4" fill="url(#gy)"/>
<circle cx="527.4" cy="145.1" r="2.4" fill="url(#gy)"/>
<circle cx="538.2" cy="145.1" r="2.4" fill="url(#gy)"/>
<circle cx="549.1" cy="145.1" r="2.4" fill="url(#gy)"/>
<circle cx="560.0" cy="145.1" r="2.4" fill="url(#gy)"/>
<circle cx="570.8" cy="145.1" r="2.4" fill="url(#gy)"/>
<circle cx="581.7" cy="145.1" r="2.4" fill="url(#gy)"/>
<circle cx="592.6" cy="145.1" r="2.4" fill="url(#gy)"/>
<circle cx="603.5" cy="145.1" r="2.4" fill="url(#gy)"/>
<circle cx="614.3" cy="145.1" r="2.4" fill="url(#gy)"/>
<circle cx="625.2" cy="145.1" r="2.4" fill="url(#gy)"/>
<circle cx="636.1" cy="145.1" r="2.4" fill="url(#gy)"/>
<circle cx="646.9" cy="145.1" r="2.4" fill="url(#gy)"/>
<circle cx="454.6" cy="145.6" r="2.5" fill="url(#gy)"/>
<circle cx="465.8" cy="145.6" r="2.5" fill="url(#gy)"/>
<circle cx="476.9" cy="145.6" r="2.5" fill="url(#gy)"/>
<circle cx="488.1" cy="145.6" r="2.5" fill="url(#gy)"/>
<circle cx="499.2" cy="145.6" r="2.5" fill="url(#gy)"/>
<circle cx="510.4" cy="145.6" r="2.5" fill="url(#gy)"/>
<circle cx="521.5" cy="145.6" r="2.5" fill="url(#gy)"/>
<circle cx="532.7" cy="145.6" r="2.5" fill="url(#gy)"/>
<circle cx="543.8" cy="145.6" r="2.5" fill="url(#gy)"/>
<circle cx="555.0" cy="145.6" r="2.5" fill="url(#gy)"/>
<circle cx="566.1" cy="145.6" r="2.5" fill="url(#gy)"/>
<circle cx="577.3" cy="145.6" r="2.5" fill="url(#gy)"/>
<circle cx="588.4" cy="145.6" r="2.5" fill="url(#gy)"/>
<circle cx="599.5" cy="145.6" r="2.5" fill="url(#gy)"/>
<circle cx="610.7" cy="145.6" r="2.5" fill="url(#gy)"/>
<circle cx="621.8" cy="145.6" r="2.5" fill="url(#gy)"/>
<circle cx="633.0" cy="145.6" r="2.5" fill="url(#gy)"/>
<circle cx="644.1" cy="145.6" r="2.5" fill="url(#gy)"/>
<circle cx="458.2" cy="146.3" r="2.5" fill="url(#gy)"/>
<circle cx="469.6" cy="146.3" r="2.5" fill="url(#gy)"/>
<circle cx="481.1" cy="146.3" r="2.5" fill="url(#gy)"/>
<circle cx="492.5" cy="146.3" r="2.5" fill="url(#gy)"/>
<circle cx="503.9" cy="146.3" r="2.5" fill="url(#gy)"/>
<circle cx="515.4" cy="146.3" r="2.5" fill="url(#gy)"/>
<circle cx="526.8" cy="146.3" r="2.5" fill="url(#gy)"/>
<circle cx="538.2" cy="146.3" r="2.5" fill="url(#gy)"/>
<circle cx="549.7" cy="146.3" r="2.5" fill="url(#gy)"/>
<circle cx="561.1" cy="146.3" r="2.5" fill="url(#gy)"/>
<circle cx="572.6" cy="146.3" r="2.5" fill="url(#gy)"/>
<circle cx="584.0" cy="146.3" r="2.5" fill="url(#gy)"/>
<circle cx="595.4" cy="146.3" r="2.5" fill="url(#gy)"/>
<circle cx="606.9" cy="146.3" r="2.5" fill="url(#gy)"/>
<circle cx="618.3" cy="146.3" r="2.5" fill="url(#gy)"/>
<circle cx="629.7" cy="146.3" r="2.5" fill="url(#gy)"/>
<circle cx="641.2" cy="146.3" r="2.5" fill="url(#gy)"/>
<circle cx="461.9" cy="146.9" r="2.6" fill="url(#gy)"/>
<circle cx="473.7" cy="146.9" r="2.6" fill="url(#gy)"/>
<circle cx="485.4" cy="146.9" r="2.6" fill="url(#gy)"/>
<circle cx="497.1" cy="146.9" r="2.6" fill="url(#gy)"/>
<circle cx="508.9" cy="146.9" r="2.6" fill="url(#gy)"/>
<circle cx="520.6" cy="146.9" r="2.6" fill="url(#gy)"/>
<circle cx="532.4" cy="146.9" r="2.6" fill="url(#gy)"/>
<circle cx="544.1" cy="146.9" r="2.6" fill="url(#gy)"/>
<circle cx="555.9" cy="146.9" r="2.6" fill="url(#gy)"/>
<circle cx="567.6" cy="146.9" r="2.6" fill="url(#gy)"/>
<circle cx="579.4" cy="146.9" r="2.6" fill="url(#gy)"/>
<circle cx="591.1" cy="146.9" r="2.6" fill="url(#gy)"/>
<circle cx="602.8" cy="146.9" r="2.6" fill="url(#gy)"/>
<circle cx="614.6" cy="146.9" r="2.6" fill="url(#gy)"/>
<circle cx="626.3" cy="146.9" r="2.6" fill="url(#gy)"/>
<circle cx="638.1" cy="146.9" r="2.6" fill="url(#gy)"/>
<circle cx="649.8" cy="146.9" r="2.6" fill="url(#gy)"/>
<circle cx="453.8" cy="147.6" r="2.7" fill="url(#gy)"/>
<circle cx="465.8" cy="147.6" r="2.7" fill="url(#gy)"/>
<circle cx="477.9" cy="147.6" r="2.7" fill="url(#gy)"/>
<circle cx="490.0" cy="147.6" r="2.7" fill="url(#gy)"/>
<circle cx="502.1" cy="147.6" r="2.7" fill="url(#gy)"/>
<circle cx="514.1" cy="147.6" r="2.7" fill="url(#gy)"/>
<circle cx="526.2" cy="147.6" r="2.7" fill="url(#gy)"/>
<circle cx="538.3" cy="147.6" r="2.7" fill="url(#gy)"/>
<circle cx="550.3" cy="147.6" r="2.7" fill="url(#gy)"/>
<circle cx="562.4" cy="147.6" r="2.7" fill="url(#gy)"/>
<circle cx="574.5" cy="147.6" r="2.7" fill="url(#gy)"/>
<circle cx="586.5" cy="147.6" r="2.7" fill="url(#gy)"/>
<circle cx="598.6" cy="147.6" r="2.7" fill="url(#gy)"/>
<circle cx="610.7" cy="147.6" r="2.7" fill="url(#gy)"/>
<circle cx="622.7" cy="147.6" r="2.7" fill="url(#gy)"/>
<circle cx="634.8" cy="147.6" r="2.7" fill="url(#gy)"/>
<circle cx="646.9" cy="147.6" r="2.7" fill="url(#gy)"/>
<circle cx="457.6" cy="148.3" r="2.7" fill="url(#gy)"/>
<circle cx="470.0" cy="148.3" r="2.7" fill="url(#gy)"/>
<circle cx="482.4" cy="148.3" r="2.7" fill="url(#gy)"/>
<circle cx="494.8" cy="148.3" r="2.7" fill="url(#gy)"/>
<circle cx="507.2" cy="148.3" r="2.7" fill="url(#gy)"/>
<circle cx="519.6" cy="148.3" r="2.7" fill="url(#gy)"/>
<circle cx="532.1" cy="148.3" r="2.7" fill="url(#gy)"/>
<circle cx="544.5" cy="148.3" r="2.7" fill="url(#gy)"/>
<circle cx="556.9" cy="148.3" r="2.7" fill="url(#gy)"/>
<circle cx="569.3" cy="148.3" r="2.7" fill="url(#gy)"/>
<circle cx="581.7" cy="148.3" r="2.7" fill="url(#gy)"/>
<circle cx="594.1" cy="148.3" r="2.7" fill="url(#gy)"/>
<circle cx="606.5" cy="148.3" r="2.7" fill="url(#gy)"/>
<circle cx="618.9" cy="148.3" r="2.7" fill="url(#gy)"/>
<circle cx="631.4" cy="148.3" r="2.7" fill="url(#gy)"/>
<circle cx="643.8" cy="148.3" r="2.7" fill="url(#gy)"/>
<circle cx="461.6" cy="149.1" r="2.8" fill="url(#gy)"/>
<circle cx="474.4" cy="149.1" r="2.8" fill="url(#gy)"/>
<circle cx="487.2" cy="149.1" r="2.8" fill="url(#gy)"/>
<circle cx="500.0" cy="149.1" r="2.8" fill="url(#gy)"/>
<circle cx="512.7" cy="149.1" r="2.8" fill="url(#gy)"/>
<circle cx="525.5" cy="149.1" r="2.8" fill="url(#gy)"/>
<circle cx="538.3" cy="149.1" r="2.8" fill="url(#gy)"/>
<circle cx="551.0" cy="149.1" r="2.8" fill="url(#gy)"/>
<circle cx="563.8" cy="149.1" r="2.8" fill="url(#gy)"/>
<circle cx="576.6" cy="149.1" r="2.8" fill="url(#gy)"/>
<circle cx="589.4" cy="149.1" r="2.8" fill="url(#gy)"/>
<circle cx="602.1" cy="149.1" r="2.8" fill="url(#gy)"/>
<circle cx="614.9" cy="149.1" r="2.8" fill="url(#gy)"/>
<circle cx="627.7" cy="149.1" r="2.8" fill="url(#gy)"/>
<circle cx="640.5" cy="149.1" r="2.8" fill="url(#gy)"/>
<circle cx="452.8" cy="149.9" r="2.9" fill="url(#gy)"/>
<circle cx="465.9" cy="149.9" r="2.9" fill="url(#gy)"/>
<circle cx="479.1" cy="149.9" r="2.9" fill="url(#gy)"/>
<circle cx="492.2" cy="149.9" r="2.9" fill="url(#gy)"/>
<circle cx="505.4" cy="149.9" r="2.9" fill="url(#gy)"/>
<circle cx="518.5" cy="149.9" r="2.9" fill="url(#gy)"/>
<circle cx="531.7" cy="149.9" r="2.9" fill="url(#gy)"/>
<circle cx="544.9" cy="149.9" r="2.9" fill="url(#gy)"/>
<circle cx="558.0" cy="149.9" r="2.9" fill="url(#gy)"/>
<circle cx="571.2" cy="149.9" r="2.9" fill="url(#gy)"/>
<circle cx="584.3" cy="149.9" r="2.9" fill="url(#gy)"/>
<circle cx="597.5" cy="149.9" r="2.9" fill="url(#gy)"/>
<circle cx="610.7" cy="149.9" r="2.9" fill="url(#gy)"/>
<circle cx="623.8" cy="149.9" r="2.9" fill="url(#gy)"/>
<circle cx="637.0" cy="149.9" r="2.9" fill="url(#gy)"/>
<circle cx="650.1" cy="149.9" r="2.9" fill="url(#gy)"/>
<circle cx="456.9" cy="150.8" r="3.0" fill="url(#gy)"/>
<circle cx="470.5" cy="150.8" r="3.0" fill="url(#gy)"/>
<circle cx="484.0" cy="150.8" r="3.0" fill="url(#gy)"/>
<circle cx="497.6" cy="150.8" r="3.0" fill="url(#gy)"/>
<circle cx="511.2" cy="150.8" r="3.0" fill="url(#gy)"/>
<circle cx="524.7" cy="150.8" r="3.0" fill="url(#gy)"/>
<circle cx="538.3" cy="150.8" r="3.0" fill="url(#gy)"/>
<circle cx="551.9" cy="150.8" r="3.0" fill="url(#gy)"/>
<circle cx="565.4" cy="150.8" r="3.0" fill="url(#gy)"/>
<circle cx="579.0" cy="150.8" r="3.0" fill="url(#gy)"/>
<circle cx="592.6" cy="150.8" r="3.0" fill="url(#gy)"/>
<circle cx="606.1" cy="150.8" r="3.0" fill="url(#gy)"/>
<circle cx="619.7" cy="150.8" r="3.0" fill="url(#gy)"/>
<circle cx="633.3" cy="150.8" r="3.0" fill="url(#gy)"/>
<circle cx="646.8" cy="150.8" r="3.0" fill="url(#gy)"/>
<circle cx="447.3" cy="151.7" r="3.1" fill="url(#gy)"/>
<circle cx="461.3" cy="151.7" r="3.1" fill="url(#gy)"/>
<circle cx="475.3" cy="151.7" r="3.1" fill="url(#gy)"/>
<circle cx="489.3" cy="151.7" r="3.1" fill="url(#gy)"/>
<circle cx="503.3" cy="151.7" r="3.1" fill="url(#gy)"/>
<circle cx="517.3" cy="151.7" r="3.1" fill="url(#gy)"/>
<circle cx="531.3" cy="151.7" r="3.1" fill="url(#gy)"/>
<circle cx="545.3" cy="151.7" r="3.1" fill="url(#gy)"/>
<circle cx="559.3" cy="151.7" r="3.1" fill="url(#gy)"/>
<circle cx="573.3" cy="151.7" r="3.1" fill="url(#gy)"/>
<circle cx="587.3" cy="151.7" r="3.1" fill="url(#gy)"/>
<circle cx="601.3" cy="151.7" r="3.1" fill="url(#gy)"/>
<circle cx="615.3" cy="151.7" r="3.1" fill="url(#gy)"/>
<circle cx="629.3" cy="151.7" r="3.1" fill="url(#gy)"/>
<circle cx="643.3" cy="151.7" r="3.1" fill="url(#gy)"/>
<circle cx="454.3" cy="151.4" r="3.1" fill="url(#gy)"/>
<circle cx="468.3" cy="151.4" r="3.1" fill="url(#gy)"/>
<circle cx="482.3" cy="151.4" r="3.1" fill="url(#gy)"/>
<circle cx="496.3" cy="151.4" r="3.1" fill="url(#gy)"/>
<circle cx="510.3" cy="151.4" r="3.1" fill="url(#gy)"/>
<circle cx="524.3" cy="151.4" r="3.1" fill="url(#gy)"/>
<circle cx="538.3" cy="151.4" r="3.1" fill="url(#gy)"/>
<circle cx="552.3" cy="151.4" r="3.1" fill="url(#gy)"/>
<circle cx="566.3" cy="151.4" r="3.1" fill="url(#gy)"/>
<circle cx="580.3" cy="151.4" r="3.1" fill="url(#gy)"/>
<circle cx="594.3" cy="151.4" r="3.1" fill="url(#gy)"/>
<circle cx="608.3" cy="151.4" r="3.1" fill="url(#gy)"/>
<circle cx="622.3" cy="151.4" r="3.1" fill="url(#gy)"/>
<circle cx="636.3" cy="151.4" r="3.1" fill="url(#gy)"/>
<circle cx="650.3" cy="151.4" r="3.1" fill="url(#gy)"/>
</g>
<circle cx="112.7" cy="138.6" r="2.9" fill="url(#gr)"/>
<circle cx="144.2" cy="138.6" r="2.9" fill="url(#gr)"/>
<circle cx="105.0" cy="147.3" r="2.9" fill="url(#gr)"/>
<circle cx="122.6" cy="148.0" r="2.9" fill="url(#gr)"/>
<circle cx="99.5" cy="157.3" r="2.9" fill="url(#gr)"/>
<circle cx="137.5" cy="157.3" r="2.9" fill="url(#gr)"/>
<path d="M107.8 148.8C113 150 117.5 153.4 119.6 159.8M141.3 139.6C134 141.3 130.8 148.6 130.6 158.6" fill="none" stroke="#c81e1e" stroke-width="1.9" stroke-dasharray="3.8 1.9"/>
<circle cx="282.7" cy="34.7" r="3.0" fill="url(#gr)"/>
<circle cx="305.7" cy="30.7" r="3.0" fill="url(#gr)"/>
<circle cx="313.0" cy="42.0" r="3.0" fill="url(#gr)"/>
<circle cx="323.2" cy="34.7" r="3.0" fill="url(#gr)"/>
<path d="M358.8 46.3L359.2 45.4L359.6 44.3L359.9 43.1L360.3 41.8L360.7 40.4L361.1 39.1L361.5 37.7L361.9 36.4L362.2 35.2L362.6 34.1L363.0 33.1L363.4 32.3L363.8 31.6L364.2 31.1L364.5 30.8L364.9 30.7L365.3 30.8L365.7 31.1L366.1 31.6L366.4 32.3L366.8 33.2L367.2 34.2L367.6 35.3L368.0 36.6L368.4 37.9L368.7 39.2L369.1 40.6L369.5 41.9L369.9 43.2L370.3 44.4L370.7 45.5L371.0 46.4L371.4 47.2L371.8 47.8L372.2 48.2L372.6 48.5L373.0 48.5L373.3 48.3L373.7 47.9L374.1 47.3L374.5 46.6L374.9 45.7L375.2 44.6L375.6 43.4L376.0 42.2L376.4 40.9L376.8 39.5L377.2 38.2L377.5 36.8L377.9 35.6L378.3 34.4L378.7 33.4L379.1 32.5L379.5 31.8L379.8 31.2L380.2 30.9L380.6 30.7L381.0 30.8L381.4 31.0L381.8 31.5L382.1 32.1L382.5 32.9L382.9 33.9L383.3 35.0L383.7 36.2L384.0 37.5L384.4 38.8L384.8 40.2L385.2 41.5L385.6 42.8L386.0 44.0L386.3 45.1L386.7 46.1L387.1 47.0L387.5 47.6L387.9 48.1L388.3 48.4L388.6 48.5L389.0 48.4L389.4 48.1L389.8 47.5L390.2 46.8L390.5 46.0L390.9 44.9L391.3 43.8L391.7 42.6L392.1 41.3L392.5 39.9L392.8 38.6L393.2 37.2L393.6 36.0L394.0 34.8L394.4 33.7L394.8 32.8L395.1 32.0L395.5 31.4L395.9 31.0L396.3 30.7L396.7 30.7L397.1 30.9L397.4 31.3L397.8 31.9L398.2 32.7L398.6 33.6L399.0 34.6L399.3 35.8L399.7 37.1L400.1 38.4L400.5 39.8L400.9 41.1L401.3 42.4L401.6 43.7L402.0 44.8L402.4 45.8L402.8 46.7L403.2 47.5L403.6 48.0L403.9 48.3L404.3 48.5L404.7 48.4" fill="none" stroke="#c81e1e" stroke-width="1.8" stroke-dasharray="3.8 1.9"/>
<text x="-1.6" y="19.1" font-size="24" fill="#000" font-weight="bold">a</text>
<text x="-1.3" y="246.1" font-size="24" fill="#000" font-weight="bold">b</text>
<text x="217.5" y="246.2" font-size="24" fill="#000" font-weight="bold">c</text>
<text x="445.7" y="246.3" font-size="24" fill="#000" font-weight="bold">d</text>
<rect x="27.3" y="246.3" width="183.1" height="185.9" fill="none" stroke="#505050" stroke-width="1.1"/>
<path d="M27.3 271.9h2.6M27.3 299.1h2.6M27.3 326.1h2.6M27.3 352.7h2.6M27.3 379.5h2.6M27.3 406.1h2.6M62 432.2v-1.8M97 432.2v-1.8M132 432.2v-1.8M167 432.2v-1.8M202 432.2v-1.8" stroke="#444" stroke-width="1" fill="none"/>
<path d="M62.0 405.5L63.5 405.5L65.0 405.4L66.5 405.4L68.0 405.3L69.5 405.2L71.0 405.2L72.5 405.1L74.0 405.0L75.5 404.9L77.0 404.8L78.5 404.7L80.0 404.5L81.5 404.4L83.0 404.2L84.5 404.0L86.0 403.9L87.5 403.6L89.0 403.4L90.5 403.2L92.0 402.9L93.5 402.6L95.0 402.3L96.5 401.9L98.0 401.5L99.5 401.1L101.0 400.6L102.5 400.1L104.0 399.6L105.5 399.0L107.0 398.4L108.5 397.7L110.0 396.9L111.5 396.1L113.0 395.2L114.5 394.2L116.0 393.1L117.5 392.0L119.0 390.8L120.5 389.5L122.0 388.1L123.5 386.6L125.0 384.9L126.5 383.2L128.0 381.4L129.5 379.4L131.0 377.3L132.5 375.1L134.0 372.8L135.5 370.3L137.0 367.8L138.5 365.1L140.0 362.3L141.5 359.4L143.0 356.4L144.5 353.3L146.0 350.1L147.5 346.8L149.0 343.5L150.5 340.2L152.0 336.8L153.5 333.3L155.0 329.9L156.5 326.5L158.0 323.1L159.5 319.8L161.0 316.5L162.5 313.2L164.0 310.0L165.5 307.0L167.0 304.0L168.5 301.1L170.0 298.3L171.5 295.7L173.0 293.1L174.5 290.7L176.0 288.4L177.5 286.2L179.0 284.2L180.5 282.3L182.0 280.4L183.5 278.7L185.0 277.1L186.5 275.6L188.0 274.3L189.5 273.0L191.0 271.8L192.5 270.7L194.0 269.6L195.5 268.7L197.0 267.8L198.5 267.0L200.0 266.2L201.3 265.6" fill="none" stroke="#f5201a" stroke-width="1.6"/>
<rect x="42.3" y="254.6" width="100.5" height="101.7" fill="#fff" stroke="#5a5a5a" stroke-width="0.8"/>
<path d="M58.8 339.6L60.0 339.5L61.2 339.4L62.4 339.2L63.6 339.0L64.8 338.8L66.0 338.6L67.2 338.3L68.4 338.1L69.6 337.9L70.8 337.7L72.0 337.6L73.2 337.5L74.4 337.4L75.6 337.4L76.8 337.4L78.0 337.3L79.2 337.3L80.4 337.3L81.6 337.3L82.8 337.3L84.0 337.3L85.2 337.3L86.4 337.3L87.6 337.3L88.8 337.3L90.0 337.3L91.2 337.3L92.4 337.3L93.6 337.3L94.8 337.3L96.0 337.3L97.2 337.3L98.4 337.3L99.6 337.3L100.8 337.3L102.0 337.3L103.2 337.3L104.4 337.3L105.6 337.3L106.8 337.3L108.0 337.3L109.2 337.3L110.4 337.3L111.6 337.3L112.8 337.3L114.0 337.3L115.2 337.3L116.4 337.3L117.6 337.3L118.8 337.3L120.0 337.3L121.2 337.3L122.4 337.3L123.6 337.3L124.8 337.3" fill="none" stroke="#333" stroke-width="0.8"/>
<path d="M58.8 340.4L60.0 340.3L61.2 340.3L62.4 340.2L63.6 340.1L64.8 339.9L66.0 339.8L67.2 339.6L68.4 339.4L69.6 339.1L70.8 338.9L72.0 338.5L73.2 338.2L74.4 337.7L75.6 337.2L76.8 336.7L78.0 336.0L79.2 335.3L80.4 334.6L81.6 333.7L82.8 332.8L84.0 331.7L85.2 330.7L86.4 329.5L87.6 328.3L88.8 327.1L90.0 325.9L91.2 324.7L92.4 323.5L93.6 322.3L94.8 321.1L96.0 320.1L97.2 319.1L98.4 318.2L99.6 317.3L100.8 316.5L102.0 315.8L103.2 315.2L104.4 314.7L105.6 314.2L106.8 313.8L108.0 313.4L109.2 313.1L110.4 312.8L111.6 312.6L112.8 312.4L114.0 312.2L115.2 312.1L116.4 311.9L117.6 311.8L118.8 311.7L120.0 311.6L121.2 311.6L122.4 311.5L123.6 311.5L124.8 311.4" fill="none" stroke="#f04848" stroke-width="0.8"/>
<path d="M58.8 341.7L60.0 341.7L61.2 341.7L62.4 341.6L63.6 341.6L64.8 341.6L66.0 341.5L67.2 341.5L68.4 341.4L69.6 341.3L70.8 341.2L72.0 341.1L73.2 341.0L74.4 340.8L75.6 340.6L76.8 340.4L78.0 340.1L79.2 339.8L80.4 339.4L81.6 339.0L82.8 338.4L84.0 337.8L85.2 337.0L86.4 336.2L87.6 335.1L88.8 333.9L90.0 332.6L91.2 331.0L92.4 329.2L93.6 327.1L94.8 324.8L96.0 322.3L97.2 319.5L98.4 316.5L99.6 313.3L100.8 309.9L102.0 306.4L103.2 302.8L104.4 299.3L105.6 295.8L106.8 292.4L108.0 289.1L109.2 286.1L110.4 283.3L111.6 280.7L112.8 278.3L114.0 276.3L115.2 274.4L116.4 272.8L117.6 271.4L118.8 270.1L120.0 269.1L121.2 268.2L122.4 267.4L123.6 266.8L124.8 266.2" fill="none" stroke="#3d7be8" stroke-width="0.8"/>
<rect x="45.5" y="259.6" width="30" height="35" fill="#fff" stroke="#bbb" stroke-width="0.6"/>
<path d="M47 264.6H64.3" stroke="#333" stroke-width="0.8"/>
<text x="66.4" y="267.3" font-size="7.8" fill="#111">T<tspan font-size="5.4" dy="1.8">1</tspan></text>
<path d="M47 276.0H64.3" stroke="#f04848" stroke-width="0.8"/>
<text x="66.4" y="278.7" font-size="7.8" fill="#111">T<tspan font-size="5.4" dy="1.8">2</tspan></text>
<path d="M47 287.5H64.3" stroke="#3d7be8" stroke-width="0.8"/>
<text x="66.4" y="290.2" font-size="7.8" fill="#111">T<tspan font-size="5.4" dy="1.8">3</tspan></text>
<text x="79.4" y="274.5" font-size="7.8" fill="#111">T<tspan font-size="5.4" dy="1.8">3</tspan><tspan dy="-1.8">&gt;T</tspan><tspan font-size="5.4" dy="1.8">2</tspan><tspan dy="-1.8">&gt;T</tspan><tspan font-size="5.4" dy="1.8">1</tspan></text>
<text x="38.3" y="307.3" font-size="7.2" fill="#111" transform="rotate(-90 38.3 307.3)">P<tspan font-size="5.4" dy="2.3">eff-sub</tspan></text>
<text x="97.3" y="367" font-size="8" fill="#111" text-anchor="middle">lg(P<tspan font-size="5.4" dy="1.5">Nb</tspan><tspan dy="-1.5">)</tspan></text>
<path d="M58.8 356.3v-2M75.5 356.3v-2M92.3 356.3v-2M109 356.3v-2M125.8 356.3v-2M42.3 341.8h2M42.3 327.6h2M42.3 313.4h2M42.3 299.2h2M42.3 285h2M42.3 270.8h2M42.3 256.6h2" stroke="#444" stroke-width="0.6" fill="none"/>
<text x="29.2" y="445.7" font-size="11.3" fill="#111" text-anchor="middle">10<tspan font-size="7.7" dy="-3.5">-4</tspan></text>
<text x="63.9" y="445.7" font-size="11.3" fill="#111" text-anchor="middle">10<tspan font-size="7.7" dy="-3.5">-3</tspan></text>
<text x="98.0" y="445.7" font-size="11.3" fill="#111" text-anchor="middle">10<tspan font-size="7.7" dy="-3.5">-2</tspan></text>
<text x="132.8" y="445.7" font-size="11.3" fill="#111" text-anchor="middle">10<tspan font-size="7.7" dy="-3.5">-1</tspan></text>
<text x="167.7" y="445.7" font-size="11.3" fill="#111" text-anchor="middle">10<tspan font-size="7.7" dy="-3.5">0</tspan></text>
<text x="200.5" y="445.7" font-size="11.3" fill="#111" text-anchor="middle">10</text>
<text x="97.3" y="457.4" font-size="11.8" fill="#111">lg(P<tspan font-size="8" dy="2.2">Nb</tspan><tspan dy="-2.2">)</tspan></text>
<text x="17.4" y="349.8" font-size="15" fill="#111" font-style="italic" transform="rotate(-90 17.4 349.8)">P<tspan font-style="normal" font-size="9.8" dy="4.1">eff-sub</tspan></text>
<rect x="240.2" y="245.9" width="183.3" height="186.2" fill="none" stroke="#6a6a6a" stroke-width="1.4"/>
<path d="M240.2 264.6h2.8M240.2 283.2h2.8M240.2 301.8h2.8M240.2 320.5h2.8M240.2 339.1h2.8M240.2 357.6h2.8M240.2 376.3h2.8M240.2 394.9h2.8M240.2 413.5h2.8M246.1 432.1v-3.0M258.8 432.1v-3.0M271.4 432.1v-3.0M284.1 432.1v-3.0M296.8 432.1v-3.0M309.4 432.1v-3.0M322.1 432.1v-3.0M334.8 432.1v-3.0M347.4 432.1v-3.0M360.1 432.1v-3.0M372.8 432.1v-3.0M385.4 432.1v-3.0M398.1 432.1v-3.0M410.7 432.1v-3.0M423.4 432.1v-3.0" stroke="#6a6a6a" stroke-width="1.1" fill="none"/>
<path d="M251.7 413.5L253.2 413.5L254.7 413.5L256.2 413.5L257.7 413.4L259.2 413.4L260.7 413.4L262.2 413.3L263.7 413.2L265.2 413.1L266.7 412.9L268.2 412.7L269.7 412.3L271.2 411.9L272.7 411.4L274.2 410.7L275.7 409.8L277.2 408.8L278.7 407.6L280.2 406.4L281.7 405.0L283.2 403.4L284.7 401.6L286.2 399.4L287.7 396.9L289.2 394.0L290.7 391.0L292.2 387.8L293.7 384.6L295.2 381.3L296.7 377.7L298.2 374.0L299.7 370.1L301.2 366.0L302.7 361.7L304.2 357.0L305.7 352.0L307.2 347.0L308.7 342.0L310.2 337.0L311.7 332.0L313.2 327.0L314.7 322.0L316.2 316.9L317.7 311.6L319.2 306.3L320.7 301.2L322.2 296.6L323.7 292.5L325.2 288.8L326.7 285.3L328.2 282.2L329.7 279.3L331.2 276.7L332.7 274.3L334.2 272.1L335.7 270.3L337.2 269.0L338.7 267.9L340.2 266.9L341.7 266.1L343.2 265.7L344.7 265.8L346.2 266.0L347.7 266.4L349.2 266.9L350.7 267.5L352.2 268.6L353.7 269.9L355.2 271.1L356.7 272.5L358.2 273.9L359.7 275.4L361.2 277.0L362.7 278.6L364.2 280.2L365.7 281.8L367.2 283.4L368.7 285.1L370.2 286.8L371.7 288.5L373.2 290.3L374.7 292.1L376.2 293.8L377.7 295.6L379.2 297.3L380.7 299.0L382.2 300.6L383.7 302.3L385.2 303.9L386.7 305.6L388.2 307.2L389.7 308.8L391.2 310.4L391.8 311.0" fill="none" stroke="#f5201a" stroke-width="1.6" stroke-linejoin="round"/>
<path d="M348 311.8L344.3 273" stroke="#111" stroke-width="1.1"/>
<path d="M343.6 266.5l-1.9 8.2l4.6 -0.45z" fill="#111"/>
<text x="322" y="320.9" font-size="10.8" fill="#111">Highest point</text>
<rect x="319.5" y="326.2" width="92.1" height="93.2" fill="#fff" stroke="#5a5a5a" stroke-width="0.8"/>
<path d="M323.0 410.3L324.3 410.3L325.6 410.3L326.9 410.2L328.2 410.1L329.5 410.1L330.8 409.9L332.1 409.7L333.4 409.4L334.7 409.0L336.0 408.4L337.3 407.7L338.6 406.9L339.9 405.8L341.2 404.8L342.5 403.9L343.8 403.0L345.1 402.4L346.4 401.8L347.7 401.4L349.0 401.2L350.3 401.3L351.6 401.5L352.9 401.8L354.2 402.3L355.5 402.8L356.8 403.3L358.1 403.9L359.4 404.4L360.7 404.9L362.0 405.4L363.3 405.8L364.6 406.2L365.9 406.6L367.2 407.0L368.5 407.3L369.8 407.6L371.1 407.8L372.4 408.0L373.7 408.1L375.0 408.2L376.3 408.4L377.6 408.5L378.9 408.6L380.2 408.7L381.5 408.7L382.8 408.8L384.1 408.9L385.4 408.9L386.7 409.0L388.0 409.0L389.3 409.0L390.6 409.1L391.9 409.1L393.2 409.1L394.5 409.2L395.8 409.2L397.1 409.2L398.4 409.2L399.7 409.2L401.0 409.3L402.3 409.3L403.6 409.3L404.9 409.3L406.2 409.3L407.1 409.3" fill="none" stroke="#333" stroke-width="0.8"/>
<path d="M323.0 410.3L324.3 410.3L325.6 410.3L326.9 410.2L328.2 410.1L329.5 410.1L330.8 409.9L332.1 409.7L333.4 409.4L334.7 409.0L336.0 408.4L337.3 407.7L338.6 406.9L339.9 405.8L341.2 404.6L342.5 403.3L343.8 401.8L345.1 400.3L346.4 398.8L347.7 397.4L349.0 395.8L350.3 393.9L351.6 391.7L352.9 389.6L354.2 387.7L355.5 386.4L356.8 385.5L358.1 384.8L359.4 384.5L360.7 384.6L362.0 384.9L363.3 385.3L364.6 385.8L365.9 386.5L367.2 387.3L368.5 388.1L369.8 388.9L371.1 389.8L372.4 390.7L373.7 391.7L375.0 392.5L376.3 393.4L377.6 394.1L378.9 394.8L380.2 395.5L381.5 396.1L382.8 396.7L384.1 397.3L385.4 397.9L386.7 398.4L388.0 398.9L389.3 399.3L390.6 399.7L391.9 400.2L393.2 400.5L394.5 400.9L395.8 401.3L397.1 401.6L398.4 402.0L399.7 402.3L401.0 402.7L402.3 403.0L403.6 403.3L404.9 403.6L406.2 403.9L407.1 404.1" fill="none" stroke="#f04848" stroke-width="0.8"/>
<path d="M323.0 410.3L324.3 410.3L325.6 410.3L326.9 410.2L328.2 410.1L329.5 410.1L330.8 409.9L332.1 409.7L333.4 409.4L334.7 409.0L336.0 408.4L337.3 407.7L338.6 406.9L339.9 405.8L341.2 404.6L342.5 403.2L343.8 401.7L345.1 400.2L346.4 398.8L347.7 397.3L349.0 395.5L350.3 393.0L351.6 389.7L352.9 386.0L354.2 382.2L355.5 378.6L356.8 375.2L358.1 371.7L359.4 368.2L360.7 364.8L362.0 361.6L363.3 358.5L364.6 355.5L365.9 352.6L367.2 349.9L368.5 347.5L369.8 345.3L371.1 343.1L372.4 341.2L373.7 339.5L375.0 338.3L376.3 337.3L377.6 336.5L378.9 336.1L380.2 336.2L381.5 336.6L382.8 337.1L384.1 337.7L385.4 338.6L386.7 339.7L388.0 340.7L389.3 341.7L390.6 342.8L391.9 343.9L393.2 345.0L394.5 346.2L395.8 347.4L397.1 348.6L398.4 349.8L399.7 351.1L401.0 352.4L402.3 353.7L403.6 355.1L404.9 356.5L406.2 358.0L407.1 359.0" fill="none" stroke="#3d7be8" stroke-width="0.8"/>
<rect x="324.3" y="330.4" width="34.4" height="31.8" fill="#fff" stroke="#ccc" stroke-width="0.6"/>
<path d="M326.1 335.6H341.8" stroke="#333" stroke-width="0.8"/>
<text x="344.2" y="338.20000000000005" font-size="7.4" fill="#111" font-style="italic">P<tspan font-style="normal" font-size="4.8" dy="1.5">Nb3</tspan></text>
<path d="M326.1 346.5H341.8" stroke="#f04848" stroke-width="0.8"/>
<text x="344.2" y="349.1" font-size="7.4" fill="#111" font-style="italic">P<tspan font-style="normal" font-size="4.8" dy="1.5">Nb2</tspan></text>
<path d="M326.1 357.2H341.8" stroke="#3d7be8" stroke-width="0.8"/>
<text x="344.2" y="359.8" font-size="7.4" fill="#111" font-style="italic">P<tspan font-style="normal" font-size="4.8" dy="1.5">Nb1</tspan></text>
<text x="360.3" y="334.4" font-size="7.4" fill="#111" font-style="italic">P<tspan font-style="normal" font-size="4.8" dy="1.5">Nb1</tspan><tspan dy="-1.5">&gt;P</tspan><tspan font-style="normal" font-size="4.8" dy="1.5">Nb2</tspan><tspan dy="-1.5">&gt;P</tspan><tspan font-style="normal" font-size="4.8" dy="1.5">Nb3</tspan></text>
<text x="365.6" y="428" font-size="7" fill="#111" text-anchor="middle" font-style="italic">T</text>
<text x="314.0" y="377.0" font-size="6.7" fill="#111" transform="rotate(-90 314.0 377.0)">lg<tspan font-style="italic">P</tspan><tspan font-size="4.8" dy="2.9">Nb</tspan></text>
<path d="M319.5 335.3h1.8M319.5 344.6h1.8M319.5 353.9h1.8M319.5 363.2h1.8M319.5 372.5h1.8M319.5 381.8h1.8M319.5 391.1h1.8M319.5 400.4h1.8M319.5 409.7h1.8M323 419.4v-2M335.1 419.4v-2M347.2 419.4v-2M359.3 419.4v-2M371.4 419.4v-2M383.5 419.4v-2M395.6 419.4v-2M407.7 419.4v-2" stroke="#444" stroke-width="0.6" fill="none"/>
<text x="246.4" y="444.5" font-size="11.4" fill="#111" text-anchor="middle">100</text>
<text x="296.2" y="444.5" font-size="11.4" fill="#111" text-anchor="middle">500</text>
<text x="360.1" y="444.5" font-size="11.4" fill="#111" text-anchor="middle">1000</text>
<text x="422.0" y="444.5" font-size="11.4" fill="#111" text-anchor="middle">1500</text>
<text x="312.8" y="455.8" font-size="12.6" fill="#111"><tspan font-style="italic">T</tspan><tspan dx="1.8">(</tspan><tspan font-size="10.2" font-family="&quot;Liberation Sans&quot;,&quot;Noto Sans CJK SC&quot;,sans-serif">℃</tspan>)</text>
<text x="233.4" y="358.4" font-size="15" fill="#111" font-style="italic" transform="rotate(-90 233.4 358.4)">P<tspan font-style="normal" font-size="9.8" dy="4.3">eff-sub</tspan></text>
<rect x="473.0" y="262.2" width="175.0" height="167.40000000000003" fill="rgb(30, 0, 255)"/>
<path d="M484.1 429.1L485.0 429.6L500.8 429.6L508.0 427.9L534.5 420.4L648.0 386.8L648.0 262.2L476.1 262.2L476.1 372.0L476.8 411.6L477.2 414.6L477.8 418.1L479.4 423.1L480.5 425.3L481.5 426.7L482.5 427.8L484.0 429.0Z" fill="rgb(30,2,255)"/>
<path d="M488.3 419.1L492.0 419.4L497.0 418.9L504.0 417.5L512.5 415.2L538.5 407.7L648.0 375.3L648.0 262.2L479.2 262.2L479.3 370.5L479.6 383.5L480.5 406.7L480.9 411.1L481.6 413.1L482.5 415.0L483.5 416.3L485.0 417.7L486.5 418.5L488.0 419.0Z" fill="rgb(30,4,255)"/>
<path d="M491.8 412.1L495.5 412.1L500.5 411.4L507.0 410.0L515.5 407.8L543.0 399.8L648.0 368.7L648.0 262.2L482.4 262.2L482.4 354.4L482.6 371.5L483.0 381.6L484.8 402.0L485.3 406.0L485.8 408.5L486.2 409.6L487.5 410.7L489.5 411.6L491.5 412.0Z" fill="rgb(30,6,255)"/>
<path d="M495.5 406.5L498.5 406.6L504.0 405.8L510.5 404.3L520.0 401.8L648.0 364.1L648.0 262.2L485.6 262.2L485.7 347.9L485.9 364.9L486.3 375.0L486.8 380.5L487.4 385.0L490.5 398.7L491.5 401.8L492.5 403.9L493.7 405.5L495.0 406.4Z" fill="rgb(30,7,255)"/>
<path d="M505.9 397.5L509.5 397.8L514.5 397.4L521.0 396.1L529.7 394.0L562.3 385.0L648.0 360.5L648.0 262.2L488.8 262.2L489.0 347.9L489.4 364.9L490.1 374.5L490.8 378.5L491.7 382.0L492.9 385.0L494.3 387.5L497.5 392.1L499.7 394.5L501.0 395.6L502.5 396.4L505.5 397.5Z" fill="rgb(30,9,255)"/>
<path d="M507.8 386.0L512.5 386.3L518.5 386.0L525.0 385.2L534.5 383.4L569.0 375.8L648.0 357.5L648.0 262.2L492.1 262.2L492.3 343.9L492.8 359.4L493.5 369.0L494.1 373.0L494.9 376.0L496.0 378.6L497.5 381.0L499.5 383.0L501.5 384.3L504.0 385.3L507.5 386.0Z" fill="rgb(31,13,255)"/>
<path d="M508.7 380.0L513.0 380.3L518.0 380.1L525.0 379.2L534.0 377.7L567.5 371.2L648.0 355.0L648.0 262.2L495.3 262.2L495.6 340.4L496.0 352.9L496.7 362.9L497.3 367.0L498.0 370.2L499.0 373.0L500.1 375.0L501.5 376.6L503.5 378.2L506.0 379.3L508.5 379.9Z" fill="rgb(34,27,255)"/>
<path d="M512.5 375.5L516.5 375.7L522.0 375.4L528.5 374.6L537.5 373.2L570.5 367.3L648.0 352.7L648.0 262.2L498.4 262.2L498.8 337.9L499.1 348.9L500.0 358.4L500.6 362.4L501.4 365.9L502.5 369.0L503.7 371.0L505.0 372.5L507.2 374.0L509.5 374.9L512.5 375.5Z" fill="rgb(38,41,255)"/>
<path d="M515.9 371.5L520.0 371.7L525.5 371.4L532.5 370.6L541.5 369.2L574.0 363.7L648.0 350.6L648.0 262.2L501.4 262.2L501.8 334.4L502.2 345.4L503.0 353.9L503.7 358.4L504.6 361.9L505.8 364.9L507.0 367.0L508.5 368.6L510.5 370.0L513.0 370.9L515.5 371.4Z" fill="rgb(41,55,255)"/>
<path d="M517.6 367.5L521.5 367.9L527.0 367.8L533.5 367.3L542.5 366.1L573.5 361.2L648.0 348.6L648.0 262.2L504.1 262.2L504.7 328.9L505.0 340.4L505.7 348.4L506.4 352.9L507.2 356.4L508.2 359.4L509.5 362.1L510.9 363.9L512.6 365.4L515.0 366.7L517.5 367.4Z" fill="rgb(45,70,255)"/>
<path d="M521.7 363.9L526.0 364.3L531.5 364.2L538.5 363.6L548.0 362.4L577.0 358.1L648.0 346.7L648.0 262.2L506.8 262.2L506.9 283.3L507.4 325.4L507.9 338.4L508.6 345.9L509.3 349.9L510.4 353.9L511.5 356.6L512.9 358.9L514.5 360.7L516.5 362.2L519.0 363.3L521.5 363.9Z" fill="rgb(48,84,255)"/>
<path d="M525.1 360.4L529.5 360.8L535.0 360.8L542.5 360.2L552.5 359.0L580.0 355.2L648.0 344.9L648.0 262.2L509.3 262.2L509.4 282.2L510.0 320.8L510.6 335.4L511.4 343.4L512.1 346.9L513.2 350.4L514.5 353.4L516.0 355.6L517.8 357.4L520.0 358.9L522.5 359.8L525.0 360.4Z" fill="rgb(52,98,255)"/>
<path d="M531.6 357.4L536.5 357.5L543.0 357.2L563.0 355.1L621.5 347.1L648.0 343.2L648.0 262.2L511.7 262.2L511.8 281.7L512.6 319.3L513.3 334.4L513.8 338.9L514.4 342.4L515.3 345.9L516.5 348.8L518.1 351.4L520.0 353.5L522.5 355.2L525.0 356.3L528.0 357.0L531.5 357.4Z" fill="rgb(56,112,255)"/>
<path d="M531.9 353.9L537.0 354.3L543.0 354.2L551.5 353.7L562.5 352.6L579.5 350.6L621.5 345.3L648.0 341.6L648.0 262.2L514.0 262.2L514.1 280.7L515.0 314.3L515.9 330.4L516.8 338.9L517.5 341.9L518.6 344.9L520.0 347.4L521.5 349.2L523.5 350.9L526.0 352.3L528.5 353.2L531.5 353.9Z" fill="rgb(59,127,255)"/>
<path d="M535.0 350.9L540.0 351.3L546.5 351.2L555.5 350.7L567.0 349.7L623.5 343.2L648.0 340.1L648.0 262.2L516.2 262.2L516.4 280.7L517.5 312.3L518.4 327.9L518.9 332.9L519.6 336.9L520.3 339.9L521.3 342.4L522.5 344.4L524.2 346.4L526.0 347.9L528.5 349.2L531.5 350.2L534.5 350.8Z" fill="rgb(64,138,254)"/>
<path d="M541.7 348.4L547.0 348.5L554.0 348.3L572.5 347.0L625.5 341.3L648.0 338.5L648.0 262.2L518.3 262.2L518.6 280.7L519.9 312.3L521.2 327.4L521.8 332.4L522.7 336.4L523.7 339.4L525.0 341.7L526.5 343.5L528.5 345.1L531.0 346.4L534.0 347.4L537.5 348.0L541.5 348.4Z" fill="rgb(69,149,253)"/>
<path d="M548.3 345.9L561.0 345.6L577.0 344.4L626.5 339.6L648.0 337.1L648.0 262.2L520.4 262.2L520.7 280.7L522.3 311.3L523.9 326.4L524.7 331.4L525.7 334.9L526.6 337.4L528.2 339.9L530.2 341.9L532.5 343.3L535.5 344.5L539.0 345.3L543.0 345.7L548.0 345.9Z" fill="rgb(74,160,253)"/>
<path d="M548.2 343.4L560.5 343.4L576.5 342.5L626.5 338.1L648.0 335.7L648.0 262.2L522.4 262.2L522.8 280.7L524.6 309.3L525.3 315.8L526.2 322.8L527.1 327.9L528.2 331.9L529.4 334.9L530.5 336.9L532.3 338.9L534.4 340.4L537.0 341.6L540.0 342.4L543.5 343.0L548.0 343.4Z" fill="rgb(79,171,252)"/>
<path d="M548.7 340.9L554.0 341.2L561.0 341.2L576.5 340.6L626.5 336.7L648.0 334.4L648.0 262.2L524.3 262.2L524.4 272.2L524.8 280.2L526.8 306.3L527.5 312.8L528.4 318.8L529.4 323.8L530.5 328.1L531.7 331.4L533.0 333.8L534.6 335.9L536.4 337.4L538.5 338.6L541.5 339.7L544.7 340.4L548.5 340.9Z" fill="rgb(85,181,251)"/>
<path d="M555.3 338.9L566.5 339.1L580.0 338.6L627.0 335.2L648.0 333.1L648.0 262.2L526.2 262.2L526.3 272.2L526.7 280.2L529.1 305.3L530.0 311.8L530.9 316.8L532.2 322.3L533.5 326.4L535.0 329.7L536.5 332.1L538.5 334.2L540.5 335.6L543.3 336.9L546.5 337.8L550.5 338.4L555.0 338.9Z" fill="rgb(90,192,250)"/>
<path d="M561.1 336.9L571.5 337.1L584.0 336.6L627.0 333.9L648.0 331.9L648.0 262.2L528.0 262.2L528.2 272.2L528.7 280.2L531.4 303.8L532.3 309.8L533.4 314.8L534.9 320.3L536.5 324.3L538.0 327.4L540.0 330.1L542.0 332.0L544.5 333.6L547.5 334.8L551.0 335.7L555.5 336.4L561.0 336.9Z" fill="rgb(95,203,249)"/>
<path d="M565.6 334.9L572.5 335.1L580.5 334.9L621.5 332.9L634.0 332.1L648.0 330.7L648.0 262.2L529.8 262.2L530.0 271.7L530.5 279.7L531.2 285.8L533.4 300.8L534.5 307.2L535.7 312.3L537.1 316.8L539.0 321.3L541.0 324.8L543.0 327.3L545.2 329.4L548.0 331.1L551.0 332.4L555.0 333.5L560.0 334.4L565.5 334.9Z" fill="rgb(100,214,248)"/>
<path d="M569.3 332.9L575.5 333.1L583.0 333.0L622.5 331.6L634.5 330.9L648.0 329.5L648.0 262.2L531.6 262.2L531.7 269.7L532.0 275.7L532.6 281.2L533.4 286.8L535.8 300.3L537.3 307.3L539.0 312.9L541.2 317.8L543.3 321.3L545.5 324.1L548.0 326.4L551.0 328.4L554.5 330.0L558.9 331.4L563.5 332.3L569.0 332.9Z" fill="rgb(105,225,247)"/>
<path d="M572.9 330.9L578.5 331.1L585.5 331.2L623.0 330.3L635.0 329.7L648.0 328.4L648.0 262.2L533.3 262.2L533.5 269.2L533.8 275.2L534.4 280.7L535.3 285.8L537.9 298.3L539.5 304.8L541.3 310.3L543.5 314.8L546.0 318.7L548.5 321.6L551.5 324.2L554.5 326.1L558.3 327.9L562.5 329.2L567.5 330.2L572.5 330.8Z" fill="rgb(111,235,247)"/>
<path d="M576.6 328.9L589.0 329.3L623.5 329.1L635.0 328.6L648.0 327.4L648.0 262.2L535.1 262.2L535.2 268.7L535.6 274.7L536.2 279.7L537.1 284.8L540.0 296.5L542.0 303.3L544.0 308.7L546.2 312.8L548.5 316.1L551.5 319.3L554.6 321.8L558.0 324.0L562.0 325.8L566.5 327.2L571.0 328.2L576.5 328.9Z" fill="rgb(116,246,246)"/>
<path d="M613.9 327.9L623.5 327.9L631.0 327.7L639.0 327.2L648.0 326.3L648.0 262.2L536.8 262.2L537.1 271.7L538.1 279.7L539.5 286.1L543.0 297.7L545.5 304.5L548.2 309.8L551.1 313.8L555.0 317.7L559.0 320.6L563.5 323.0L568.5 324.8L574.0 326.1L579.5 326.8L586.5 327.3L613.5 327.8Z" fill="rgb(119,255,243)"/>
<path d="M610.3 326.4L621.5 326.7L629.5 326.7L638.0 326.3L648.0 325.3L648.0 262.2L538.5 262.2L538.7 269.7L539.4 276.2L540.4 281.7L542.0 287.2L546.0 298.3L548.9 304.8L550.7 307.8L552.4 310.3L554.1 312.3L556.2 314.3L560.0 317.4L564.5 320.1L569.5 322.2L574.5 323.6L580.0 324.5L586.5 325.2L610.0 326.3Z" fill="rgb(116,254,234)"/>
<path d="M617.4 325.4L625.0 325.6L632.0 325.6L639.5 325.2L648.0 324.4L648.0 262.2L540.2 262.2L540.5 269.7L541.1 275.7L542.3 281.2L544.0 286.7L548.4 297.3L551.8 303.8L553.5 306.5L555.5 309.2L557.5 311.3L559.7 313.3L563.5 316.0L568.0 318.5L572.7 320.3L578.0 321.7L583.5 322.7L590.0 323.4L617.0 325.3Z" fill="rgb(112,254,225)"/>
<path d="M621.4 324.3L627.5 324.6L633.5 324.5L640.5 324.1L648.0 323.4L648.0 262.2L541.9 262.2L542.2 269.2L542.9 275.2L544.1 280.7L545.8 285.8L550.5 295.7L554.2 302.3L556.0 305.0L558.0 307.5L560.2 309.8L562.5 311.8L566.1 314.3L570.5 316.6L575.0 318.4L580.5 319.8L586.0 320.8L593.5 321.7L621.0 324.3Z" fill="rgb(108,253,216)"/>
<path d="M624.0 323.3L629.5 323.5L635.0 323.5L648.0 322.5L648.0 262.2L543.6 262.2L543.9 268.7L544.6 274.7L545.8 279.7L547.6 284.8L552.5 294.3L556.8 301.3L560.7 306.3L562.7 308.3L565.0 310.3L568.5 312.7L572.5 314.7L577.0 316.4L582.5 317.9L589.0 319.1L597.0 320.3L614.5 322.5L623.5 323.3Z" fill="rgb(104,253,207)"/>
<path d="M625.6 322.3L630.5 322.5L636.0 322.5L648.0 321.6L648.0 262.2L545.4 262.2L545.6 268.7L546.3 274.2L547.5 279.2L549.5 284.3L554.3 292.8L559.0 300.0L563.0 304.9L565.0 306.8L567.5 308.9L571.0 311.2L574.5 312.9L579.0 314.6L584.5 316.0L593.5 317.8L610.0 320.4L619.0 321.7L625.5 322.3Z" fill="rgb(100,253,198)"/>
<path d="M626.7 321.3L631.5 321.6L636.5 321.5L648.0 320.7L648.0 262.2L547.1 262.2L547.3 268.7L548.1 274.2L549.5 279.2L551.4 283.8L553.1 286.8L556.0 291.4L561.2 298.8L565.5 303.8L569.5 307.3L573.0 309.5L576.5 311.2L580.5 312.7L586.0 314.2L595.0 316.2L613.0 319.5L620.5 320.7L626.5 321.3Z" fill="rgb(97,252,189)"/>
<path d="M627.2 320.3L631.5 320.6L636.5 320.6L648.0 319.9L648.0 262.2L548.8 262.2L549.0 268.2L549.8 273.7L551.0 278.2L553.0 282.8L556.0 287.8L562.5 296.8L567.0 301.8L571.0 305.3L574.0 307.3L577.8 309.3L582.0 310.9L586.7 312.3L595.5 314.4L614.5 318.4L621.0 319.6L627.0 320.3Z" fill="rgb(93,252,180)"/>
<path d="M627.5 319.3L632.0 319.6L637.0 319.7L648.0 319.0L648.0 262.2L550.5 262.2L550.7 268.2L551.5 273.2L552.7 277.7L554.7 282.2L557.5 286.8L564.0 295.2L568.5 300.1L572.5 303.5L576.0 305.8L579.5 307.6L583.5 309.2L588.5 310.8L595.5 312.6L615.5 317.3L621.5 318.5L627.0 319.3Z" fill="rgb(89,251,171)"/>
<path d="M627.6 318.3L632.0 318.7L637.0 318.8L648.0 318.2L648.0 262.2L552.2 262.2L552.5 268.2L553.3 273.2L554.6 277.7L556.5 281.7L559.5 286.5L565.0 293.2L569.5 298.0L573.5 301.4L577.0 303.8L580.5 305.6L585.0 307.5L590.0 309.2L597.3 311.3L616.0 316.2L622.0 317.5L627.5 318.3Z" fill="rgb(85,251,162)"/>
<path d="M633.5 317.8L640.5 317.9L648.0 317.4L648.0 262.2L553.8 262.2L554.2 268.2L555.0 273.2L556.4 277.7L558.4 281.7L561.5 286.2L566.5 292.0L571.0 296.5L575.5 300.1L579.5 302.6L584.0 304.9L589.5 307.1L596.0 309.2L613.0 314.1L620.0 315.9L626.5 317.2L633.0 317.8Z" fill="rgb(81,250,153)"/>
<path d="M632.0 316.8L639.5 317.0L648.0 316.6L648.0 262.2L555.5 262.2L555.8 267.7L556.5 272.2L557.9 276.7L559.8 280.7L562.5 284.8L566.5 289.4L571.5 294.3L576.0 297.9L580.0 300.5L585.0 303.1L590.5 305.4L597.3 307.8L611.4 312.3L619.5 314.7L626.0 316.1L632.0 316.8Z" fill="rgb(78,250,143)"/>
<path d="M631.2 315.8L639.0 316.2L648.0 315.8L648.0 262.2L557.2 262.2L557.5 267.7L558.2 272.2L559.5 276.2L561.4 280.2L563.7 283.8L566.8 287.3L571.5 291.8L576.0 295.4L580.0 298.1L585.0 300.8L590.5 303.3L597.5 306.1L609.4 310.3L619.0 313.4L625.0 314.9L631.0 315.8Z" fill="rgb(75,249,131)"/>
<path d="M637.9 315.3L648.0 315.0L648.0 262.2L558.8 262.2L559.1 267.2L559.8 271.7L561.0 275.7L563.0 279.8L565.4 283.3L568.5 286.8L573.0 290.7L578.0 294.5L584.0 298.1L591.5 301.7L601.3 305.8L614.0 310.6L620.5 312.7L626.0 314.1L631.5 314.9L637.5 315.3Z" fill="rgb(72,249,120)"/>
<path d="M634.6 314.3L641.0 314.5L648.0 314.2L648.0 262.2L560.4 262.2L560.7 266.7L561.4 271.2L562.6 275.2L564.2 278.7L566.2 281.7L569.0 285.0L572.5 288.2L576.5 291.2L582.5 295.1L589.5 298.8L599.0 303.1L611.4 308.3L618.1 310.8L624.0 312.6L629.0 313.7L634.5 314.3Z" fill="rgb(70,248,108)"/>
<path d="M633.3 313.3L640.0 313.7L648.0 313.4L648.0 262.2L562.1 262.2L562.3 266.2L562.8 270.2L563.8 273.7L565.3 277.2L567.1 280.2L569.5 283.3L572.1 285.8L575.5 288.5L581.0 292.1L588.0 296.0L597.9 300.8L611.1 306.8L617.5 309.4L623.0 311.3L628.0 312.5L633.0 313.3Z" fill="rgb(67,248,97)"/>
<path d="M639.0 312.8L648.0 312.6L648.0 262.2L563.7 262.2L563.9 266.2L564.5 270.2L565.5 273.7L566.8 276.7L568.7 279.7L571.0 282.6L573.9 285.3L577.0 287.6L582.5 291.0L590.0 295.1L608.8 304.3L617.5 308.2L623.0 310.2L628.0 311.6L633.0 312.4L638.5 312.8Z" fill="rgb(64,247,86)"/>
<path d="M636.0 311.8L641.5 312.0L648.0 311.8L648.0 262.2L565.4 262.2L565.6 266.2L566.1 269.7L567.1 273.2L568.4 276.2L569.9 278.7L572.0 281.3L574.5 283.8L577.5 286.1L581.5 288.6L587.5 291.9L610.7 303.8L617.5 307.0L622.5 309.0L626.8 310.3L631.5 311.3L636.0 311.8Z" fill="rgb(61,247,74)"/>
<path d="M634.6 310.8L641.0 311.2L648.0 311.0L648.0 262.2L567.1 262.2L567.2 265.7L567.7 269.2L568.5 272.2L569.8 275.2L571.2 277.7L573.2 280.2L575.5 282.5L578.0 284.5L581.0 286.5L585.5 289.1L618.0 306.0L622.2 307.8L626.5 309.2L630.5 310.2L634.5 310.8Z" fill="rgb(58,246,63)"/>
<path d="M639.4 310.3L648.0 310.2L648.0 262.2L568.8 262.2L569.0 265.7L569.5 269.2L570.4 272.2L571.5 274.8L573.0 277.3L575.0 279.8L577.5 282.2L580.3 284.3L585.5 287.4L599.8 294.8L614.5 303.0L620.5 306.0L625.0 307.8L629.5 309.0L634.0 309.9L639.0 310.3Z" fill="rgb(55,246,51)"/>
<path d="M637.1 309.3L642.5 309.5L648.0 309.4L648.0 262.2L570.6 262.2L570.8 265.7L571.3 268.7L572.1 271.7L573.2 274.2L574.7 276.7L576.3 278.7L578.4 280.7L581.0 282.8L586.0 285.9L601.0 293.8L615.7 302.3L620.5 304.8L624.5 306.5L628.5 307.8L632.5 308.7L637.0 309.3Z" fill="rgb(53,245,40)"/>
<path d="M635.9 308.3L641.5 308.7L648.0 308.6L648.0 262.2L572.4 262.2L572.6 265.2L573.1 268.2L573.7 270.7L574.7 273.2L576.2 275.7L577.8 277.7L579.7 279.7L582.2 281.7L587.0 284.8L602.5 293.0L616.3 301.3L620.9 303.8L624.5 305.4L628.0 306.7L631.5 307.6L635.5 308.3Z" fill="rgb(50,245,30)"/>
<path d="M640.7 307.8L648.0 307.8L648.0 262.2L574.4 262.2L574.6 265.2L575.1 268.2L575.8 270.7L576.9 273.2L578.5 275.7L580.2 277.7L582.3 279.7L585.0 281.7L589.9 284.8L603.8 292.3L617.7 300.8L623.4 303.8L627.5 305.5L631.5 306.6L636.0 307.4L640.5 307.8Z" fill="rgb(51,245,29)"/>
<path d="M638.8 306.8L643.0 307.0L648.0 306.9L648.0 262.2L576.5 262.2L576.6 265.2L577.1 267.7L577.8 270.2L578.9 272.7L580.2 274.7L581.8 276.7L583.8 278.7L586.4 280.7L591.9 284.3L605.5 291.8L618.2 299.8L623.0 302.5L627.0 304.2L630.5 305.4L634.5 306.3L638.5 306.8Z" fill="rgb(51,245,27)"/>
<path d="M637.8 305.8L642.5 306.1L648.0 306.1L648.0 262.2L578.6 262.2L578.8 265.2L579.3 267.7L580.1 270.2L581.0 272.2L582.3 274.2L583.9 276.2L585.9 278.2L588.5 280.2L593.9 283.8L606.5 290.9L618.5 298.6L623.1 301.3L626.5 302.9L630.0 304.2L633.5 305.1L637.5 305.8Z" fill="rgb(52,245,26)"/>
<path d="M637.3 304.8L642.5 305.2L648.0 305.2L648.0 262.2L580.9 262.2L581.1 264.7L581.5 267.2L582.3 269.7L583.2 271.7L584.4 273.7L586.0 275.7L588.1 277.7L590.5 279.7L595.0 282.7L607.0 289.9L619.2 297.8L623.5 300.3L627.0 302.0L630.0 303.2L633.5 304.1L637.0 304.8Z" fill="rgb(52,245,25)"/>
<path d="M642.0 304.3L648.0 304.3L648.0 262.2L583.3 262.2L583.5 265.2L584.1 267.7L585.0 270.2L586.0 272.2L587.4 274.2L589.1 276.2L591.3 278.2L593.9 280.2L598.4 283.3L609.5 290.1L620.4 297.3L625.5 300.2L629.2 301.8L633.0 303.0L637.0 303.8L641.5 304.3Z" fill="rgb(53,245,24)"/>
<path d="M640.9 303.3L648.0 303.4L648.0 262.2L585.8 262.2L585.9 264.7L586.4 267.2L587.3 269.7L588.3 271.7L589.6 273.7L591.3 275.7L593.4 277.7L595.8 279.7L600.1 282.7L610.3 289.3L620.0 295.8L625.0 298.8L629.0 300.6L632.5 301.8L636.5 302.8L640.5 303.3Z" fill="rgb(54,245,23)"/>
<path d="M640.3 302.3L644.0 302.5L648.0 302.5L648.0 262.2L588.3 262.2L588.4 264.7L588.9 267.2L589.8 269.7L590.8 271.7L592.1 273.7L593.8 275.7L598.3 279.7L603.2 283.3L619.5 294.2L625.3 297.8L629.0 299.5L632.5 300.8L636.0 301.7L640.0 302.3Z" fill="rgb(54,245,22)"/>
<path d="M640.0 301.3L644.0 301.6L648.0 301.6L648.0 262.2L590.8 262.2L590.9 264.7L591.4 267.2L592.3 269.7L593.3 271.7L594.6 273.7L596.3 275.7L598.3 277.7L601.3 280.2L606.7 284.3L619.0 292.7L625.5 296.7L629.0 298.4L632.5 299.7L636.0 300.7L639.5 301.2Z" fill="rgb(55,245,20)"/>
<path d="M639.8 300.3L644.0 300.6L648.0 300.7L648.0 262.2L593.2 262.2L593.3 264.7L593.8 267.2L594.7 269.7L595.7 271.7L597.0 273.7L598.7 275.7L600.6 277.7L603.4 280.2L608.7 284.3L617.0 290.1L622.0 293.5L625.5 295.6L629.0 297.3L632.5 298.7L636.0 299.6L639.5 300.3Z" fill="rgb(61,245,21)"/>
<path d="M639.7 299.3L643.5 299.7L648.0 299.7L648.0 262.2L595.5 262.2L595.7 264.7L596.2 267.2L597.0 269.7L598.0 271.7L599.7 274.2L601.3 276.2L606.1 280.7L610.5 284.3L617.0 288.9L622.0 292.3L626.0 294.7L629.5 296.5L632.5 297.6L636.0 298.6L639.5 299.3Z" fill="rgb(69,245,21)"/>
<path d="M639.6 298.3L643.5 298.7L648.0 298.8L648.0 262.2L597.8 262.2L598.0 264.7L598.4 267.2L599.3 269.7L600.2 271.7L601.8 274.2L603.4 276.2L608.0 280.7L612.3 284.3L617.0 287.8L622.0 291.2L626.0 293.6L629.5 295.4L632.5 296.6L636.0 297.6L639.5 298.3Z" fill="rgb(77,245,22)"/>
<path d="M644.7 297.8L648.0 297.8L648.0 262.2L599.9 262.2L600.2 265.2L600.7 267.7L601.8 270.7L603.1 273.2L604.9 275.7L607.1 278.2L609.7 280.7L613.3 283.8L617.5 286.9L622.5 290.4L626.0 292.5L629.5 294.3L633.0 295.7L636.5 296.7L640.5 297.4L644.5 297.8Z" fill="rgb(85,245,23)"/>
<path d="M643.9 296.8L648.0 296.9L648.0 262.2L602.0 262.2L602.2 265.2L602.7 267.7L603.5 270.2L604.7 272.7L606.4 275.2L608.4 277.7L610.9 280.2L614.3 283.3L618.1 286.3L622.5 289.3L626.0 291.5L629.5 293.3L632.5 294.5L636.0 295.6L639.5 296.3L643.5 296.8Z" fill="rgb(94,245,24)"/>
<path d="M643.2 295.8L648.0 295.9L648.0 262.2L603.8 262.2L604.1 265.2L604.5 267.7L605.4 270.2L606.5 272.7L608.1 275.2L610.1 277.7L612.5 280.2L615.2 282.7L619.0 285.8L622.5 288.2L626.0 290.4L629.5 292.2L632.5 293.5L636.0 294.6L639.5 295.3L643.0 295.8Z" fill="rgb(102,245,25)"/>
<path d="M642.6 294.8L648.0 295.0L648.0 262.2L605.6 262.2L605.8 265.2L606.3 267.7L607.1 270.2L608.2 272.7L609.8 275.2L611.3 277.2L613.5 279.7L616.2 282.2L619.2 284.8L622.6 287.3L626.0 289.4L629.5 291.2L632.5 292.5L635.5 293.5L639.0 294.3L642.5 294.8Z" fill="rgb(110,245,26)"/>
<path d="M641.9 293.8L648.0 294.1L648.0 262.2L607.3 262.2L607.4 264.7L607.8 267.2L608.5 269.7L609.6 272.2L611.0 274.7L612.8 277.2L617.0 281.7L622.7 286.3L626.0 288.4L629.0 290.0L632.0 291.3L635.0 292.4L638.0 293.1L641.5 293.7Z" fill="rgb(118,245,27)"/>
<path d="M641.3 292.8L648.0 293.2L648.0 262.2L608.9 262.2L609.0 264.7L609.4 267.2L610.1 269.7L611.1 272.2L612.5 274.7L613.8 276.7L615.9 279.2L617.9 281.2L623.0 285.4L626.0 287.4L629.0 289.0L632.0 290.4L635.0 291.4L641.0 292.7Z" fill="rgb(126,245,28)"/>
<path d="M646.0 292.3L648.0 292.3L648.0 262.2L610.4 262.2L610.5 265.2L611.1 268.2L611.9 270.7L613.0 273.2L614.5 275.7L616.4 278.2L618.8 280.7L621.0 282.7L623.6 284.8L626.5 286.7L629.5 288.3L632.5 289.6L635.5 290.6L639.0 291.5L642.5 292.0L646.0 292.3Z" fill="rgb(135,245,28)"/>
<path d="M643.9 291.3L648.0 291.4L648.0 262.2L611.8 262.2L611.9 264.7L612.3 267.2L612.9 269.7L613.9 272.2L615.2 274.7L616.6 276.7L618.6 279.2L620.6 281.2L623.0 283.3L625.5 285.1L628.0 286.6L631.0 288.1L634.0 289.3L637.0 290.1L640.0 290.8L643.5 291.2Z" fill="rgb(143,245,29)"/>
<path d="M642.5 290.3L648.0 290.6L648.0 262.2L613.1 262.2L613.2 264.7L613.6 267.2L615.0 271.7L616.2 274.2L617.5 276.2L620.9 280.2L623.1 282.2L625.5 284.0L630.5 286.9L636.0 289.0L642.0 290.2Z" fill="rgb(151,245,30)"/>
<path d="M641.4 289.3L644.5 289.6L648.0 289.7L648.0 262.2L614.4 262.2L614.5 264.7L614.9 267.2L616.2 271.7L618.4 275.7L619.9 277.7L621.7 279.7L625.9 283.3L630.5 286.0L635.5 288.0L641.0 289.2Z" fill="rgb(158,245,33)"/>
<path d="M644.4 288.8L648.0 288.9L648.0 262.2L615.6 262.2L615.7 264.7L616.1 267.2L616.7 269.7L617.7 272.2L620.0 276.2L621.6 278.2L623.5 280.2L627.5 283.3L630.0 284.8L632.5 286.0L635.0 286.9L638.0 287.8L644.0 288.7Z" fill="rgb(165,245,35)"/>
<path d="M642.6 287.8L648.0 288.1L648.0 262.2L616.8 262.2L617.3 267.2L617.9 269.7L618.6 271.7L620.8 275.7L623.8 279.2L627.5 282.3L632.0 284.9L637.0 286.7L642.5 287.8Z" fill="rgb(172,245,37)"/>
<path d="M646.9 287.3L648.0 287.3L648.0 262.2L617.9 262.2L618.4 267.2L619.0 269.7L619.8 271.7L621.0 274.2L622.4 276.2L625.6 279.7L627.5 281.3L630.0 282.9L632.5 284.2L635.0 285.2L640.5 286.6L646.5 287.2Z" fill="rgb(179,245,40)"/>
<path d="M643.6 286.3L648.0 286.5L648.0 262.2L619.0 262.2L619.4 266.7L620.0 269.2L620.7 271.2L621.6 273.2L622.8 275.2L625.5 278.5L629.0 281.3L631.0 282.5L633.5 283.8L638.0 285.3L643.5 286.2Z" fill="rgb(186,245,42)"/>
<path d="M642.0 285.3L648.0 285.7L648.0 262.2L620.1 262.2L620.5 266.7L621.6 270.7L623.3 274.2L625.6 277.2L628.9 280.2L632.5 282.4L637.0 284.2L641.5 285.2Z" fill="rgb(194,245,45)"/>
<path d="M644.5 284.8L648.0 284.9L648.0 262.2L621.2 262.2L621.6 266.7L622.7 270.7L624.5 274.3L625.9 276.2L627.3 277.7L630.5 280.3L634.5 282.4L639.0 283.9L644.0 284.7Z" fill="rgb(201,245,47)"/>
<path d="M642.6 283.8L648.0 284.1L648.0 262.2L622.2 262.2L622.5 266.2L623.5 270.2L625.2 273.7L627.6 276.7L630.5 279.3L634.0 281.3L638.0 282.8L642.5 283.7Z" fill="rgb(208,245,49)"/>
<path d="M645.3 283.3L648.0 283.3L648.0 262.2L623.2 262.2L623.5 266.2L624.6 270.2L626.4 273.7L628.8 276.7L632.0 279.3L635.9 281.2L640.0 282.5L645.0 283.2Z" fill="rgb(215,245,52)"/>
<path d="M643.1 282.2L648.0 282.6L648.0 262.2L624.2 262.2L624.5 266.2L625.4 269.7L627.0 273.0L629.1 275.7L632.0 278.2L635.0 279.9L639.0 281.4L643.0 282.2Z" fill="rgb(222,245,54)"/>
<path d="M646.1 281.7L648.0 281.8L648.0 262.2L625.2 262.2L625.5 266.2L626.5 269.7L628.3 273.2L630.5 275.9L633.5 278.2L637.0 279.9L641.5 281.2L646.0 281.7Z" fill="rgb(229,245,56)"/>
<path d="M643.7 280.7L648.0 281.0L648.0 262.2L626.1 262.2L626.4 265.7L627.3 269.2L628.8 272.2L630.7 274.7L633.0 276.8L636.0 278.6L639.5 279.9L643.5 280.7Z" fill="rgb(236,245,59)"/>
<path d="M647.7 280.2L648.0 280.2L648.0 262.2L627.1 262.2L627.5 266.2L628.5 269.7L630.2 272.7L632.5 275.2L635.5 277.4L639.0 278.9L643.0 279.9L647.5 280.2Z" fill="rgb(240,240,59)"/>
<path d="M644.3 279.2L648.0 279.5L648.0 262.2L628.1 262.2L628.4 265.7L629.2 268.7L630.5 271.4L632.2 273.7L634.5 275.7L637.1 277.2L640.5 278.5L644.0 279.2Z" fill="rgb(240,231,57)"/>
<path d="M643.1 278.2L648.0 278.7L648.0 262.2L629.1 262.2L629.3 265.2L630.0 268.2L631.2 270.7L632.6 272.7L634.7 274.7L637.0 276.2L640.0 277.5L643.0 278.2Z" fill="rgb(240,221,55)"/>
<path d="M645.2 277.7L648.0 277.9L648.0 262.2L630.0 262.2L630.3 265.2L631.1 268.2L632.3 270.7L634.0 272.8L636.0 274.5L638.5 276.0L641.5 277.0L645.0 277.7Z" fill="rgb(240,212,53)"/>
<path d="M643.9 276.7L648.0 277.1L648.0 262.2L631.0 262.2L631.2 264.7L631.8 267.2L632.9 269.7L634.3 271.7L636.0 273.4L638.0 274.7L640.5 275.9L643.5 276.7Z" fill="rgb(240,202,51)"/>
<path d="M646.8 276.2L648.0 276.3L648.0 262.2L632.0 262.2L632.3 265.2L633.0 267.7L634.3 270.2L636.0 272.2L638.1 273.7L640.5 274.9L643.5 275.8L646.5 276.2Z" fill="rgb(240,193,49)"/>
<path d="M645.1 275.2L648.0 275.4L648.0 262.2L633.0 262.2L633.2 264.7L633.7 266.7L634.6 268.7L636.0 270.8L638.0 272.6L640.0 273.7L642.5 274.7L645.0 275.2Z" fill="rgb(240,183,47)"/>
<path d="M644.3 274.2L648.0 274.6L648.0 262.2L634.0 262.2L634.1 264.2L634.6 266.2L635.4 268.2L636.5 269.8L637.8 271.2L639.5 272.4L641.5 273.4L644.0 274.2Z" fill="rgb(240,174,45)"/>
<path d="M647.2 273.7L648.0 273.7L648.0 262.2L635.0 262.2L635.2 264.7L635.8 266.7L636.9 268.7L638.2 270.2L640.0 271.6L642.0 272.6L644.5 273.4L647.0 273.7Z" fill="rgb(240,164,42)"/>
<path d="M645.8 272.7L648.0 272.9L648.0 262.2L636.0 262.2L636.2 264.2L636.8 266.2L637.5 267.7L638.6 269.2L640.0 270.5L641.5 271.4L643.5 272.2L645.5 272.7Z" fill="rgb(240,155,40)"/>
<path d="M645.3 271.7L648.0 272.0L648.0 262.2L637.0 262.2L637.5 265.2L638.1 266.7L639.1 268.2L640.1 269.2L641.5 270.3L643.0 271.0L645.0 271.7Z" fill="rgb(240,145,38)"/>
<path d="M645.0 270.7L648.0 271.1L648.0 262.2L638.1 262.2L638.2 263.7L638.6 265.2L640.0 267.7L642.0 269.4L644.5 270.6Z" fill="rgb(240,136,36)"/>
<path d="M644.9 269.7L648.0 270.2L648.0 262.2L639.1 262.2L639.5 264.7L640.6 266.7L642.5 268.6L644.5 269.6Z" fill="rgb(240,127,35)"/>
<path d="M647.5 269.2L648.0 269.2L648.0 262.2L640.2 262.2L640.7 264.7L642.0 266.8L644.0 268.3L645.5 268.9L647.0 269.2Z" fill="rgb(242,120,33)"/>
<path d="M647.0 268.2L648.0 268.3L648.0 262.2L641.3 262.2L641.7 264.2L642.1 265.2L642.9 266.2L644.5 267.4L647.0 268.2Z" fill="rgb(243,113,32)"/>
<path d="M646.9 267.2L648.0 267.3L648.0 262.2L642.4 262.2L642.6 263.7L643.5 265.3L645.0 266.5L646.5 267.1Z" fill="rgb(244,106,31)"/>
<path d="M647.0 266.2L648.0 266.3L648.0 262.2L643.5 262.2L643.8 263.7L644.4 264.7L645.5 265.6L647.0 266.2Z" fill="rgb(245,98,30)"/>
<path d="M647.2 265.2L648.0 265.3L648.0 262.2L644.6 262.2L644.8 263.2L645.4 264.2L646.0 264.7L647.0 265.2Z" fill="rgb(246,91,29)"/>
<path d="M647.4 264.2L648.0 264.3L648.0 262.2L645.7 262.2L646.0 263.2L647.0 264.1Z" fill="rgb(247,84,28)"/>
<path d="M647.7 263.2L648.0 263.3L648.0 262.2L646.8 262.2L647.0 262.7L647.5 263.1Z" fill="rgb(248,77,27)"/>
<path d="M486.3 262.2L486.4 347.4L486.6 364.4L487.0 374.5L487.5 379.5L488.3 384.5L491.5 396.3L492.5 399.2L493.6 401.5L495.0 403.5L496.2 404.5L497.5 405.1L499.0 405.4L502.0 405.2L508.5 403.9L517.0 401.8L543.0 394.3L648.0 363.2M499.7 262.2L500.0 330.4L500.2 341.9L500.6 349.9L501.6 358.9L502.3 362.4L503.0 365.0L504.0 367.5L505.0 369.1L506.5 370.8L508.0 371.9L509.5 372.7L511.5 373.3L514.0 373.7L516.5 373.9L523.0 373.7L532.0 372.6L564.0 367.2L648.0 351.8M510.8 262.2L510.9 280.2L511.5 313.8L512.1 329.9L512.7 338.9L513.7 344.9L514.5 347.5L515.5 349.9L516.6 351.9L518.0 353.7L519.5 355.1L521.0 356.2L523.0 357.2L525.0 357.8L530.0 358.6L536.5 358.7L546.0 358.0L559.0 356.5L576.5 354.2L648.0 343.9M520.1 262.2L520.3 279.2L521.5 304.3L522.3 315.8L523.5 326.9L524.7 333.4L525.4 335.9L526.3 337.9L527.1 339.4L528.5 341.1L529.9 342.4L531.5 343.4L533.5 344.3L536.0 345.1L541.5 346.0L549.5 346.3L560.5 346.0L571.5 345.2L584.5 344.1L627.5 339.8L648.0 337.3M528.1 262.2L528.3 273.2L529.0 282.7L531.5 303.7L533.2 313.3L535.3 320.8L536.5 323.8L537.7 326.4L539.0 328.4L540.5 330.3L542.3 331.9L544.0 333.0L546.0 334.0L548.4 334.9L554.0 336.1L561.5 336.8L571.0 337.0L583.0 336.5L625.0 334.0L636.0 333.1L648.0 331.8M535.5 262.2L535.9 272.7L536.3 277.2L537.0 281.7L538.0 286.3L540.5 295.8L543.3 304.8L544.5 307.8L546.0 310.8L547.5 313.2L549.0 315.2L551.0 317.4L553.0 319.3L555.5 321.3L558.0 322.9L563.0 325.3L568.1 326.9L574.0 327.9L581.5 328.6L592.5 328.8L624.5 328.8L635.5 328.3L648.0 327.1M542.8 262.2L543.0 269.7L543.9 276.2L545.5 282.2L547.8 287.8L553.0 297.8L555.4 301.8L557.5 304.7L559.7 307.3L562.2 309.8L564.7 311.8L567.5 313.7L573.0 316.3L579.5 318.4L587.5 319.9L599.0 321.5L617.0 323.4L626.5 324.0L636.5 323.9L648.0 323.0M550.0 262.2L550.3 268.7L551.2 274.2L552.7 279.2L554.9 283.8L556.8 286.8L560.0 291.1L566.0 298.5L570.5 302.8L573.0 304.7L575.4 306.3L581.0 309.0L588.5 311.4L609.2 316.3L620.0 318.6L626.5 319.6L633.0 320.0L640.0 319.9L648.0 319.3M557.0 262.2L557.4 268.2L558.3 273.2L559.9 277.7L562.1 281.7L565.5 286.1L570.5 291.1L575.5 295.3L580.5 298.6L587.0 302.0L594.9 305.3L610.5 310.8L621.5 314.2L627.5 315.4L633.5 316.1L640.5 316.2L648.0 315.8M563.9 262.2L564.2 266.7L565.0 271.2L566.1 274.7L567.9 278.2L570.1 281.2L573.0 284.3L576.5 287.0L581.0 289.9L590.0 294.8L609.1 304.3L616.5 307.7L622.0 309.8L628.0 311.5L634.0 312.4L640.5 312.7L648.0 312.5M571.2 262.2L571.4 265.7L572.0 269.2L572.9 272.2L574.4 275.2L576.0 277.5L578.1 279.7L581.0 282.2L584.1 284.3L588.0 286.5L602.0 293.8L618.0 303.1L624.5 306.2L629.5 307.8L635.0 308.8L641.0 309.2L648.0 309.1M579.9 262.2L580.1 265.2L580.7 268.2L581.6 270.7L582.9 273.2L584.8 275.7L586.8 277.7L589.3 279.7L592.9 282.2L607.0 290.5L620.7 299.3L624.0 301.1L627.0 302.5L631.5 304.1L636.5 305.1L642.0 305.6L648.0 305.6M584.9 262.2L585.1 265.2L585.8 268.2L586.8 270.7L588.3 273.2L590.4 275.7L592.4 277.7L595.6 280.2L599.2 282.7L609.5 289.2L621.5 297.2L625.0 299.2L628.0 300.6L632.5 302.2L637.0 303.2L642.5 303.7L648.0 303.7M590.1 262.2L590.4 265.2L591.1 268.2L592.4 271.2L594.0 273.7L596.2 276.2L598.9 278.7L602.0 281.2L607.0 284.8L622.0 294.9L626.0 297.3L629.5 298.9L633.5 300.3L638.0 301.3L643.0 301.8L648.0 301.8M595.2 262.2L595.5 265.7L596.3 268.7L597.7 271.7L599.3 274.2L601.5 276.7L604.6 279.7L608.3 282.7L613.7 286.8L624.0 293.7L627.5 295.7L631.0 297.2L635.0 298.5L639.0 299.3L643.5 299.8L648.0 299.9M599.9 262.2L600.1 265.2L600.8 268.2L601.9 271.2L603.7 274.2L605.7 276.7L608.6 279.7L612.0 282.7L616.5 286.3L621.0 289.4L625.0 292.0L628.5 293.9L632.0 295.4L635.5 296.5L639.5 297.3L643.5 297.8L648.0 297.9M604.9 262.2L605.1 265.2L605.7 268.2L606.8 271.2L608.1 273.7L609.8 276.2L612.4 279.2L615.6 282.2L619.0 285.1L622.7 287.8L626.5 290.1L630.0 291.9L633.0 293.1L636.5 294.1L640.0 294.8L644.0 295.3L648.0 295.4M609.2 262.2L609.4 265.2L610.0 268.2L611.0 271.2L612.2 273.7L613.8 276.2L615.8 278.7L618.2 281.2L621.1 283.8L624.5 286.2L627.5 288.0L630.5 289.5L634.0 290.9L637.0 291.8L640.5 292.5L644.0 292.9L648.0 293.0M613.6 262.2L613.8 265.2L614.3 268.2L615.1 270.7L616.2 273.2L617.6 275.7L619.1 277.7L621.4 280.2L623.7 282.2L626.4 284.3L628.9 285.8L631.5 287.0L634.5 288.2L637.5 289.0L641.0 289.7L644.5 290.1L648.0 290.2M617.4 262.2L617.6 265.2L618.0 267.7L618.7 270.2L619.7 272.7L620.8 274.7L622.2 276.7L624.0 278.7L626.0 280.6L628.2 282.2L630.5 283.6L633.0 284.8L635.5 285.8L638.5 286.6L641.5 287.2L648.0 287.6M621.9 262.2L622.3 266.7L622.9 269.2L623.7 271.2L624.7 273.2L626.0 275.2L628.8 278.2L632.5 280.8L637.0 282.7L639.5 283.4L642.5 283.9L648.0 284.3M626.1 262.2L626.5 266.2L627.7 270.2L629.5 273.4L632.0 276.0L635.3 278.2L639.0 279.8L643.5 280.7L648.0 281.0M630.2 262.2L630.5 265.7L631.5 268.7L632.9 271.2L635.0 273.6L637.5 275.3L640.5 276.6L644.0 277.4L648.0 277.7M634.4 262.2L634.6 264.7L635.4 267.2L636.5 269.2L638.0 270.8L640.0 272.3L642.5 273.4L645.0 274.0L648.0 274.3M637.6 262.2L637.8 264.2L638.3 265.7L639.1 267.2L640.5 268.9L642.0 270.0L644.0 270.9L646.0 271.3L648.0 271.5M641.0 262.2L641.2 263.7L641.5 264.7L642.1 265.7L643.0 266.7L644.0 267.5L645.5 268.2L648.0 268.6M644.5 262.2L644.6 263.2L645.5 264.5L646.5 265.1L648.0 265.4" fill="none" stroke="#787878" stroke-opacity="0.55" stroke-width="0.45"/>
<path d="M648.0 262.2V429.6H473.0" fill="none" stroke="#111" stroke-width="0.9"/>
<path d="M473.0 429.6V262.2H648.0" fill="none" stroke="#15154a" stroke-width="0.6"/>
<path d="M487.5 270.2V429.6" stroke="#9a9a9a" stroke-dashoffset="5.9" stroke-width="1.2" stroke-dasharray="7.2 3.5 1.4 3.5" fill="none"/>
<path d="M543.0 270.2V429.6" stroke="#9a9a9a" stroke-dashoffset="5.9" stroke-width="1.2" stroke-dasharray="7.2 3.5 1.4 3.5" fill="none"/>
<path d="M598.8 270.2V429.6" stroke="#9a9a9a" stroke-dashoffset="5.9" stroke-width="1.2" stroke-dasharray="7.2 3.5 1.4 3.5" fill="none"/>
<path d="M473.0 304.3H648.0" stroke="#f0261c" stroke-width="1.4" stroke-dasharray="5.7 2.9 2 3 2 3.2" fill="none"/>
<path d="M473.0 346.1H648.0" stroke="#f0261c" stroke-width="1.4" stroke-dasharray="5.7 2.9 2 3 2 3.2" fill="none"/>
<path d="M473.0 388.2H648.0" stroke="#f0261c" stroke-width="1.4" stroke-dasharray="5.7 2.9 2 3 2 3.2" fill="none"/>
<text x="483.4" y="255.6" font-size="13.5" fill="#111" font-style="italic">T<tspan font-size="11.5" dy="4.2" dx="-0.6">1</tspan></text>
<text x="538.4" y="255.6" font-size="13.5" fill="#111" font-style="italic">T<tspan font-size="11.5" dy="4.2" dx="-0.6">2</tspan></text>
<text x="594.7" y="255.6" font-size="13.5" fill="#111" font-style="italic">T<tspan font-size="11.5" dy="4.2" dx="-0.6">3</tspan></text>
<text x="445.6" y="304.5" font-size="14" fill="#111" font-style="italic">P<tspan font-style="normal" font-size="9.5" dy="3.4">Nb1</tspan></text>
<text x="445.6" y="345.6" font-size="14" fill="#111" font-style="italic">P<tspan font-style="normal" font-size="9.5" dy="3.4">Nb2</tspan></text>
<text x="445.6" y="387.6" font-size="14" fill="#111" font-style="italic">P<tspan font-style="normal" font-size="9.5" dy="3.4">Nb3</tspan></text>
<text x="441.1" y="362.4" font-size="14.7" fill="#111" transform="rotate(-90 441.1 362.4)">lg(<tspan font-style="italic">P</tspan><tspan font-size="9.4" dy="3.2">Nb</tspan><tspan dy="-3.2">)</tspan></text>
<text x="556.9" y="447.9" font-size="15" fill="#111" font-style="italic">T</text>
<text x="646" y="251" font-size="14.5" fill="#111" font-style="italic">P<tspan font-style="normal" font-size="10" dy="3.6">eff-sub</tspan></text>
<rect x="663.1" y="261.9" width="11.5" height="167.5" fill="url(#cb)"/>
<path d="M674.6 262.2V429.4" stroke="#666" stroke-width="0.5"/>
<path d="M656 386.6V316" stroke="#111" stroke-width="1.5"/>
<path d="M656 308.6l-3.1 10.5h6.2z" fill="#111"/>
</svg>
</body></html>
